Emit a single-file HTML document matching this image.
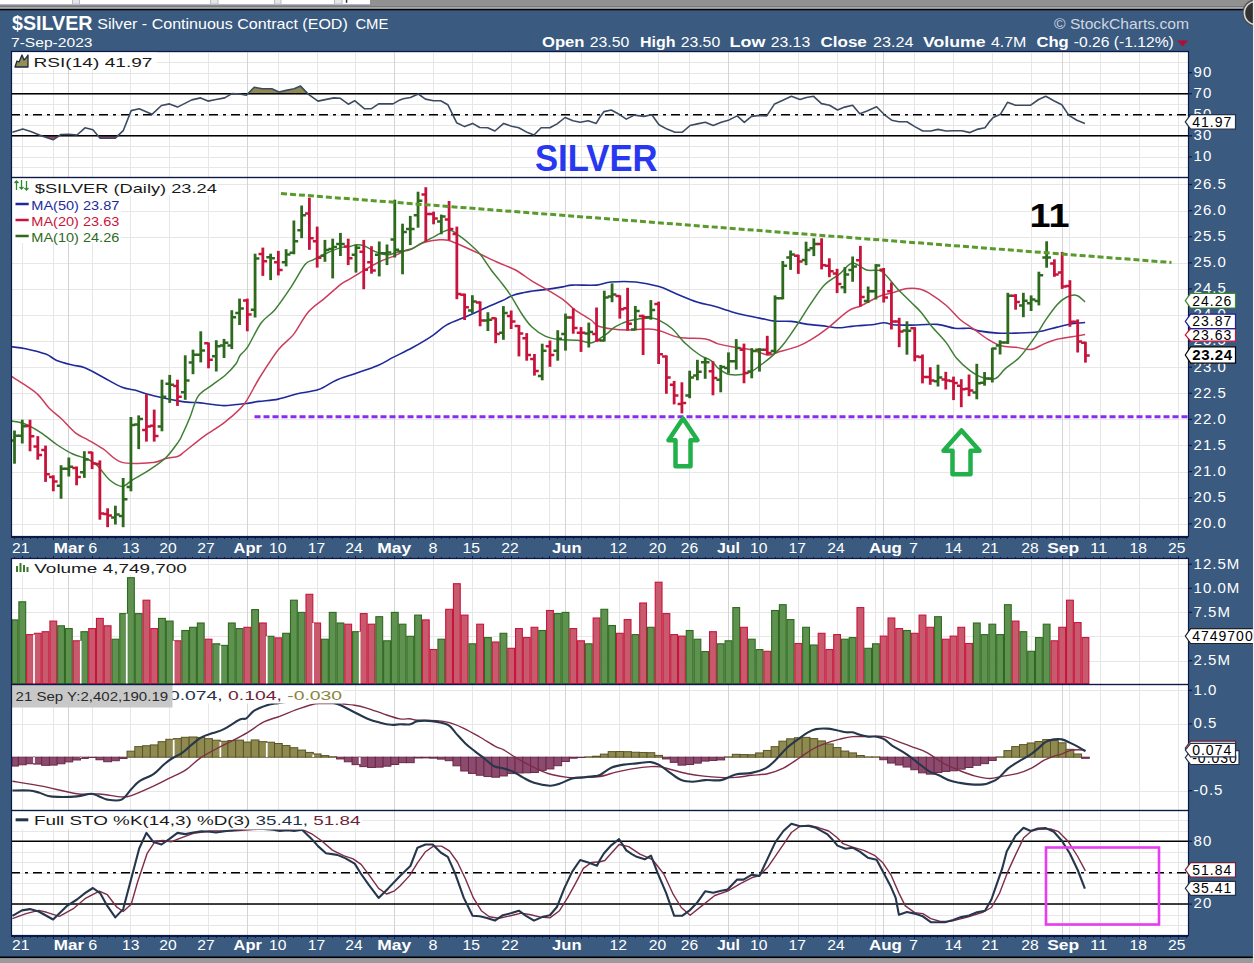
<!DOCTYPE html>
<html><head><meta charset="utf-8"><style>
html,body{margin:0;padding:0;}
body{width:1254px;height:963px;overflow:hidden;background:#3a5a80;position:relative;font-family:"Liberation Sans",sans-serif;}
svg{position:absolute;left:0;top:0;}
svg text{font-family:"Liberation Sans",sans-serif;}
</style></head><body>
<svg width="1254" height="963" viewBox="0 0 1254 963">
<rect x="0" y="0" width="1254" height="963" fill="#3a5a80"/>
<!-- top window strip -->
<rect x="0" y="0" width="1254" height="6.2" fill="#919191"/>
<rect x="0" y="6.2" width="1254" height="0.8" fill="#7e7e7e"/>
<rect x="0" y="7" width="1254" height="1.9" fill="#a9a9a9"/>
<rect x="0" y="8.9" width="1254" height="1.4" fill="#000"/>
<rect x="0" y="0" width="370" height="4.1" fill="#fff"/>
<rect x="0" y="4.1" width="370" height="1" fill="#b3bac6"/>
<rect x="0" y="5.1" width="370" height="1.1" fill="#8a8a8a"/>
<g fill="#e6e6e6" stroke="#b4bccb" stroke-width="1"><rect x="72.5" y="-1" width="7" height="5.1"/><rect x="210.5" y="-1" width="7.5" height="5.1"/><rect x="274.5" y="-1" width="6.5" height="5.1"/><rect x="334.5" y="-1" width="7.5" height="5.1"/></g>
<rect x="345.8" y="0" width="1.5" height="2.8" fill="#333"/>
<rect x="0" y="956" width="1254" height="0.8" fill="#1a2a40"/>
<rect x="0" y="956.8" width="1254" height="1.3" fill="#000"/>
<rect x="0" y="958.1" width="1254" height="5" fill="#9a9a9a"/>
<rect x="1252" y="10" width="0.9" height="946" fill="#2c4a70"/>
<rect x="11" y="51" width="1177" height="126" fill="#fff"/>
<rect x="11" y="177" width="1177" height="359" fill="#fff"/>
<rect x="11" y="558" width="1177" height="126" fill="#fff"/>
<rect x="11" y="684" width="1177" height="126" fill="#fff"/>
<rect x="11" y="810" width="1177" height="125" fill="#fff"/>
<line x1="11" y1="167.5" x2="1188" y2="167.5" stroke="#e7e7e7" stroke-width="1"/>
<line x1="11" y1="157.5" x2="1188" y2="157.5" stroke="#e7e7e7" stroke-width="1"/>
<line x1="11" y1="146.5" x2="1188" y2="146.5" stroke="#e7e7e7" stroke-width="1"/>
<line x1="11" y1="136.5" x2="1188" y2="136.5" stroke="#e7e7e7" stroke-width="1"/>
<line x1="11" y1="125.5" x2="1188" y2="125.5" stroke="#e7e7e7" stroke-width="1"/>
<line x1="11" y1="115.5" x2="1188" y2="115.5" stroke="#e7e7e7" stroke-width="1"/>
<line x1="11" y1="104.5" x2="1188" y2="104.5" stroke="#e7e7e7" stroke-width="1"/>
<line x1="11" y1="94.5" x2="1188" y2="94.5" stroke="#e7e7e7" stroke-width="1"/>
<line x1="11" y1="83.5" x2="1188" y2="83.5" stroke="#e7e7e7" stroke-width="1"/>
<line x1="11" y1="73.5" x2="1188" y2="73.5" stroke="#e7e7e7" stroke-width="1"/>
<line x1="11" y1="62.5" x2="1188" y2="62.5" stroke="#e7e7e7" stroke-width="1"/>
<line x1="11" y1="52.5" x2="1188" y2="52.5" stroke="#e7e7e7" stroke-width="1"/>
<line x1="22.5" y1="52" x2="22.5" y2="177" stroke="#e7e7e7" stroke-width="1"/>
<line x1="53.5" y1="52" x2="53.5" y2="177" stroke="#e7e7e7" stroke-width="1"/>
<line x1="92.5" y1="52" x2="92.5" y2="177" stroke="#e7e7e7" stroke-width="1"/>
<line x1="130.5" y1="52" x2="130.5" y2="177" stroke="#e7e7e7" stroke-width="1"/>
<line x1="169.5" y1="52" x2="169.5" y2="177" stroke="#e7e7e7" stroke-width="1"/>
<line x1="208.5" y1="52" x2="208.5" y2="177" stroke="#e7e7e7" stroke-width="1"/>
<line x1="278.5" y1="52" x2="278.5" y2="177" stroke="#e7e7e7" stroke-width="1"/>
<line x1="317.5" y1="52" x2="317.5" y2="177" stroke="#e7e7e7" stroke-width="1"/>
<line x1="355.5" y1="52" x2="355.5" y2="177" stroke="#e7e7e7" stroke-width="1"/>
<line x1="433.5" y1="52" x2="433.5" y2="177" stroke="#e7e7e7" stroke-width="1"/>
<line x1="472.5" y1="52" x2="472.5" y2="177" stroke="#e7e7e7" stroke-width="1"/>
<line x1="511.5" y1="52" x2="511.5" y2="177" stroke="#e7e7e7" stroke-width="1"/>
<line x1="549.5" y1="52" x2="549.5" y2="177" stroke="#e7e7e7" stroke-width="1"/>
<line x1="581.5" y1="52" x2="581.5" y2="177" stroke="#e7e7e7" stroke-width="1"/>
<line x1="619.5" y1="52" x2="619.5" y2="177" stroke="#e7e7e7" stroke-width="1"/>
<line x1="658.5" y1="52" x2="658.5" y2="177" stroke="#e7e7e7" stroke-width="1"/>
<line x1="689.5" y1="52" x2="689.5" y2="177" stroke="#e7e7e7" stroke-width="1"/>
<line x1="759.5" y1="52" x2="759.5" y2="177" stroke="#e7e7e7" stroke-width="1"/>
<line x1="798.5" y1="52" x2="798.5" y2="177" stroke="#e7e7e7" stroke-width="1"/>
<line x1="837.5" y1="52" x2="837.5" y2="177" stroke="#e7e7e7" stroke-width="1"/>
<line x1="875.5" y1="52" x2="875.5" y2="177" stroke="#e7e7e7" stroke-width="1"/>
<line x1="914.5" y1="52" x2="914.5" y2="177" stroke="#e7e7e7" stroke-width="1"/>
<line x1="953.5" y1="52" x2="953.5" y2="177" stroke="#e7e7e7" stroke-width="1"/>
<line x1="992.5" y1="52" x2="992.5" y2="177" stroke="#e7e7e7" stroke-width="1"/>
<line x1="1031.5" y1="52" x2="1031.5" y2="177" stroke="#e7e7e7" stroke-width="1"/>
<line x1="1069.5" y1="52" x2="1069.5" y2="177" stroke="#e7e7e7" stroke-width="1"/>
<line x1="1100.5" y1="52" x2="1100.5" y2="177" stroke="#e7e7e7" stroke-width="1"/>
<line x1="1139.5" y1="52" x2="1139.5" y2="177" stroke="#e7e7e7" stroke-width="1"/>
<line x1="1178.5" y1="52" x2="1178.5" y2="177" stroke="#e7e7e7" stroke-width="1"/>
<line x1="68.5" y1="52" x2="68.5" y2="177" stroke="#d4d4d4" stroke-width="1"/>
<line x1="247.5" y1="52" x2="247.5" y2="177" stroke="#d4d4d4" stroke-width="1"/>
<line x1="394.5" y1="52" x2="394.5" y2="177" stroke="#d4d4d4" stroke-width="1"/>
<line x1="565.5" y1="52" x2="565.5" y2="177" stroke="#d4d4d4" stroke-width="1"/>
<line x1="728.5" y1="52" x2="728.5" y2="177" stroke="#d4d4d4" stroke-width="1"/>
<line x1="883.5" y1="52" x2="883.5" y2="177" stroke="#d4d4d4" stroke-width="1"/>
<line x1="1062.5" y1="52" x2="1062.5" y2="177" stroke="#d4d4d4" stroke-width="1"/>
<line x1="11" y1="524.5" x2="1188" y2="524.5" stroke="#e7e7e7" stroke-width="1"/>
<line x1="11" y1="498.5" x2="1188" y2="498.5" stroke="#e7e7e7" stroke-width="1"/>
<line x1="11" y1="472.5" x2="1188" y2="472.5" stroke="#e7e7e7" stroke-width="1"/>
<line x1="11" y1="445.5" x2="1188" y2="445.5" stroke="#e7e7e7" stroke-width="1"/>
<line x1="11" y1="419.5" x2="1188" y2="419.5" stroke="#e7e7e7" stroke-width="1"/>
<line x1="11" y1="393.5" x2="1188" y2="393.5" stroke="#e7e7e7" stroke-width="1"/>
<line x1="11" y1="367.5" x2="1188" y2="367.5" stroke="#e7e7e7" stroke-width="1"/>
<line x1="11" y1="341.5" x2="1188" y2="341.5" stroke="#e7e7e7" stroke-width="1"/>
<line x1="11" y1="315.5" x2="1188" y2="315.5" stroke="#e7e7e7" stroke-width="1"/>
<line x1="11" y1="289.5" x2="1188" y2="289.5" stroke="#e7e7e7" stroke-width="1"/>
<line x1="11" y1="263.5" x2="1188" y2="263.5" stroke="#e7e7e7" stroke-width="1"/>
<line x1="11" y1="237.5" x2="1188" y2="237.5" stroke="#e7e7e7" stroke-width="1"/>
<line x1="11" y1="211.5" x2="1188" y2="211.5" stroke="#e7e7e7" stroke-width="1"/>
<line x1="11" y1="184.5" x2="1188" y2="184.5" stroke="#e7e7e7" stroke-width="1"/>
<line x1="22.5" y1="178" x2="22.5" y2="536" stroke="#e7e7e7" stroke-width="1"/>
<line x1="53.5" y1="178" x2="53.5" y2="536" stroke="#e7e7e7" stroke-width="1"/>
<line x1="92.5" y1="178" x2="92.5" y2="536" stroke="#e7e7e7" stroke-width="1"/>
<line x1="130.5" y1="178" x2="130.5" y2="536" stroke="#e7e7e7" stroke-width="1"/>
<line x1="169.5" y1="178" x2="169.5" y2="536" stroke="#e7e7e7" stroke-width="1"/>
<line x1="208.5" y1="178" x2="208.5" y2="536" stroke="#e7e7e7" stroke-width="1"/>
<line x1="278.5" y1="178" x2="278.5" y2="536" stroke="#e7e7e7" stroke-width="1"/>
<line x1="317.5" y1="178" x2="317.5" y2="536" stroke="#e7e7e7" stroke-width="1"/>
<line x1="355.5" y1="178" x2="355.5" y2="536" stroke="#e7e7e7" stroke-width="1"/>
<line x1="433.5" y1="178" x2="433.5" y2="536" stroke="#e7e7e7" stroke-width="1"/>
<line x1="472.5" y1="178" x2="472.5" y2="536" stroke="#e7e7e7" stroke-width="1"/>
<line x1="511.5" y1="178" x2="511.5" y2="536" stroke="#e7e7e7" stroke-width="1"/>
<line x1="549.5" y1="178" x2="549.5" y2="536" stroke="#e7e7e7" stroke-width="1"/>
<line x1="581.5" y1="178" x2="581.5" y2="536" stroke="#e7e7e7" stroke-width="1"/>
<line x1="619.5" y1="178" x2="619.5" y2="536" stroke="#e7e7e7" stroke-width="1"/>
<line x1="658.5" y1="178" x2="658.5" y2="536" stroke="#e7e7e7" stroke-width="1"/>
<line x1="689.5" y1="178" x2="689.5" y2="536" stroke="#e7e7e7" stroke-width="1"/>
<line x1="759.5" y1="178" x2="759.5" y2="536" stroke="#e7e7e7" stroke-width="1"/>
<line x1="798.5" y1="178" x2="798.5" y2="536" stroke="#e7e7e7" stroke-width="1"/>
<line x1="837.5" y1="178" x2="837.5" y2="536" stroke="#e7e7e7" stroke-width="1"/>
<line x1="875.5" y1="178" x2="875.5" y2="536" stroke="#e7e7e7" stroke-width="1"/>
<line x1="914.5" y1="178" x2="914.5" y2="536" stroke="#e7e7e7" stroke-width="1"/>
<line x1="953.5" y1="178" x2="953.5" y2="536" stroke="#e7e7e7" stroke-width="1"/>
<line x1="992.5" y1="178" x2="992.5" y2="536" stroke="#e7e7e7" stroke-width="1"/>
<line x1="1031.5" y1="178" x2="1031.5" y2="536" stroke="#e7e7e7" stroke-width="1"/>
<line x1="1069.5" y1="178" x2="1069.5" y2="536" stroke="#e7e7e7" stroke-width="1"/>
<line x1="1100.5" y1="178" x2="1100.5" y2="536" stroke="#e7e7e7" stroke-width="1"/>
<line x1="1139.5" y1="178" x2="1139.5" y2="536" stroke="#e7e7e7" stroke-width="1"/>
<line x1="1178.5" y1="178" x2="1178.5" y2="536" stroke="#e7e7e7" stroke-width="1"/>
<line x1="68.5" y1="178" x2="68.5" y2="536" stroke="#d4d4d4" stroke-width="1"/>
<line x1="247.5" y1="178" x2="247.5" y2="536" stroke="#d4d4d4" stroke-width="1"/>
<line x1="394.5" y1="178" x2="394.5" y2="536" stroke="#d4d4d4" stroke-width="1"/>
<line x1="565.5" y1="178" x2="565.5" y2="536" stroke="#d4d4d4" stroke-width="1"/>
<line x1="728.5" y1="178" x2="728.5" y2="536" stroke="#d4d4d4" stroke-width="1"/>
<line x1="883.5" y1="178" x2="883.5" y2="536" stroke="#d4d4d4" stroke-width="1"/>
<line x1="1062.5" y1="178" x2="1062.5" y2="536" stroke="#d4d4d4" stroke-width="1"/>
<line x1="11" y1="661.5" x2="1188" y2="661.5" stroke="#e7e7e7" stroke-width="1"/>
<line x1="11" y1="636.5" x2="1188" y2="636.5" stroke="#e7e7e7" stroke-width="1"/>
<line x1="11" y1="612.5" x2="1188" y2="612.5" stroke="#e7e7e7" stroke-width="1"/>
<line x1="11" y1="588.5" x2="1188" y2="588.5" stroke="#e7e7e7" stroke-width="1"/>
<line x1="11" y1="564.5" x2="1188" y2="564.5" stroke="#e7e7e7" stroke-width="1"/>
<line x1="22.5" y1="559" x2="22.5" y2="684" stroke="#e7e7e7" stroke-width="1"/>
<line x1="53.5" y1="559" x2="53.5" y2="684" stroke="#e7e7e7" stroke-width="1"/>
<line x1="92.5" y1="559" x2="92.5" y2="684" stroke="#e7e7e7" stroke-width="1"/>
<line x1="130.5" y1="559" x2="130.5" y2="684" stroke="#e7e7e7" stroke-width="1"/>
<line x1="169.5" y1="559" x2="169.5" y2="684" stroke="#e7e7e7" stroke-width="1"/>
<line x1="208.5" y1="559" x2="208.5" y2="684" stroke="#e7e7e7" stroke-width="1"/>
<line x1="278.5" y1="559" x2="278.5" y2="684" stroke="#e7e7e7" stroke-width="1"/>
<line x1="317.5" y1="559" x2="317.5" y2="684" stroke="#e7e7e7" stroke-width="1"/>
<line x1="355.5" y1="559" x2="355.5" y2="684" stroke="#e7e7e7" stroke-width="1"/>
<line x1="433.5" y1="559" x2="433.5" y2="684" stroke="#e7e7e7" stroke-width="1"/>
<line x1="472.5" y1="559" x2="472.5" y2="684" stroke="#e7e7e7" stroke-width="1"/>
<line x1="511.5" y1="559" x2="511.5" y2="684" stroke="#e7e7e7" stroke-width="1"/>
<line x1="549.5" y1="559" x2="549.5" y2="684" stroke="#e7e7e7" stroke-width="1"/>
<line x1="581.5" y1="559" x2="581.5" y2="684" stroke="#e7e7e7" stroke-width="1"/>
<line x1="619.5" y1="559" x2="619.5" y2="684" stroke="#e7e7e7" stroke-width="1"/>
<line x1="658.5" y1="559" x2="658.5" y2="684" stroke="#e7e7e7" stroke-width="1"/>
<line x1="689.5" y1="559" x2="689.5" y2="684" stroke="#e7e7e7" stroke-width="1"/>
<line x1="759.5" y1="559" x2="759.5" y2="684" stroke="#e7e7e7" stroke-width="1"/>
<line x1="798.5" y1="559" x2="798.5" y2="684" stroke="#e7e7e7" stroke-width="1"/>
<line x1="837.5" y1="559" x2="837.5" y2="684" stroke="#e7e7e7" stroke-width="1"/>
<line x1="875.5" y1="559" x2="875.5" y2="684" stroke="#e7e7e7" stroke-width="1"/>
<line x1="914.5" y1="559" x2="914.5" y2="684" stroke="#e7e7e7" stroke-width="1"/>
<line x1="953.5" y1="559" x2="953.5" y2="684" stroke="#e7e7e7" stroke-width="1"/>
<line x1="992.5" y1="559" x2="992.5" y2="684" stroke="#e7e7e7" stroke-width="1"/>
<line x1="1031.5" y1="559" x2="1031.5" y2="684" stroke="#e7e7e7" stroke-width="1"/>
<line x1="1069.5" y1="559" x2="1069.5" y2="684" stroke="#e7e7e7" stroke-width="1"/>
<line x1="1100.5" y1="559" x2="1100.5" y2="684" stroke="#e7e7e7" stroke-width="1"/>
<line x1="1139.5" y1="559" x2="1139.5" y2="684" stroke="#e7e7e7" stroke-width="1"/>
<line x1="1178.5" y1="559" x2="1178.5" y2="684" stroke="#e7e7e7" stroke-width="1"/>
<line x1="68.5" y1="559" x2="68.5" y2="684" stroke="#d4d4d4" stroke-width="1"/>
<line x1="247.5" y1="559" x2="247.5" y2="684" stroke="#d4d4d4" stroke-width="1"/>
<line x1="394.5" y1="559" x2="394.5" y2="684" stroke="#d4d4d4" stroke-width="1"/>
<line x1="565.5" y1="559" x2="565.5" y2="684" stroke="#d4d4d4" stroke-width="1"/>
<line x1="728.5" y1="559" x2="728.5" y2="684" stroke="#d4d4d4" stroke-width="1"/>
<line x1="883.5" y1="559" x2="883.5" y2="684" stroke="#d4d4d4" stroke-width="1"/>
<line x1="1062.5" y1="559" x2="1062.5" y2="684" stroke="#d4d4d4" stroke-width="1"/>
<line x1="11" y1="690.5" x2="1188" y2="690.5" stroke="#e7e7e7" stroke-width="1"/>
<line x1="11" y1="724.5" x2="1188" y2="724.5" stroke="#e7e7e7" stroke-width="1"/>
<line x1="11" y1="791.5" x2="1188" y2="791.5" stroke="#e7e7e7" stroke-width="1"/>
<line x1="22.5" y1="685" x2="22.5" y2="810" stroke="#e7e7e7" stroke-width="1"/>
<line x1="53.5" y1="685" x2="53.5" y2="810" stroke="#e7e7e7" stroke-width="1"/>
<line x1="92.5" y1="685" x2="92.5" y2="810" stroke="#e7e7e7" stroke-width="1"/>
<line x1="130.5" y1="685" x2="130.5" y2="810" stroke="#e7e7e7" stroke-width="1"/>
<line x1="169.5" y1="685" x2="169.5" y2="810" stroke="#e7e7e7" stroke-width="1"/>
<line x1="208.5" y1="685" x2="208.5" y2="810" stroke="#e7e7e7" stroke-width="1"/>
<line x1="278.5" y1="685" x2="278.5" y2="810" stroke="#e7e7e7" stroke-width="1"/>
<line x1="317.5" y1="685" x2="317.5" y2="810" stroke="#e7e7e7" stroke-width="1"/>
<line x1="355.5" y1="685" x2="355.5" y2="810" stroke="#e7e7e7" stroke-width="1"/>
<line x1="433.5" y1="685" x2="433.5" y2="810" stroke="#e7e7e7" stroke-width="1"/>
<line x1="472.5" y1="685" x2="472.5" y2="810" stroke="#e7e7e7" stroke-width="1"/>
<line x1="511.5" y1="685" x2="511.5" y2="810" stroke="#e7e7e7" stroke-width="1"/>
<line x1="549.5" y1="685" x2="549.5" y2="810" stroke="#e7e7e7" stroke-width="1"/>
<line x1="581.5" y1="685" x2="581.5" y2="810" stroke="#e7e7e7" stroke-width="1"/>
<line x1="619.5" y1="685" x2="619.5" y2="810" stroke="#e7e7e7" stroke-width="1"/>
<line x1="658.5" y1="685" x2="658.5" y2="810" stroke="#e7e7e7" stroke-width="1"/>
<line x1="689.5" y1="685" x2="689.5" y2="810" stroke="#e7e7e7" stroke-width="1"/>
<line x1="759.5" y1="685" x2="759.5" y2="810" stroke="#e7e7e7" stroke-width="1"/>
<line x1="798.5" y1="685" x2="798.5" y2="810" stroke="#e7e7e7" stroke-width="1"/>
<line x1="837.5" y1="685" x2="837.5" y2="810" stroke="#e7e7e7" stroke-width="1"/>
<line x1="875.5" y1="685" x2="875.5" y2="810" stroke="#e7e7e7" stroke-width="1"/>
<line x1="914.5" y1="685" x2="914.5" y2="810" stroke="#e7e7e7" stroke-width="1"/>
<line x1="953.5" y1="685" x2="953.5" y2="810" stroke="#e7e7e7" stroke-width="1"/>
<line x1="992.5" y1="685" x2="992.5" y2="810" stroke="#e7e7e7" stroke-width="1"/>
<line x1="1031.5" y1="685" x2="1031.5" y2="810" stroke="#e7e7e7" stroke-width="1"/>
<line x1="1069.5" y1="685" x2="1069.5" y2="810" stroke="#e7e7e7" stroke-width="1"/>
<line x1="1100.5" y1="685" x2="1100.5" y2="810" stroke="#e7e7e7" stroke-width="1"/>
<line x1="1139.5" y1="685" x2="1139.5" y2="810" stroke="#e7e7e7" stroke-width="1"/>
<line x1="1178.5" y1="685" x2="1178.5" y2="810" stroke="#e7e7e7" stroke-width="1"/>
<line x1="68.5" y1="685" x2="68.5" y2="810" stroke="#d4d4d4" stroke-width="1"/>
<line x1="247.5" y1="685" x2="247.5" y2="810" stroke="#d4d4d4" stroke-width="1"/>
<line x1="394.5" y1="685" x2="394.5" y2="810" stroke="#d4d4d4" stroke-width="1"/>
<line x1="565.5" y1="685" x2="565.5" y2="810" stroke="#d4d4d4" stroke-width="1"/>
<line x1="728.5" y1="685" x2="728.5" y2="810" stroke="#d4d4d4" stroke-width="1"/>
<line x1="883.5" y1="685" x2="883.5" y2="810" stroke="#d4d4d4" stroke-width="1"/>
<line x1="1062.5" y1="685" x2="1062.5" y2="810" stroke="#d4d4d4" stroke-width="1"/>
<line x1="11" y1="925.5" x2="1188" y2="925.5" stroke="#e7e7e7" stroke-width="1"/>
<line x1="11" y1="915.5" x2="1188" y2="915.5" stroke="#e7e7e7" stroke-width="1"/>
<line x1="11" y1="904.5" x2="1188" y2="904.5" stroke="#e7e7e7" stroke-width="1"/>
<line x1="11" y1="894.5" x2="1188" y2="894.5" stroke="#e7e7e7" stroke-width="1"/>
<line x1="11" y1="883.5" x2="1188" y2="883.5" stroke="#e7e7e7" stroke-width="1"/>
<line x1="11" y1="873.5" x2="1188" y2="873.5" stroke="#e7e7e7" stroke-width="1"/>
<line x1="11" y1="862.5" x2="1188" y2="862.5" stroke="#e7e7e7" stroke-width="1"/>
<line x1="11" y1="852.5" x2="1188" y2="852.5" stroke="#e7e7e7" stroke-width="1"/>
<line x1="11" y1="841.5" x2="1188" y2="841.5" stroke="#e7e7e7" stroke-width="1"/>
<line x1="11" y1="831.5" x2="1188" y2="831.5" stroke="#e7e7e7" stroke-width="1"/>
<line x1="11" y1="820.5" x2="1188" y2="820.5" stroke="#e7e7e7" stroke-width="1"/>
<line x1="22.5" y1="811" x2="22.5" y2="935" stroke="#e7e7e7" stroke-width="1"/>
<line x1="53.5" y1="811" x2="53.5" y2="935" stroke="#e7e7e7" stroke-width="1"/>
<line x1="92.5" y1="811" x2="92.5" y2="935" stroke="#e7e7e7" stroke-width="1"/>
<line x1="130.5" y1="811" x2="130.5" y2="935" stroke="#e7e7e7" stroke-width="1"/>
<line x1="169.5" y1="811" x2="169.5" y2="935" stroke="#e7e7e7" stroke-width="1"/>
<line x1="208.5" y1="811" x2="208.5" y2="935" stroke="#e7e7e7" stroke-width="1"/>
<line x1="278.5" y1="811" x2="278.5" y2="935" stroke="#e7e7e7" stroke-width="1"/>
<line x1="317.5" y1="811" x2="317.5" y2="935" stroke="#e7e7e7" stroke-width="1"/>
<line x1="355.5" y1="811" x2="355.5" y2="935" stroke="#e7e7e7" stroke-width="1"/>
<line x1="433.5" y1="811" x2="433.5" y2="935" stroke="#e7e7e7" stroke-width="1"/>
<line x1="472.5" y1="811" x2="472.5" y2="935" stroke="#e7e7e7" stroke-width="1"/>
<line x1="511.5" y1="811" x2="511.5" y2="935" stroke="#e7e7e7" stroke-width="1"/>
<line x1="549.5" y1="811" x2="549.5" y2="935" stroke="#e7e7e7" stroke-width="1"/>
<line x1="581.5" y1="811" x2="581.5" y2="935" stroke="#e7e7e7" stroke-width="1"/>
<line x1="619.5" y1="811" x2="619.5" y2="935" stroke="#e7e7e7" stroke-width="1"/>
<line x1="658.5" y1="811" x2="658.5" y2="935" stroke="#e7e7e7" stroke-width="1"/>
<line x1="689.5" y1="811" x2="689.5" y2="935" stroke="#e7e7e7" stroke-width="1"/>
<line x1="759.5" y1="811" x2="759.5" y2="935" stroke="#e7e7e7" stroke-width="1"/>
<line x1="798.5" y1="811" x2="798.5" y2="935" stroke="#e7e7e7" stroke-width="1"/>
<line x1="837.5" y1="811" x2="837.5" y2="935" stroke="#e7e7e7" stroke-width="1"/>
<line x1="875.5" y1="811" x2="875.5" y2="935" stroke="#e7e7e7" stroke-width="1"/>
<line x1="914.5" y1="811" x2="914.5" y2="935" stroke="#e7e7e7" stroke-width="1"/>
<line x1="953.5" y1="811" x2="953.5" y2="935" stroke="#e7e7e7" stroke-width="1"/>
<line x1="992.5" y1="811" x2="992.5" y2="935" stroke="#e7e7e7" stroke-width="1"/>
<line x1="1031.5" y1="811" x2="1031.5" y2="935" stroke="#e7e7e7" stroke-width="1"/>
<line x1="1069.5" y1="811" x2="1069.5" y2="935" stroke="#e7e7e7" stroke-width="1"/>
<line x1="1100.5" y1="811" x2="1100.5" y2="935" stroke="#e7e7e7" stroke-width="1"/>
<line x1="1139.5" y1="811" x2="1139.5" y2="935" stroke="#e7e7e7" stroke-width="1"/>
<line x1="1178.5" y1="811" x2="1178.5" y2="935" stroke="#e7e7e7" stroke-width="1"/>
<line x1="68.5" y1="811" x2="68.5" y2="935" stroke="#d4d4d4" stroke-width="1"/>
<line x1="247.5" y1="811" x2="247.5" y2="935" stroke="#d4d4d4" stroke-width="1"/>
<line x1="394.5" y1="811" x2="394.5" y2="935" stroke="#d4d4d4" stroke-width="1"/>
<line x1="565.5" y1="811" x2="565.5" y2="935" stroke="#d4d4d4" stroke-width="1"/>
<line x1="728.5" y1="811" x2="728.5" y2="935" stroke="#d4d4d4" stroke-width="1"/>
<line x1="883.5" y1="811" x2="883.5" y2="935" stroke="#d4d4d4" stroke-width="1"/>
<line x1="1062.5" y1="811" x2="1062.5" y2="935" stroke="#d4d4d4" stroke-width="1"/>
<clipPath id="ca"><rect x="0" y="0" width="1254" height="93.75"/></clipPath>
<clipPath id="cb"><rect x="0" y="135.85" width="1254" height="200"/></clipPath>
<polygon clip-path="url(#ca)" points="12.4,132.3 22.8,129.1 30.7,131.4 41.9,136.1 53.1,139.8 61,134.5 69,134.2 77,135 85,127.8 92.9,129.8 100.1,138.2 115.3,138.2 123.2,130.7 131.2,110.6 139.2,108.7 152,114.3 161.5,105.5 169.5,103.9 177.5,107.1 191.8,99.9 200.6,97.9 208,101.1 216,99.5 224.7,97.9 231.9,93.6 239.9,94 246.3,95.2 254.2,87.2 262.2,88.8 271.8,88.8 279,92 286.1,90.4 294.1,88.8 300.5,86.1 308.5,94.4 318,101.1 327.6,99.1 334,97.9 340.4,98.3 348.3,104.2 354.7,100.7 364.3,108.7 371.5,108.7 378.6,103.9 393,103.9 400,99.9 403.2,98.8 410.4,97.5 418.3,94 425.5,99.1 433.5,100.7 440.7,100.7 447.8,104.7 452.6,114.3 456.6,122.7 464.6,126.6 472.6,123.4 479.7,127.5 487.7,127.8 494.9,131 503.7,123.4 511.6,126.3 518.8,127.8 527.6,132.6 534,135 541.1,127.8 549.9,127.8 557.1,123.9 565.1,117.5 573,120.7 580.2,122.3 588.2,120.7 596.2,123.4 600,117 604,111.6 611.2,110 619.1,114.3 626.3,119.1 634.3,115.1 643.9,116.4 651.8,114.8 659,124.7 667,129.1 675,132.3 682.1,132.3 690.1,125.5 697.3,123.9 705.3,122.3 713.2,125.5 721.2,122.3 729.2,119.9 737.2,115.9 744.3,122.3 751.5,116.4 759.5,115.4 766.7,115.9 774.6,103.9 783.4,99.9 791.4,96.3 800,99.5 806.4,97.5 813.6,96.3 821.5,103.6 829.5,105.2 837.5,110 844.7,107.1 852.6,105.2 859.8,113.8 867,111.1 876.6,106.8 884.5,114.8 891.7,120.2 898.9,121.8 906.9,121.8 914.8,126.6 922.8,131 930.8,131 938,129.4 945.9,131 953.9,130.7 961.9,130.7 969.9,132.6 977,129.4 985,127.8 990,121.1 993.2,117.5 1000.4,114.3 1007.5,102.3 1015.5,105.2 1030.7,105.2 1038.6,99.5 1045.8,96.3 1053.8,100.7 1061.8,104.7 1068.9,115.4 1076.9,120.2 1084.9,123.4 1084.9,93.75 12.4,93.75" fill="#8f8a50"/>
<polygon clip-path="url(#cb)" points="12.4,132.3 22.8,129.1 30.7,131.4 41.9,136.1 53.1,139.8 61,134.5 69,134.2 77,135 85,127.8 92.9,129.8 100.1,138.2 115.3,138.2 123.2,130.7 131.2,110.6 139.2,108.7 152,114.3 161.5,105.5 169.5,103.9 177.5,107.1 191.8,99.9 200.6,97.9 208,101.1 216,99.5 224.7,97.9 231.9,93.6 239.9,94 246.3,95.2 254.2,87.2 262.2,88.8 271.8,88.8 279,92 286.1,90.4 294.1,88.8 300.5,86.1 308.5,94.4 318,101.1 327.6,99.1 334,97.9 340.4,98.3 348.3,104.2 354.7,100.7 364.3,108.7 371.5,108.7 378.6,103.9 393,103.9 400,99.9 403.2,98.8 410.4,97.5 418.3,94 425.5,99.1 433.5,100.7 440.7,100.7 447.8,104.7 452.6,114.3 456.6,122.7 464.6,126.6 472.6,123.4 479.7,127.5 487.7,127.8 494.9,131 503.7,123.4 511.6,126.3 518.8,127.8 527.6,132.6 534,135 541.1,127.8 549.9,127.8 557.1,123.9 565.1,117.5 573,120.7 580.2,122.3 588.2,120.7 596.2,123.4 600,117 604,111.6 611.2,110 619.1,114.3 626.3,119.1 634.3,115.1 643.9,116.4 651.8,114.8 659,124.7 667,129.1 675,132.3 682.1,132.3 690.1,125.5 697.3,123.9 705.3,122.3 713.2,125.5 721.2,122.3 729.2,119.9 737.2,115.9 744.3,122.3 751.5,116.4 759.5,115.4 766.7,115.9 774.6,103.9 783.4,99.9 791.4,96.3 800,99.5 806.4,97.5 813.6,96.3 821.5,103.6 829.5,105.2 837.5,110 844.7,107.1 852.6,105.2 859.8,113.8 867,111.1 876.6,106.8 884.5,114.8 891.7,120.2 898.9,121.8 906.9,121.8 914.8,126.6 922.8,131 930.8,131 938,129.4 945.9,131 953.9,130.7 961.9,130.7 969.9,132.6 977,129.4 985,127.8 990,121.1 993.2,117.5 1000.4,114.3 1007.5,102.3 1015.5,105.2 1030.7,105.2 1038.6,99.5 1045.8,96.3 1053.8,100.7 1061.8,104.7 1068.9,115.4 1076.9,120.2 1084.9,123.4 1084.9,135.85 12.4,135.85" fill="#9a4a6a"/>
<line x1="11" y1="93.75" x2="1188" y2="93.75" stroke="#000" stroke-width="1.5"/>
<line x1="11" y1="135.85" x2="1188" y2="135.85" stroke="#000" stroke-width="1.5"/>
<line x1="11" y1="114.8" x2="1188" y2="114.8" stroke="#000" stroke-width="1.5" stroke-dasharray="9,5,3,5"/>
<polyline points="12.4,132.3 22.8,129.1 30.7,131.4 41.9,136.1 53.1,139.8 61,134.5 69,134.2 77,135 85,127.8 92.9,129.8 100.1,138.2 115.3,138.2 123.2,130.7 131.2,110.6 139.2,108.7 152,114.3 161.5,105.5 169.5,103.9 177.5,107.1 191.8,99.9 200.6,97.9 208,101.1 216,99.5 224.7,97.9 231.9,93.6 239.9,94 246.3,95.2 254.2,87.2 262.2,88.8 271.8,88.8 279,92 286.1,90.4 294.1,88.8 300.5,86.1 308.5,94.4 318,101.1 327.6,99.1 334,97.9 340.4,98.3 348.3,104.2 354.7,100.7 364.3,108.7 371.5,108.7 378.6,103.9 393,103.9 400,99.9 403.2,98.8 410.4,97.5 418.3,94 425.5,99.1 433.5,100.7 440.7,100.7 447.8,104.7 452.6,114.3 456.6,122.7 464.6,126.6 472.6,123.4 479.7,127.5 487.7,127.8 494.9,131 503.7,123.4 511.6,126.3 518.8,127.8 527.6,132.6 534,135 541.1,127.8 549.9,127.8 557.1,123.9 565.1,117.5 573,120.7 580.2,122.3 588.2,120.7 596.2,123.4 600,117 604,111.6 611.2,110 619.1,114.3 626.3,119.1 634.3,115.1 643.9,116.4 651.8,114.8 659,124.7 667,129.1 675,132.3 682.1,132.3 690.1,125.5 697.3,123.9 705.3,122.3 713.2,125.5 721.2,122.3 729.2,119.9 737.2,115.9 744.3,122.3 751.5,116.4 759.5,115.4 766.7,115.9 774.6,103.9 783.4,99.9 791.4,96.3 800,99.5 806.4,97.5 813.6,96.3 821.5,103.6 829.5,105.2 837.5,110 844.7,107.1 852.6,105.2 859.8,113.8 867,111.1 876.6,106.8 884.5,114.8 891.7,120.2 898.9,121.8 906.9,121.8 914.8,126.6 922.8,131 930.8,131 938,129.4 945.9,131 953.9,130.7 961.9,130.7 969.9,132.6 977,129.4 985,127.8 990,121.1 993.2,117.5 1000.4,114.3 1007.5,102.3 1015.5,105.2 1030.7,105.2 1038.6,99.5 1045.8,96.3 1053.8,100.7 1061.8,104.7 1068.9,115.4 1076.9,120.2 1084.9,123.4" fill="none" stroke="#3c4b62" stroke-width="1.6" stroke-linejoin="round"/>
<text x="535" y="171.2" font-size="36" fill="#2838f0" font-weight="bold" text-anchor="start" textLength="122.5" lengthAdjust="spacingAndGlyphs">SILVER</text>
<path d="M11.9 346.8C14.18 347.12 19.95 347.48 25.6 348.7C31.25 349.92 40.62 352.15 45.8 354.1C50.98 356.05 52.28 358.58 56.7 360.4C61.12 362.22 67.62 363.78 72.3 365C76.98 366.22 79.6 365.62 84.8 367.7C90 369.78 97.28 374.23 103.5 377.5C109.72 380.77 116.92 385.22 122.1 387.3C127.28 389.38 130.45 388.9 134.6 390C138.75 391.1 142.33 392.6 147 393.9C151.67 395.2 157.4 396.63 162.6 397.8C167.8 398.97 173.63 400.13 178.2 400.9C182.77 401.67 186.67 402.12 190 402.4C193.33 402.68 195.03 402.33 198.2 402.6C201.37 402.87 204.73 403.5 209 404C213.27 404.5 219.3 405.52 223.8 405.6C228.3 405.68 232.17 404.85 236 404.5C239.83 404.15 242.95 404.02 246.8 403.5C250.65 402.98 253.85 402.13 259.1 401.4C264.35 400.67 271.92 400.37 278.3 399.1C284.68 397.83 290.7 395.38 297.4 393.8C304.1 392.22 312.12 391.83 318.5 389.6C324.88 387.37 329.65 383.05 335.7 380.4C341.75 377.75 347.78 376.18 354.8 373.7C361.82 371.22 371.42 368.22 377.8 365.5C384.18 362.78 387.37 360.35 393.1 357.4C398.83 354.45 405.82 351.3 412.2 347.8C418.58 344.3 425.65 340.22 431.4 336.4C437.15 332.58 440.97 328.17 446.7 324.9C452.43 321.63 460.25 319.2 465.8 316.8C471.35 314.4 476.22 312.23 480 310.5C483.78 308.77 484.83 308.02 488.5 306.4C492.17 304.78 497.75 302.7 502 300.8C506.25 298.9 509.5 296.53 514 295C518.5 293.47 523.8 292.5 529 291.6C534.2 290.7 539.58 290.38 545.2 289.6C550.82 288.82 558.2 287.65 562.7 286.9C567.2 286.15 566.57 285.4 572.2 285.1C577.83 284.8 590.03 285.62 596.5 285.1C602.97 284.58 604.45 282.52 611 282C617.55 281.48 627.8 281.23 635.8 282C643.8 282.77 652.47 284.73 659 286.6C665.53 288.47 668.67 290.63 675 293.2C681.33 295.77 690.45 299.82 697 302C703.55 304.18 709.13 304.87 714.3 306.3C719.47 307.73 723.78 309.32 728 310.6C732.22 311.88 734.33 312.75 739.6 314C744.87 315.25 753.78 316.92 759.6 318.1C765.42 319.28 769.23 320.55 774.5 321.1C779.77 321.65 785.65 320.85 791.2 321.4C796.75 321.95 802.83 323.7 807.8 324.4C812.77 325.1 816.02 325.03 821 325.6C825.98 326.17 833.2 327.6 837.7 327.8C842.2 328 844.67 327.15 848 326.8C851.33 326.45 853.73 326.03 857.7 325.7C861.67 325.37 867.38 325.3 871.8 324.8C876.22 324.3 880.67 322.7 884.2 322.7C887.73 322.7 888.6 324.4 893 324.8C897.4 325.2 903.25 325.17 910.6 325.1C917.95 325.03 929.73 323.87 937.1 324.4C944.47 324.93 949.32 327.65 954.8 328.3C960.28 328.95 966.02 327.87 970 328.3C973.98 328.73 974.13 330.1 978.7 330.9C983.27 331.7 991.18 332.73 997.4 333.1C1003.62 333.47 1009.17 333.32 1016 333.1C1022.83 332.88 1031.55 332.8 1038.4 331.8C1045.25 330.8 1051.48 328.43 1057.1 327.1C1062.72 325.77 1067.43 324.57 1072.1 323.8C1076.77 323.03 1082.93 322.72 1085.1 322.5" fill="none" stroke="#1e2a9a" stroke-width="1.6"/>
<path d="M11.9 376.7C14.18 378.13 21.25 382.32 25.6 385.3C29.95 388.28 34.1 390.83 38 394.6C41.9 398.37 45.1 403.87 49 407.9C52.9 411.93 57 414.65 61.4 418.8C65.8 422.95 70.98 429.3 75.4 432.8C79.82 436.3 83.22 437.07 87.9 439.8C92.58 442.53 97.8 445.43 103.5 449.2C109.2 452.97 113.8 460.2 122.1 462.4C130.4 464.6 146.02 463.05 153.3 462.4C160.58 461.75 161.65 459.53 165.8 458.5C169.95 457.47 175.05 457.37 178.2 456.2C181.35 455.03 180.47 454.77 184.7 451.5C188.93 448.23 196.85 441.55 203.6 436.6C210.35 431.65 218.45 427.2 225.2 421.8C231.95 416.4 238.45 411.42 244.1 404.2C249.75 396.98 253.4 387.57 259.1 378.5C264.8 369.43 272.55 357.15 278.3 349.8C284.05 342.45 288.63 340.67 293.6 334.4C298.57 328.13 302.9 318.25 308.1 312.2C313.3 306.15 319.25 302.82 324.8 298.1C330.35 293.38 337.2 287.1 341.4 283.9C345.6 280.7 346.07 281.25 350 278.9C353.93 276.55 360 272.7 365 269.8C370 266.9 375 263.87 380 261.5C385 259.13 390.83 257.4 395 255.6C399.17 253.8 402 251.93 405 250.7C408 249.47 409.7 249.6 413 248.2C416.3 246.8 420.33 243.7 424.8 242.3C429.27 240.9 435.93 240.15 439.8 239.8C443.67 239.45 444.97 239.5 448 240.2C451.03 240.9 452.67 241.7 458 244C463.33 246.3 473.33 250.92 480 254C486.67 257.08 492.08 259.83 498 262.5C503.92 265.17 509.88 266.95 515.5 270C521.12 273.05 526.3 277.43 531.7 280.8C537.1 284.17 542.52 286.93 547.9 290.2C553.28 293.47 559.5 297.13 564 300.4C568.5 303.67 570.4 306.53 574.9 309.8C579.4 313.07 587.15 317.3 591 320C594.85 322.7 594.42 324.48 598 326C601.58 327.52 607.67 328.43 612.5 329.1C617.33 329.77 620.92 330 627 330C633.08 330 643.42 328.93 649 329.1C654.58 329.27 655.43 329.6 660.5 331C665.57 332.4 671.88 336.17 679.4 337.5C686.92 338.83 699.17 337.93 705.6 339C712.03 340.07 713.17 342.53 718 343.9C722.83 345.27 729.07 346.23 734.6 347.2C740.13 348.17 745.65 348.4 751.2 349.7C756.75 351 763.47 354.58 767.9 355C772.33 355.42 772.82 353.63 777.8 352.2C782.78 350.77 792.25 348.48 797.8 346.4C803.35 344.32 806.12 342.75 811.1 339.7C816.08 336.65 821.55 332.87 827.7 328.1C833.85 323.33 842.42 314.83 848 311.1C853.58 307.37 856.05 308.13 861.2 305.7C866.35 303.27 873.6 298.68 878.9 296.5C884.2 294.32 888.3 293.92 893 292.6C897.7 291.28 902.68 289.18 907.1 288.6C911.52 288.02 915.38 288.07 919.5 289.1C923.62 290.13 927.38 292.1 931.8 294.8C936.22 297.5 941.28 301.18 946 305.3C950.72 309.42 956.1 315.97 960.1 319.5C964.1 323.03 967.53 324.77 970 326.5C972.47 328.23 971.9 327.77 974.9 329.9C977.9 332.03 983.63 336.65 988 339.3C992.37 341.95 996.43 344.47 1001.1 345.8C1005.77 347.13 1011.02 346.68 1016 347.3C1020.98 347.92 1026.33 350.07 1031 349.5C1035.67 348.93 1039.65 345.6 1044 343.9C1048.35 342.2 1052.42 340.48 1057.1 339.3C1061.78 338.12 1067.43 337.58 1072.1 336.8C1076.77 336.02 1082.93 334.97 1085.1 334.6" fill="none" stroke="#cc3c5c" stroke-width="1.5"/>
<path d="M11.9 421.1C14.18 421.62 20.72 422.25 25.6 424.2C30.48 426.15 36.02 429.42 41.2 432.8C46.38 436.18 51.52 441 56.7 444.5C61.88 448 67.1 451.33 72.3 453.8C77.5 456.27 83.75 457.35 87.9 459.3C92.05 461.25 93.57 462.05 97.2 465.5C100.83 468.95 105.57 476.52 109.7 480C113.83 483.48 118.37 486.32 122 486.4C125.63 486.48 128.5 482.3 131.5 480.5C134.5 478.7 136.88 477.45 140 475.6C143.12 473.75 145.9 472.38 150.2 469.4C154.5 466.42 161.13 462.25 165.8 457.7C170.47 453.15 175.5 445.83 178.2 442.1C180.9 438.37 180.03 439.45 182 435.3C183.97 431.15 187.3 423.73 190 417.2C192.7 410.67 194.58 401.42 198.2 396.1C201.82 390.78 207.2 388.78 211.7 385.3C216.2 381.82 221.15 378.8 225.2 375.2C229.25 371.6 233.53 366.98 236 363.7C238.47 360.42 238.05 358.3 240 355.5C241.95 352.7 244.18 352.32 247.7 346.9C251.22 341.48 256.57 329.2 261.1 323C265.63 316.8 269.83 315.8 274.9 309.7C279.97 303.6 286.52 293.88 291.5 286.4C296.48 278.92 301.2 269.23 304.8 264.8C308.4 260.37 309.77 261.6 313.1 259.8C316.43 258 320.08 256.07 324.8 254C329.52 251.93 337.2 248.65 341.4 247.4C345.6 246.15 347.47 246.93 350 246.5C352.53 246.07 354.1 244.85 356.6 244.8C359.1 244.75 361.93 245.08 365 246.2C368.07 247.32 371.17 250.07 375 251.5C378.83 252.93 383.83 254.85 388 254.8C392.17 254.75 396.33 252.03 400 251.2C403.67 250.37 406.42 251.13 410 249.8C413.58 248.47 417.67 245.27 421.5 243.2C425.33 241.13 428.58 239.62 433 237.4C437.42 235.18 443.83 230.32 448 229.9C452.17 229.48 454.38 232.55 458 234.9C461.62 237.25 466.03 240.82 469.7 244C473.37 247.18 476.42 249.67 480 254C483.58 258.33 487.98 265.65 491.2 270C494.42 274.35 496.17 276.05 499.3 280.1C502.43 284.15 506.18 288.57 510 294.3C513.82 300.03 518.58 309.1 522.2 314.5C525.82 319.9 527.87 323.1 531.7 326.7C535.53 330.3 540.7 333.97 545.2 336.1C549.7 338.23 553.3 338.82 558.7 339.5C564.1 340.18 572.22 339.63 577.6 340.2C582.98 340.77 587.6 342.98 591 342.9C594.4 342.82 595.38 341.2 598 339.7C600.62 338.2 603.78 336.08 606.7 333.9C609.62 331.72 611.62 328.85 615.5 326.6C619.38 324.35 624.2 321.85 630 320.4C635.8 318.95 645.47 317.95 650.3 317.9C655.13 317.85 655.35 318.28 659 320.1C662.65 321.92 667.83 324.93 672.2 328.8C676.57 332.67 680.6 338.93 685.2 343.3C689.8 347.67 695.43 352.08 699.8 355C704.17 357.92 708.37 358.63 711.4 360.8C714.43 362.97 714.97 365.7 718 368C721.03 370.3 724.6 373.77 729.6 374.6C734.6 375.43 742.73 374.65 748 373C753.27 371.35 756.78 367.88 761.2 364.7C765.62 361.52 770.62 357.52 774.5 353.9C778.38 350.28 780.9 347.58 784.5 343C788.1 338.42 791.67 333.03 796.1 326.4C800.53 319.77 806.38 310.12 811.1 303.2C815.82 296.28 819.58 289.83 824.4 284.9C829.22 279.97 835.33 277.25 840 273.6C844.67 269.95 847.98 263.6 852.4 263C856.82 262.4 862.08 268.77 866.5 270C870.92 271.23 875.65 269.52 878.9 270.4C882.15 271.28 883.07 272.42 886 275.3C888.93 278.18 892.4 283.28 896.5 287.7C900.6 292.12 906.48 297.68 910.6 301.8C914.72 305.92 917.67 308.28 921.2 312.4C924.73 316.52 927.67 321.5 931.8 326.5C935.93 331.5 941.87 337.1 946 342.4C950.13 347.7 952.6 353.58 956.6 358.3C960.6 363.02 965.7 367.5 970 370.7C974.3 373.9 978.15 376.2 982.4 377.5C986.65 378.8 991.77 379.9 995.5 378.5C999.23 377.1 1000.75 372.68 1004.8 369.1C1008.85 365.52 1014.82 362.28 1019.8 357C1024.78 351.72 1030.35 343.62 1034.7 337.4C1039.05 331.18 1042.17 325.15 1045.9 319.7C1049.63 314.25 1053.67 308.45 1057.1 304.7C1060.53 300.95 1063.23 298.75 1066.5 297.2C1069.77 295.65 1073.6 294.62 1076.7 295.4C1079.8 296.18 1083.7 300.82 1085.1 301.9" fill="none" stroke="#3f7f35" stroke-width="1.5"/>
<path d="M14.51 430.5V463.7" stroke="#2e6a1e" stroke-width="2.8" fill="none"/>
<path d="M10.21 440.5H14.51M14.51 435.8H18.81" stroke="#2e6a1e" stroke-width="2.5" fill="none"/>
<path d="M22.27 419.7V443.5" stroke="#2e6a1e" stroke-width="2.8" fill="none"/>
<path d="M17.97 435.8H22.27M22.27 426.3H26.57" stroke="#2e6a1e" stroke-width="2.5" fill="none"/>
<path d="M30.03 419.7V451.3" stroke="#c8143c" stroke-width="2.8" fill="none"/>
<path d="M25.73 426H30.03M30.03 436.2H34.33" stroke="#c8143c" stroke-width="2.5" fill="none"/>
<path d="M37.79 436.1V459.7" stroke="#c8143c" stroke-width="2.8" fill="none"/>
<path d="M33.49 446.6H37.79M37.79 455H42.09" stroke="#c8143c" stroke-width="2.5" fill="none"/>
<path d="M45.55 445.6V481.9" stroke="#c8143c" stroke-width="2.8" fill="none"/>
<path d="M41.25 450H45.55M45.55 474.2H49.85" stroke="#c8143c" stroke-width="2.5" fill="none"/>
<path d="M53.31 475.3V491.3" stroke="#c8143c" stroke-width="2.8" fill="none"/>
<path d="M49.01 477H53.31M53.31 481.6H57.61" stroke="#c8143c" stroke-width="2.5" fill="none"/>
<path d="M61.07 465.2V498.8" stroke="#2e6a1e" stroke-width="2.8" fill="none"/>
<path d="M56.77 485.7H61.07M61.07 468.8H65.37" stroke="#2e6a1e" stroke-width="2.5" fill="none"/>
<path d="M68.83 457.5V476.5" stroke="#2e6a1e" stroke-width="2.8" fill="none"/>
<path d="M64.53 468.8H68.83M68.83 466.8H73.13" stroke="#2e6a1e" stroke-width="2.5" fill="none"/>
<path d="M76.59 466.5V485.3" stroke="#c8143c" stroke-width="2.8" fill="none"/>
<path d="M72.29 468H76.59M76.59 477H80.89" stroke="#c8143c" stroke-width="2.5" fill="none"/>
<path d="M84.35 451.2V477.9" stroke="#2e6a1e" stroke-width="2.8" fill="none"/>
<path d="M80.05 472.2H84.35M84.35 459.4H88.65" stroke="#2e6a1e" stroke-width="2.5" fill="none"/>
<path d="M92.11 451.7V469.1" stroke="#c8143c" stroke-width="2.8" fill="none"/>
<path d="M87.81 452.6H92.11M92.11 463.4H96.41" stroke="#c8143c" stroke-width="2.5" fill="none"/>
<path d="M99.87 460.4V519.7" stroke="#c8143c" stroke-width="2.8" fill="none"/>
<path d="M95.57 464.1H99.87M99.87 513.4H104.17" stroke="#c8143c" stroke-width="2.5" fill="none"/>
<path d="M107.63 508.3V527.2" stroke="#c8143c" stroke-width="2.8" fill="none"/>
<path d="M103.33 514H107.63M107.63 515.4H111.93" stroke="#c8143c" stroke-width="2.5" fill="none"/>
<path d="M115.39 505.7V524.5" stroke="#2e6a1e" stroke-width="2.8" fill="none"/>
<path d="M111.09 517.4H115.39M115.39 514.5H119.69" stroke="#2e6a1e" stroke-width="2.5" fill="none"/>
<path d="M123.16 478V527.2" stroke="#2e6a1e" stroke-width="2.8" fill="none"/>
<path d="M118.86 516H123.16M123.16 499.2H127.46" stroke="#2e6a1e" stroke-width="2.5" fill="none"/>
<path d="M130.92 417V491.3" stroke="#2e6a1e" stroke-width="2.8" fill="none"/>
<path d="M126.62 487H130.92M130.92 425H135.22" stroke="#2e6a1e" stroke-width="2.5" fill="none"/>
<path d="M138.68 415.4V449.1" stroke="#2e6a1e" stroke-width="2.8" fill="none"/>
<path d="M134.38 424.5H138.68M138.68 419H142.98" stroke="#2e6a1e" stroke-width="2.5" fill="none"/>
<path d="M146.44 394.2V441.6" stroke="#c8143c" stroke-width="2.8" fill="none"/>
<path d="M142.14 429.9H146.44M146.44 426.5H150.74" stroke="#c8143c" stroke-width="2.5" fill="none"/>
<path d="M154.2 409.6V441.6" stroke="#c8143c" stroke-width="2.8" fill="none"/>
<path d="M149.9 425.8H154.2M154.2 436H158.5" stroke="#c8143c" stroke-width="2.5" fill="none"/>
<path d="M161.96 379.7V431.3" stroke="#2e6a1e" stroke-width="2.8" fill="none"/>
<path d="M157.66 426.5H161.96M161.96 396.8H166.26" stroke="#2e6a1e" stroke-width="2.5" fill="none"/>
<path d="M169.72 374.9V402.9" stroke="#2e6a1e" stroke-width="2.8" fill="none"/>
<path d="M165.42 383.7H169.72M169.72 384.7H174.02" stroke="#2e6a1e" stroke-width="2.5" fill="none"/>
<path d="M177.48 379.7V405.9" stroke="#c8143c" stroke-width="2.8" fill="none"/>
<path d="M173.18 386H177.48M177.48 396.8H181.78" stroke="#c8143c" stroke-width="2.5" fill="none"/>
<path d="M185.24 355.3V399.8" stroke="#2e6a1e" stroke-width="2.8" fill="none"/>
<path d="M180.94 392.3H185.24M185.24 380.6H189.54" stroke="#2e6a1e" stroke-width="2.5" fill="none"/>
<path d="M193 349.7V374.2" stroke="#2e6a1e" stroke-width="2.8" fill="none"/>
<path d="M188.7 362.4H193M193 354.7H197.3" stroke="#2e6a1e" stroke-width="2.5" fill="none"/>
<path d="M200.76 331.3V362.4" stroke="#2e6a1e" stroke-width="2.8" fill="none"/>
<path d="M196.46 354.7H200.76M200.76 350.5H205.06" stroke="#2e6a1e" stroke-width="2.5" fill="none"/>
<path d="M208.52 342.5V368.3" stroke="#c8143c" stroke-width="2.8" fill="none"/>
<path d="M204.22 343.2H208.52M208.52 359.7H212.82" stroke="#c8143c" stroke-width="2.5" fill="none"/>
<path d="M216.28 340.2V371.5" stroke="#2e6a1e" stroke-width="2.8" fill="none"/>
<path d="M211.98 356.3H216.28M216.28 346.2H220.58" stroke="#2e6a1e" stroke-width="2.5" fill="none"/>
<path d="M224.04 338.9V358" stroke="#2e6a1e" stroke-width="2.8" fill="none"/>
<path d="M219.74 345.5H224.04M224.04 342.8H228.34" stroke="#2e6a1e" stroke-width="2.5" fill="none"/>
<path d="M231.8 310.2V349.1" stroke="#2e6a1e" stroke-width="2.8" fill="none"/>
<path d="M227.5 345.4H231.8M231.8 317.2H236.1" stroke="#2e6a1e" stroke-width="2.5" fill="none"/>
<path d="M239.56 298.6V325" stroke="#2e6a1e" stroke-width="2.8" fill="none"/>
<path d="M235.26 313H239.56M239.56 308.4H243.86" stroke="#2e6a1e" stroke-width="2.5" fill="none"/>
<path d="M247.32 298.6V331.3" stroke="#c8143c" stroke-width="2.8" fill="none"/>
<path d="M243.02 300.6H247.32M247.32 314.4H251.62" stroke="#c8143c" stroke-width="2.5" fill="none"/>
<path d="M255.08 253.7V317.5" stroke="#2e6a1e" stroke-width="2.8" fill="none"/>
<path d="M250.78 309.7H255.08M255.08 258.5H259.38" stroke="#2e6a1e" stroke-width="2.5" fill="none"/>
<path d="M262.84 247.6V275.9" stroke="#c8143c" stroke-width="2.8" fill="none"/>
<path d="M258.54 254H262.84M262.84 261.2H267.14" stroke="#c8143c" stroke-width="2.5" fill="none"/>
<path d="M270.6 253.7V280.1" stroke="#2e6a1e" stroke-width="2.8" fill="none"/>
<path d="M266.3 257.3H270.6M270.6 258.2H274.9" stroke="#2e6a1e" stroke-width="2.5" fill="none"/>
<path d="M278.36 250.9V275.4" stroke="#c8143c" stroke-width="2.8" fill="none"/>
<path d="M274.06 262.3H278.36M278.36 270.1H282.66" stroke="#c8143c" stroke-width="2.5" fill="none"/>
<path d="M286.12 249.2V266.4" stroke="#2e6a1e" stroke-width="2.8" fill="none"/>
<path d="M281.82 262.3H286.12M286.12 254.5H290.42" stroke="#2e6a1e" stroke-width="2.5" fill="none"/>
<path d="M293.88 220.5V254.3" stroke="#2e6a1e" stroke-width="2.8" fill="none"/>
<path d="M289.58 252.8H293.88M293.88 241.2H298.18" stroke="#2e6a1e" stroke-width="2.5" fill="none"/>
<path d="M301.64 205.5V238.2" stroke="#2e6a1e" stroke-width="2.8" fill="none"/>
<path d="M297.34 230.2H301.64M301.64 215.3H305.94" stroke="#2e6a1e" stroke-width="2.5" fill="none"/>
<path d="M309.4 197.7V249.8" stroke="#c8143c" stroke-width="2.8" fill="none"/>
<path d="M305.1 213.6H309.4M309.4 238.2H313.7" stroke="#c8143c" stroke-width="2.5" fill="none"/>
<path d="M317.17 226.6V267.6" stroke="#c8143c" stroke-width="2.8" fill="none"/>
<path d="M312.87 241.2H317.17M317.17 257.8H321.47" stroke="#c8143c" stroke-width="2.5" fill="none"/>
<path d="M324.93 239.9V261.8" stroke="#2e6a1e" stroke-width="2.8" fill="none"/>
<path d="M320.63 255.7H324.93M324.93 249.9H329.23" stroke="#2e6a1e" stroke-width="2.5" fill="none"/>
<path d="M332.69 238.7V278.4" stroke="#2e6a1e" stroke-width="2.8" fill="none"/>
<path d="M328.39 249H332.69M332.69 246.9H336.99" stroke="#2e6a1e" stroke-width="2.5" fill="none"/>
<path d="M340.45 232.9V256" stroke="#2e6a1e" stroke-width="2.8" fill="none"/>
<path d="M336.15 244H340.45M340.45 244H344.75" stroke="#2e6a1e" stroke-width="2.5" fill="none"/>
<path d="M348.21 238.7V265.1" stroke="#c8143c" stroke-width="2.8" fill="none"/>
<path d="M343.91 246.5H348.21M348.21 258.2H352.51" stroke="#c8143c" stroke-width="2.5" fill="none"/>
<path d="M355.97 244.9V272.6" stroke="#2e6a1e" stroke-width="2.8" fill="none"/>
<path d="M351.67 254.8H355.97M355.97 247.8H360.27" stroke="#2e6a1e" stroke-width="2.5" fill="none"/>
<path d="M363.73 239.9V289.2" stroke="#c8143c" stroke-width="2.8" fill="none"/>
<path d="M359.43 251.8H363.73M363.73 269.8H368.03" stroke="#c8143c" stroke-width="2.5" fill="none"/>
<path d="M371.49 246.2V273.7" stroke="#c8143c" stroke-width="2.8" fill="none"/>
<path d="M367.19 262.3H371.49M371.49 270.5H375.79" stroke="#c8143c" stroke-width="2.5" fill="none"/>
<path d="M379.25 241.5V276.4" stroke="#2e6a1e" stroke-width="2.8" fill="none"/>
<path d="M374.95 254.8H379.25M379.25 253.2H383.55" stroke="#2e6a1e" stroke-width="2.5" fill="none"/>
<path d="M387.01 244.5V265.1" stroke="#2e6a1e" stroke-width="2.8" fill="none"/>
<path d="M382.71 253.2H387.01M387.01 252.5H391.31" stroke="#2e6a1e" stroke-width="2.5" fill="none"/>
<path d="M394.77 199.7V257.6" stroke="#2e6a1e" stroke-width="2.8" fill="none"/>
<path d="M390.47 239.5H394.77M394.77 249.8H399.07" stroke="#2e6a1e" stroke-width="2.5" fill="none"/>
<path d="M402.53 223.7V274.3" stroke="#2e6a1e" stroke-width="2.8" fill="none"/>
<path d="M398.23 251.5H402.53M402.53 231.9H406.83" stroke="#2e6a1e" stroke-width="2.5" fill="none"/>
<path d="M410.29 215.9V245.1" stroke="#2e6a1e" stroke-width="2.8" fill="none"/>
<path d="M405.99 229H410.29M410.29 229H414.59" stroke="#2e6a1e" stroke-width="2.5" fill="none"/>
<path d="M418.05 191.7V227.7" stroke="#2e6a1e" stroke-width="2.8" fill="none"/>
<path d="M413.75 215.2H418.05M418.05 200.8H422.35" stroke="#2e6a1e" stroke-width="2.5" fill="none"/>
<path d="M425.81 187.2V241.8" stroke="#c8143c" stroke-width="2.8" fill="none"/>
<path d="M421.51 194.6H425.81M425.81 214.1H430.11" stroke="#c8143c" stroke-width="2.5" fill="none"/>
<path d="M433.57 211.6V224.3" stroke="#c8143c" stroke-width="2.8" fill="none"/>
<path d="M429.27 214.1H433.57M433.57 218.6H437.87" stroke="#c8143c" stroke-width="2.5" fill="none"/>
<path d="M441.33 214.6V234.3" stroke="#2e6a1e" stroke-width="2.8" fill="none"/>
<path d="M437.03 221.6H441.33M441.33 216.6H445.63" stroke="#2e6a1e" stroke-width="2.5" fill="none"/>
<path d="M449.09 201V240.1" stroke="#c8143c" stroke-width="2.8" fill="none"/>
<path d="M444.79 219.6H449.09M449.09 229H453.39" stroke="#c8143c" stroke-width="2.5" fill="none"/>
<path d="M456.85 226.6V299.2" stroke="#c8143c" stroke-width="2.8" fill="none"/>
<path d="M452.55 234H456.85M456.85 293.9H461.15" stroke="#c8143c" stroke-width="2.5" fill="none"/>
<path d="M464.61 293.6V320" stroke="#c8143c" stroke-width="2.8" fill="none"/>
<path d="M460.31 294.7H464.61M464.61 307.2H468.91" stroke="#c8143c" stroke-width="2.5" fill="none"/>
<path d="M472.37 295.2V313.3" stroke="#2e6a1e" stroke-width="2.8" fill="none"/>
<path d="M468.07 310.5H472.37M472.37 301.4H476.67" stroke="#2e6a1e" stroke-width="2.5" fill="none"/>
<path d="M480.13 301.4V326.3" stroke="#c8143c" stroke-width="2.8" fill="none"/>
<path d="M475.83 302.4H480.13M480.13 320.6H484.43" stroke="#c8143c" stroke-width="2.5" fill="none"/>
<path d="M487.89 312.2V331" stroke="#2e6a1e" stroke-width="2.8" fill="none"/>
<path d="M483.59 320.6H487.89M487.89 319.8H492.19" stroke="#2e6a1e" stroke-width="2.5" fill="none"/>
<path d="M495.65 317.6V343.2" stroke="#c8143c" stroke-width="2.8" fill="none"/>
<path d="M491.35 318.3H495.65M495.65 334.1H499.95" stroke="#c8143c" stroke-width="2.5" fill="none"/>
<path d="M503.41 306.1V339.8" stroke="#2e6a1e" stroke-width="2.8" fill="none"/>
<path d="M499.11 332.8H503.41M503.41 312.9H507.71" stroke="#2e6a1e" stroke-width="2.5" fill="none"/>
<path d="M511.18 310.5V329" stroke="#c8143c" stroke-width="2.8" fill="none"/>
<path d="M506.88 315.9H511.18M511.18 321.6H515.48" stroke="#c8143c" stroke-width="2.5" fill="none"/>
<path d="M518.94 325V356.4" stroke="#c8143c" stroke-width="2.8" fill="none"/>
<path d="M514.64 326H518.94M518.94 333.4H523.24" stroke="#c8143c" stroke-width="2.5" fill="none"/>
<path d="M526.7 333.1V360.7" stroke="#c8143c" stroke-width="2.8" fill="none"/>
<path d="M522.4 338.2H526.7M526.7 355H531" stroke="#c8143c" stroke-width="2.5" fill="none"/>
<path d="M534.46 354V375.6" stroke="#c8143c" stroke-width="2.8" fill="none"/>
<path d="M530.16 359H534.46M534.46 371H538.76" stroke="#c8143c" stroke-width="2.5" fill="none"/>
<path d="M542.22 343.7V380.3" stroke="#2e6a1e" stroke-width="2.8" fill="none"/>
<path d="M537.92 376H542.22M542.22 350.7H546.52" stroke="#2e6a1e" stroke-width="2.5" fill="none"/>
<path d="M549.98 340.5V366.8" stroke="#c8143c" stroke-width="2.8" fill="none"/>
<path d="M545.68 346.2H549.98M549.98 355H554.28" stroke="#c8143c" stroke-width="2.5" fill="none"/>
<path d="M557.74 330.2V360.7" stroke="#2e6a1e" stroke-width="2.8" fill="none"/>
<path d="M553.44 350.7H557.74M557.74 338.8H562.04" stroke="#2e6a1e" stroke-width="2.5" fill="none"/>
<path d="M565.5 313.6V350.6" stroke="#2e6a1e" stroke-width="2.8" fill="none"/>
<path d="M561.2 334.1H565.5M565.5 317.5H569.8" stroke="#2e6a1e" stroke-width="2.5" fill="none"/>
<path d="M573.26 308.2V333.7" stroke="#c8143c" stroke-width="2.8" fill="none"/>
<path d="M568.96 317.5H573.26M573.26 328H577.56" stroke="#c8143c" stroke-width="2.5" fill="none"/>
<path d="M581.02 327.1V351.9" stroke="#c8143c" stroke-width="2.8" fill="none"/>
<path d="M576.72 332.8H581.02M581.02 332.8H585.32" stroke="#c8143c" stroke-width="2.5" fill="none"/>
<path d="M588.78 322.6V347.5" stroke="#2e6a1e" stroke-width="2.8" fill="none"/>
<path d="M584.48 333.4H588.78M588.78 332H593.08" stroke="#2e6a1e" stroke-width="2.5" fill="none"/>
<path d="M596.54 307.5V341.8" stroke="#c8143c" stroke-width="2.8" fill="none"/>
<path d="M592.24 334.1H596.54M596.54 340.2H600.84" stroke="#c8143c" stroke-width="2.5" fill="none"/>
<path d="M604.3 290.7V341.5" stroke="#2e6a1e" stroke-width="2.8" fill="none"/>
<path d="M600 340.4H604.3M604.3 297.5H608.6" stroke="#2e6a1e" stroke-width="2.5" fill="none"/>
<path d="M612.06 283.4V302.2" stroke="#2e6a1e" stroke-width="2.8" fill="none"/>
<path d="M607.76 296.5H612.06M612.06 294.6H616.36" stroke="#2e6a1e" stroke-width="2.5" fill="none"/>
<path d="M619.82 295.3V318.6" stroke="#c8143c" stroke-width="2.8" fill="none"/>
<path d="M615.52 296.1H619.82M619.82 309.2H624.12" stroke="#c8143c" stroke-width="2.5" fill="none"/>
<path d="M627.58 287.8V330.6" stroke="#c8143c" stroke-width="2.8" fill="none"/>
<path d="M623.28 308.2H627.58M627.58 323.7H631.88" stroke="#c8143c" stroke-width="2.5" fill="none"/>
<path d="M635.34 306V330.3" stroke="#2e6a1e" stroke-width="2.8" fill="none"/>
<path d="M631.04 329.5H635.34M635.34 311.1H639.64" stroke="#2e6a1e" stroke-width="2.5" fill="none"/>
<path d="M643.1 314.7V355" stroke="#c8143c" stroke-width="2.8" fill="none"/>
<path d="M638.8 316H643.1M643.1 317.2H647.4" stroke="#c8143c" stroke-width="2.5" fill="none"/>
<path d="M650.86 300.1V319.7" stroke="#2e6a1e" stroke-width="2.8" fill="none"/>
<path d="M646.56 317.2H650.86M650.86 309.9H655.16" stroke="#2e6a1e" stroke-width="2.5" fill="none"/>
<path d="M658.62 301.6V364" stroke="#c8143c" stroke-width="2.8" fill="none"/>
<path d="M654.32 304.1H658.62M658.62 354.2H662.92" stroke="#c8143c" stroke-width="2.5" fill="none"/>
<path d="M666.38 355.4V393.8" stroke="#c8143c" stroke-width="2.8" fill="none"/>
<path d="M662.08 356.4H666.38M666.38 377.5H670.68" stroke="#c8143c" stroke-width="2.5" fill="none"/>
<path d="M674.14 380.9V404.4" stroke="#c8143c" stroke-width="2.8" fill="none"/>
<path d="M669.84 384.8H674.14M674.14 395.4H678.44" stroke="#c8143c" stroke-width="2.5" fill="none"/>
<path d="M681.9 382.3V413.4" stroke="#c8143c" stroke-width="2.8" fill="none"/>
<path d="M677.6 404.1H681.9M681.9 403H686.2" stroke="#c8143c" stroke-width="2.5" fill="none"/>
<path d="M689.66 370.7V398.2" stroke="#2e6a1e" stroke-width="2.8" fill="none"/>
<path d="M685.36 395.4H689.66M689.66 377.5H693.96" stroke="#2e6a1e" stroke-width="2.5" fill="none"/>
<path d="M697.42 359.8V380.3" stroke="#2e6a1e" stroke-width="2.8" fill="none"/>
<path d="M693.12 375.6H697.42M697.42 371.7H701.72" stroke="#2e6a1e" stroke-width="2.5" fill="none"/>
<path d="M705.19 357.6V378.8" stroke="#2e6a1e" stroke-width="2.8" fill="none"/>
<path d="M700.89 362.2H705.19M705.19 362.2H709.49" stroke="#2e6a1e" stroke-width="2.5" fill="none"/>
<path d="M712.95 361.2V395.3" stroke="#c8143c" stroke-width="2.8" fill="none"/>
<path d="M708.65 371.3H712.95M712.95 378H717.25" stroke="#c8143c" stroke-width="2.5" fill="none"/>
<path d="M720.71 364.9V392.3" stroke="#2e6a1e" stroke-width="2.8" fill="none"/>
<path d="M716.41 379.7H720.71M720.71 366.9H725.01" stroke="#2e6a1e" stroke-width="2.5" fill="none"/>
<path d="M728.47 352.4V373.6" stroke="#2e6a1e" stroke-width="2.8" fill="none"/>
<path d="M724.17 368H728.47M728.47 361.3H732.77" stroke="#2e6a1e" stroke-width="2.5" fill="none"/>
<path d="M736.23 339.1V369.6" stroke="#2e6a1e" stroke-width="2.8" fill="none"/>
<path d="M731.93 361.3H736.23M736.23 348H740.53" stroke="#2e6a1e" stroke-width="2.5" fill="none"/>
<path d="M743.99 343.6V383.3" stroke="#c8143c" stroke-width="2.8" fill="none"/>
<path d="M739.69 349.7H743.99M743.99 373H748.29" stroke="#c8143c" stroke-width="2.5" fill="none"/>
<path d="M751.75 348.1V378.3" stroke="#2e6a1e" stroke-width="2.8" fill="none"/>
<path d="M747.45 371.6H751.75M751.75 351H756.05" stroke="#2e6a1e" stroke-width="2.5" fill="none"/>
<path d="M759.51 348.1V371.6" stroke="#2e6a1e" stroke-width="2.8" fill="none"/>
<path d="M755.21 349.7H759.51M759.51 349.7H763.81" stroke="#2e6a1e" stroke-width="2.5" fill="none"/>
<path d="M767.27 335.8V355.3" stroke="#c8143c" stroke-width="2.8" fill="none"/>
<path d="M762.97 349.7H767.27M767.27 353H771.57" stroke="#c8143c" stroke-width="2.5" fill="none"/>
<path d="M775.03 295.4V353.3" stroke="#2e6a1e" stroke-width="2.8" fill="none"/>
<path d="M770.73 351H775.03M775.03 298.2H779.33" stroke="#2e6a1e" stroke-width="2.5" fill="none"/>
<path d="M782.79 261V299.3" stroke="#2e6a1e" stroke-width="2.8" fill="none"/>
<path d="M778.49 298.2H782.79M782.79 265.7H787.09" stroke="#2e6a1e" stroke-width="2.5" fill="none"/>
<path d="M790.55 250.5V269.9" stroke="#2e6a1e" stroke-width="2.8" fill="none"/>
<path d="M786.25 257.4H790.55M790.55 254.6H794.85" stroke="#2e6a1e" stroke-width="2.5" fill="none"/>
<path d="M798.31 254.7V273.9" stroke="#c8143c" stroke-width="2.8" fill="none"/>
<path d="M794.01 255.8H798.31M798.31 261.6H802.61" stroke="#c8143c" stroke-width="2.5" fill="none"/>
<path d="M806.07 241.7V265.2" stroke="#2e6a1e" stroke-width="2.8" fill="none"/>
<path d="M801.77 259.9H806.07M806.07 250H810.37" stroke="#2e6a1e" stroke-width="2.5" fill="none"/>
<path d="M813.83 238.3V256.1" stroke="#2e6a1e" stroke-width="2.8" fill="none"/>
<path d="M809.53 248.3H813.83M813.83 244.1H818.13" stroke="#2e6a1e" stroke-width="2.5" fill="none"/>
<path d="M821.59 238.3V269.4" stroke="#c8143c" stroke-width="2.8" fill="none"/>
<path d="M817.29 244.1H821.59M821.59 265.2H825.89" stroke="#c8143c" stroke-width="2.5" fill="none"/>
<path d="M829.35 258.3V277.2" stroke="#c8143c" stroke-width="2.8" fill="none"/>
<path d="M825.05 265.7H829.35M829.35 271.2H833.65" stroke="#c8143c" stroke-width="2.5" fill="none"/>
<path d="M837.11 268.8V293.1" stroke="#c8143c" stroke-width="2.8" fill="none"/>
<path d="M832.81 273.6H837.11M837.11 284H841.41" stroke="#c8143c" stroke-width="2.5" fill="none"/>
<path d="M844.87 267.1V293.3" stroke="#2e6a1e" stroke-width="2.8" fill="none"/>
<path d="M840.57 287.3H844.87M844.87 274.4H849.17" stroke="#2e6a1e" stroke-width="2.5" fill="none"/>
<path d="M852.63 256.5V281.8" stroke="#2e6a1e" stroke-width="2.8" fill="none"/>
<path d="M848.33 270H852.63M852.63 266.5H856.93" stroke="#2e6a1e" stroke-width="2.5" fill="none"/>
<path d="M860.39 245.9V306.5" stroke="#c8143c" stroke-width="2.8" fill="none"/>
<path d="M856.09 260.3H860.39M860.39 296.9H864.69" stroke="#c8143c" stroke-width="2.5" fill="none"/>
<path d="M868.15 286.5V303" stroke="#2e6a1e" stroke-width="2.8" fill="none"/>
<path d="M863.85 300.9H868.15M868.15 291.2H872.45" stroke="#2e6a1e" stroke-width="2.5" fill="none"/>
<path d="M875.91 264.1V299.5" stroke="#2e6a1e" stroke-width="2.8" fill="none"/>
<path d="M871.61 291.2H875.91M875.91 265.6H880.21" stroke="#2e6a1e" stroke-width="2.5" fill="none"/>
<path d="M883.67 268V302.5" stroke="#c8143c" stroke-width="2.8" fill="none"/>
<path d="M879.37 269.7H883.67M883.67 297.4H887.97" stroke="#c8143c" stroke-width="2.5" fill="none"/>
<path d="M891.43 282.4V329.5" stroke="#c8143c" stroke-width="2.8" fill="none"/>
<path d="M887.13 291.2H891.43M891.43 321.6H895.73" stroke="#c8143c" stroke-width="2.5" fill="none"/>
<path d="M899.2 317.8V347.2" stroke="#c8143c" stroke-width="2.8" fill="none"/>
<path d="M894.9 321.6H899.2M899.2 331.5H903.5" stroke="#c8143c" stroke-width="2.5" fill="none"/>
<path d="M906.96 321.3V354.7" stroke="#2e6a1e" stroke-width="2.8" fill="none"/>
<path d="M902.66 330.4H906.96M906.96 330.8H911.26" stroke="#2e6a1e" stroke-width="2.5" fill="none"/>
<path d="M914.72 327.1V361.3" stroke="#c8143c" stroke-width="2.8" fill="none"/>
<path d="M910.42 328.3H914.72M914.72 356.6H919.02" stroke="#c8143c" stroke-width="2.5" fill="none"/>
<path d="M922.48 354.5V383.4" stroke="#c8143c" stroke-width="2.8" fill="none"/>
<path d="M918.18 356.9H922.48M922.48 376.9H926.78" stroke="#c8143c" stroke-width="2.5" fill="none"/>
<path d="M930.24 367.2V384.8" stroke="#c8143c" stroke-width="2.8" fill="none"/>
<path d="M925.94 376.9H930.24M930.24 380.4H934.54" stroke="#c8143c" stroke-width="2.5" fill="none"/>
<path d="M938 364.7V386.5" stroke="#2e6a1e" stroke-width="2.8" fill="none"/>
<path d="M933.7 381.3H938M938 377.4H942.3" stroke="#2e6a1e" stroke-width="2.5" fill="none"/>
<path d="M945.76 371.8V389.5" stroke="#c8143c" stroke-width="2.8" fill="none"/>
<path d="M941.46 379.5H945.76M945.76 380.4H950.06" stroke="#c8143c" stroke-width="2.5" fill="none"/>
<path d="M953.52 376.6V400.1" stroke="#c8143c" stroke-width="2.8" fill="none"/>
<path d="M949.22 381H953.52M953.52 383.1H957.82" stroke="#c8143c" stroke-width="2.5" fill="none"/>
<path d="M961.28 379.2V407.2" stroke="#c8143c" stroke-width="2.8" fill="none"/>
<path d="M956.98 385.7H961.28M961.28 389.2H965.58" stroke="#c8143c" stroke-width="2.5" fill="none"/>
<path d="M969.04 374.5V396.2" stroke="#c8143c" stroke-width="2.8" fill="none"/>
<path d="M964.74 388.8H969.04M969.04 390.6H973.34" stroke="#c8143c" stroke-width="2.5" fill="none"/>
<path d="M976.8 363.8V399.3" stroke="#2e6a1e" stroke-width="2.8" fill="none"/>
<path d="M972.5 392.5H976.8M976.8 383.2H981.1" stroke="#2e6a1e" stroke-width="2.5" fill="none"/>
<path d="M984.56 372V385.7" stroke="#2e6a1e" stroke-width="2.8" fill="none"/>
<path d="M980.26 382.8H984.56M984.56 378.5H988.86" stroke="#2e6a1e" stroke-width="2.5" fill="none"/>
<path d="M992.32 347.7V382.5" stroke="#2e6a1e" stroke-width="2.8" fill="none"/>
<path d="M988.02 378.5H992.32M992.32 348.6H996.62" stroke="#2e6a1e" stroke-width="2.5" fill="none"/>
<path d="M1000.08 340.3V354.5" stroke="#2e6a1e" stroke-width="2.8" fill="none"/>
<path d="M995.78 345.4H1000.08M1000.08 342.4H1004.38" stroke="#2e6a1e" stroke-width="2.5" fill="none"/>
<path d="M1007.84 292.8V343.9" stroke="#2e6a1e" stroke-width="2.8" fill="none"/>
<path d="M1003.54 342.4H1007.84M1007.84 295.7H1012.14" stroke="#2e6a1e" stroke-width="2.5" fill="none"/>
<path d="M1015.6 294.1V309.7" stroke="#c8143c" stroke-width="2.8" fill="none"/>
<path d="M1011.3 295.7H1015.6M1015.6 301.9H1019.9" stroke="#c8143c" stroke-width="2.5" fill="none"/>
<path d="M1023.36 292.8V317.2" stroke="#2e6a1e" stroke-width="2.8" fill="none"/>
<path d="M1019.06 305.6H1023.36M1023.36 300.8H1027.66" stroke="#2e6a1e" stroke-width="2.5" fill="none"/>
<path d="M1031.12 295.4V311" stroke="#2e6a1e" stroke-width="2.8" fill="none"/>
<path d="M1026.82 303.2H1031.12M1031.12 299.5H1035.42" stroke="#2e6a1e" stroke-width="2.5" fill="none"/>
<path d="M1038.88 271.7V305.4" stroke="#2e6a1e" stroke-width="2.8" fill="none"/>
<path d="M1034.58 301H1038.88M1038.88 275.2H1043.18" stroke="#2e6a1e" stroke-width="2.5" fill="none"/>
<path d="M1046.64 241.3V267.7" stroke="#2e6a1e" stroke-width="2.8" fill="none"/>
<path d="M1042.34 257.6H1046.64M1046.64 257.6H1050.94" stroke="#2e6a1e" stroke-width="2.5" fill="none"/>
<path d="M1054.4 259.3V276.8" stroke="#c8143c" stroke-width="2.8" fill="none"/>
<path d="M1050.1 263.6H1054.4M1054.4 274.5H1058.7" stroke="#c8143c" stroke-width="2.5" fill="none"/>
<path d="M1062.16 251.9V288.9" stroke="#c8143c" stroke-width="2.8" fill="none"/>
<path d="M1057.86 272.4H1062.16M1062.16 286.6H1066.46" stroke="#c8143c" stroke-width="2.5" fill="none"/>
<path d="M1069.92 280.2V326.8" stroke="#c8143c" stroke-width="2.8" fill="none"/>
<path d="M1065.62 286H1069.92M1069.92 321.8H1074.22" stroke="#c8143c" stroke-width="2.5" fill="none"/>
<path d="M1077.68 319.4V352.5" stroke="#c8143c" stroke-width="2.8" fill="none"/>
<path d="M1073.38 321.8H1077.68M1077.68 341.4H1081.98" stroke="#c8143c" stroke-width="2.5" fill="none"/>
<path d="M1085.44 341.7V362.6" stroke="#c8143c" stroke-width="2.8" fill="none"/>
<path d="M1081.14 342.7H1085.44M1085.44 355.5H1089.74" stroke="#c8143c" stroke-width="2.5" fill="none"/>
<line x1="281" y1="193.5" x2="1171.5" y2="262.5" stroke="#5a9a2a" stroke-width="3" stroke-dasharray="6,3"/>
<line x1="254.5" y1="416.8" x2="1188" y2="416.8" stroke="#8a2cf0" stroke-width="3" stroke-dasharray="6,3"/>
<polygon points="683,418.5 697.5,440.2 690.5,440.2 690.5,466.2 675.5,466.2 675.5,440.2 668.5,440.2" fill="none" stroke="#22b04b" stroke-width="4.5" stroke-linejoin="round"/>
<polygon points="961.5,430.5 979.5,450.7 970.5,450.7 970.5,474.2 952.5,474.2 952.5,450.7 943.5,450.7" fill="none" stroke="#22b04b" stroke-width="4.5" stroke-linejoin="round"/>
<text x="1029.6" y="226.9" font-size="33.5" fill="#000" font-weight="bold" text-anchor="start" textLength="40" lengthAdjust="spacingAndGlyphs">11</text>
<rect x="12" y="619.9" width="5.91" height="63.7" fill="#5f9150" stroke="#2e6a1e" stroke-width="1.1"/>
<rect x="18.87" y="601.8" width="6.8" height="81.8" fill="#5f9150" stroke="#2e6a1e" stroke-width="1.1"/>
<rect x="26.63" y="634.6" width="6.8" height="49" fill="#c85a6e" stroke="#c8143c" stroke-width="1.1"/>
<rect x="34.39" y="633.3" width="6.8" height="50.3" fill="#c85a6e" stroke="#c8143c" stroke-width="1.1"/>
<rect x="42.15" y="631.7" width="6.8" height="51.9" fill="#c85a6e" stroke="#c8143c" stroke-width="1.1"/>
<rect x="49.91" y="621.1" width="6.8" height="62.5" fill="#c85a6e" stroke="#c8143c" stroke-width="1.1"/>
<rect x="57.67" y="625.8" width="6.8" height="57.8" fill="#5f9150" stroke="#2e6a1e" stroke-width="1.1"/>
<rect x="65.43" y="628.6" width="6.8" height="55" fill="#5f9150" stroke="#2e6a1e" stroke-width="1.1"/>
<rect x="73.19" y="640.8" width="6.8" height="42.8" fill="#c85a6e" stroke="#c8143c" stroke-width="1.1"/>
<rect x="80.95" y="631.7" width="6.8" height="51.9" fill="#5f9150" stroke="#2e6a1e" stroke-width="1.1"/>
<rect x="88.71" y="628.6" width="6.8" height="55" fill="#c85a6e" stroke="#c8143c" stroke-width="1.1"/>
<rect x="96.47" y="618.4" width="6.8" height="65.2" fill="#c85a6e" stroke="#c8143c" stroke-width="1.1"/>
<rect x="104.23" y="625.8" width="6.8" height="57.8" fill="#c85a6e" stroke="#c8143c" stroke-width="1.1"/>
<rect x="111.99" y="639.2" width="6.8" height="44.4" fill="#5f9150" stroke="#2e6a1e" stroke-width="1.1"/>
<rect x="119.76" y="613.6" width="6.8" height="70" fill="#5f9150" stroke="#2e6a1e" stroke-width="1.1"/>
<rect x="127.52" y="577.7" width="6.8" height="105.9" fill="#5f9150" stroke="#2e6a1e" stroke-width="1.1"/>
<rect x="135.28" y="613.6" width="6.8" height="70" fill="#5f9150" stroke="#2e6a1e" stroke-width="1.1"/>
<rect x="143.04" y="600.2" width="6.8" height="83.4" fill="#c85a6e" stroke="#c8143c" stroke-width="1.1"/>
<rect x="150.8" y="628.6" width="6.8" height="55" fill="#c85a6e" stroke="#c8143c" stroke-width="1.1"/>
<rect x="158.56" y="618.4" width="6.8" height="65.2" fill="#5f9150" stroke="#2e6a1e" stroke-width="1.1"/>
<rect x="166.32" y="621.1" width="6.8" height="62.5" fill="#5f9150" stroke="#2e6a1e" stroke-width="1.1"/>
<rect x="174.08" y="640.8" width="6.8" height="42.8" fill="#c85a6e" stroke="#c8143c" stroke-width="1.1"/>
<rect x="181.84" y="630.5" width="6.8" height="53.1" fill="#5f9150" stroke="#2e6a1e" stroke-width="1.1"/>
<rect x="189.6" y="627.3" width="6.8" height="56.3" fill="#5f9150" stroke="#2e6a1e" stroke-width="1.1"/>
<rect x="197.36" y="623" width="6.8" height="60.6" fill="#5f9150" stroke="#2e6a1e" stroke-width="1.1"/>
<rect x="205.12" y="639.2" width="6.8" height="44.4" fill="#c85a6e" stroke="#c8143c" stroke-width="1.1"/>
<rect x="212.88" y="643.8" width="6.8" height="39.8" fill="#5f9150" stroke="#2e6a1e" stroke-width="1.1"/>
<rect x="220.64" y="645.4" width="6.8" height="38.2" fill="#5f9150" stroke="#2e6a1e" stroke-width="1.1"/>
<rect x="228.4" y="623" width="6.8" height="60.6" fill="#5f9150" stroke="#2e6a1e" stroke-width="1.1"/>
<rect x="236.16" y="628.6" width="6.8" height="55" fill="#5f9150" stroke="#2e6a1e" stroke-width="1.1"/>
<rect x="243.92" y="627.3" width="6.8" height="56.3" fill="#c85a6e" stroke="#c8143c" stroke-width="1.1"/>
<rect x="251.68" y="609.6" width="6.8" height="74" fill="#5f9150" stroke="#2e6a1e" stroke-width="1.1"/>
<rect x="259.44" y="623" width="6.8" height="60.6" fill="#c85a6e" stroke="#c8143c" stroke-width="1.1"/>
<rect x="267.2" y="636.3" width="6.8" height="47.3" fill="#5f9150" stroke="#2e6a1e" stroke-width="1.1"/>
<rect x="274.96" y="637.9" width="6.8" height="45.7" fill="#c85a6e" stroke="#c8143c" stroke-width="1.1"/>
<rect x="282.72" y="633.3" width="6.8" height="50.3" fill="#5f9150" stroke="#2e6a1e" stroke-width="1.1"/>
<rect x="290.48" y="600.2" width="6.8" height="83.4" fill="#5f9150" stroke="#2e6a1e" stroke-width="1.1"/>
<rect x="298.24" y="612.4" width="6.8" height="71.2" fill="#5f9150" stroke="#2e6a1e" stroke-width="1.1"/>
<rect x="306" y="594.3" width="6.8" height="89.3" fill="#c85a6e" stroke="#c8143c" stroke-width="1.1"/>
<rect x="313.77" y="623" width="6.8" height="60.6" fill="#c85a6e" stroke="#c8143c" stroke-width="1.1"/>
<rect x="321.53" y="639.2" width="6.8" height="44.4" fill="#5f9150" stroke="#2e6a1e" stroke-width="1.1"/>
<rect x="329.29" y="612.4" width="6.8" height="71.2" fill="#5f9150" stroke="#2e6a1e" stroke-width="1.1"/>
<rect x="337.05" y="623" width="6.8" height="60.6" fill="#5f9150" stroke="#2e6a1e" stroke-width="1.1"/>
<rect x="344.81" y="624.2" width="6.8" height="59.4" fill="#c85a6e" stroke="#c8143c" stroke-width="1.1"/>
<rect x="352.57" y="631.7" width="6.8" height="51.9" fill="#5f9150" stroke="#2e6a1e" stroke-width="1.1"/>
<rect x="360.33" y="613.6" width="6.8" height="70" fill="#c85a6e" stroke="#c8143c" stroke-width="1.1"/>
<rect x="368.09" y="624.2" width="6.8" height="59.4" fill="#c85a6e" stroke="#c8143c" stroke-width="1.1"/>
<rect x="375.85" y="616.7" width="6.8" height="66.9" fill="#5f9150" stroke="#2e6a1e" stroke-width="1.1"/>
<rect x="383.61" y="640.8" width="6.8" height="42.8" fill="#5f9150" stroke="#2e6a1e" stroke-width="1.1"/>
<rect x="391.37" y="612.4" width="6.8" height="71.2" fill="#5f9150" stroke="#2e6a1e" stroke-width="1.1"/>
<rect x="399.13" y="624.2" width="6.8" height="59.4" fill="#5f9150" stroke="#2e6a1e" stroke-width="1.1"/>
<rect x="406.89" y="636.3" width="6.8" height="47.3" fill="#5f9150" stroke="#2e6a1e" stroke-width="1.1"/>
<rect x="414.65" y="615.1" width="6.8" height="68.5" fill="#5f9150" stroke="#2e6a1e" stroke-width="1.1"/>
<rect x="422.41" y="619.9" width="6.8" height="63.7" fill="#c85a6e" stroke="#c8143c" stroke-width="1.1"/>
<rect x="430.17" y="649.5" width="6.8" height="34.1" fill="#c85a6e" stroke="#c8143c" stroke-width="1.1"/>
<rect x="437.93" y="639.2" width="6.8" height="44.4" fill="#5f9150" stroke="#2e6a1e" stroke-width="1.1"/>
<rect x="445.69" y="609.3" width="6.8" height="74.3" fill="#c85a6e" stroke="#c8143c" stroke-width="1.1"/>
<rect x="453.45" y="583.7" width="6.8" height="99.9" fill="#c85a6e" stroke="#c8143c" stroke-width="1.1"/>
<rect x="461.21" y="615.1" width="6.8" height="68.5" fill="#c85a6e" stroke="#c8143c" stroke-width="1.1"/>
<rect x="468.97" y="643.8" width="6.8" height="39.8" fill="#5f9150" stroke="#2e6a1e" stroke-width="1.1"/>
<rect x="476.73" y="624.2" width="6.8" height="59.4" fill="#c85a6e" stroke="#c8143c" stroke-width="1.1"/>
<rect x="484.49" y="637.6" width="6.8" height="46" fill="#5f9150" stroke="#2e6a1e" stroke-width="1.1"/>
<rect x="492.25" y="642" width="6.8" height="41.6" fill="#c85a6e" stroke="#c8143c" stroke-width="1.1"/>
<rect x="500.01" y="633.3" width="6.8" height="50.3" fill="#5f9150" stroke="#2e6a1e" stroke-width="1.1"/>
<rect x="507.78" y="648.3" width="6.8" height="35.3" fill="#c85a6e" stroke="#c8143c" stroke-width="1.1"/>
<rect x="515.54" y="628.6" width="6.8" height="55" fill="#c85a6e" stroke="#c8143c" stroke-width="1.1"/>
<rect x="523.3" y="637.6" width="6.8" height="46" fill="#c85a6e" stroke="#c8143c" stroke-width="1.1"/>
<rect x="531.06" y="627.3" width="6.8" height="56.3" fill="#c85a6e" stroke="#c8143c" stroke-width="1.1"/>
<rect x="538.82" y="630.5" width="6.8" height="53.1" fill="#5f9150" stroke="#2e6a1e" stroke-width="1.1"/>
<rect x="546.58" y="610.5" width="6.8" height="73.1" fill="#c85a6e" stroke="#c8143c" stroke-width="1.1"/>
<rect x="554.34" y="613.6" width="6.8" height="70" fill="#5f9150" stroke="#2e6a1e" stroke-width="1.1"/>
<rect x="562.1" y="612.4" width="6.8" height="71.2" fill="#5f9150" stroke="#2e6a1e" stroke-width="1.1"/>
<rect x="569.86" y="628.6" width="6.8" height="55" fill="#c85a6e" stroke="#c8143c" stroke-width="1.1"/>
<rect x="577.62" y="640.8" width="6.8" height="42.8" fill="#c85a6e" stroke="#c8143c" stroke-width="1.1"/>
<rect x="585.38" y="643.8" width="6.8" height="39.8" fill="#5f9150" stroke="#2e6a1e" stroke-width="1.1"/>
<rect x="593.14" y="618" width="6.8" height="65.6" fill="#c85a6e" stroke="#c8143c" stroke-width="1.1"/>
<rect x="600.9" y="609.3" width="6.8" height="74.3" fill="#5f9150" stroke="#2e6a1e" stroke-width="1.1"/>
<rect x="608.66" y="625.5" width="6.8" height="58.1" fill="#5f9150" stroke="#2e6a1e" stroke-width="1.1"/>
<rect x="616.42" y="633.3" width="6.8" height="50.3" fill="#c85a6e" stroke="#c8143c" stroke-width="1.1"/>
<rect x="624.18" y="619.6" width="6.8" height="64" fill="#c85a6e" stroke="#c8143c" stroke-width="1.1"/>
<rect x="631.94" y="634.6" width="6.8" height="49" fill="#5f9150" stroke="#2e6a1e" stroke-width="1.1"/>
<rect x="639.7" y="603" width="6.8" height="80.6" fill="#c85a6e" stroke="#c8143c" stroke-width="1.1"/>
<rect x="647.46" y="627.3" width="6.8" height="56.3" fill="#5f9150" stroke="#2e6a1e" stroke-width="1.1"/>
<rect x="655.22" y="582.2" width="6.8" height="101.4" fill="#c85a6e" stroke="#c8143c" stroke-width="1.1"/>
<rect x="662.98" y="613.6" width="6.8" height="70" fill="#c85a6e" stroke="#c8143c" stroke-width="1.1"/>
<rect x="670.74" y="634.6" width="6.8" height="49" fill="#c85a6e" stroke="#c8143c" stroke-width="1.1"/>
<rect x="678.5" y="636.1" width="6.8" height="47.5" fill="#c85a6e" stroke="#c8143c" stroke-width="1.1"/>
<rect x="686.26" y="630.5" width="6.8" height="53.1" fill="#5f9150" stroke="#2e6a1e" stroke-width="1.1"/>
<rect x="694.02" y="639.2" width="6.8" height="44.4" fill="#5f9150" stroke="#2e6a1e" stroke-width="1.1"/>
<rect x="701.79" y="651.6" width="6.8" height="32" fill="#5f9150" stroke="#2e6a1e" stroke-width="1.1"/>
<rect x="709.55" y="631.7" width="6.8" height="51.9" fill="#c85a6e" stroke="#c8143c" stroke-width="1.1"/>
<rect x="717.31" y="643.8" width="6.8" height="39.8" fill="#5f9150" stroke="#2e6a1e" stroke-width="1.1"/>
<rect x="725.07" y="640.8" width="6.8" height="42.8" fill="#5f9150" stroke="#2e6a1e" stroke-width="1.1"/>
<rect x="732.83" y="607.6" width="6.8" height="76" fill="#5f9150" stroke="#2e6a1e" stroke-width="1.1"/>
<rect x="740.59" y="627.3" width="6.8" height="56.3" fill="#c85a6e" stroke="#c8143c" stroke-width="1.1"/>
<rect x="748.35" y="639.2" width="6.8" height="44.4" fill="#5f9150" stroke="#2e6a1e" stroke-width="1.1"/>
<rect x="756.11" y="649.6" width="6.8" height="34" fill="#5f9150" stroke="#2e6a1e" stroke-width="1.1"/>
<rect x="763.87" y="651.3" width="6.8" height="32.3" fill="#c85a6e" stroke="#c8143c" stroke-width="1.1"/>
<rect x="771.63" y="610.5" width="6.8" height="73.1" fill="#5f9150" stroke="#2e6a1e" stroke-width="1.1"/>
<rect x="779.39" y="604.7" width="6.8" height="78.9" fill="#5f9150" stroke="#2e6a1e" stroke-width="1.1"/>
<rect x="787.15" y="619.6" width="6.8" height="64" fill="#5f9150" stroke="#2e6a1e" stroke-width="1.1"/>
<rect x="794.91" y="643.5" width="6.8" height="40.1" fill="#c85a6e" stroke="#c8143c" stroke-width="1.1"/>
<rect x="802.67" y="627.3" width="6.8" height="56.3" fill="#5f9150" stroke="#2e6a1e" stroke-width="1.1"/>
<rect x="810.43" y="645" width="6.8" height="38.6" fill="#5f9150" stroke="#2e6a1e" stroke-width="1.1"/>
<rect x="818.19" y="633.3" width="6.8" height="50.3" fill="#c85a6e" stroke="#c8143c" stroke-width="1.1"/>
<rect x="825.95" y="649.5" width="6.8" height="34.1" fill="#c85a6e" stroke="#c8143c" stroke-width="1.1"/>
<rect x="833.71" y="634.6" width="6.8" height="49" fill="#c85a6e" stroke="#c8143c" stroke-width="1.1"/>
<rect x="841.47" y="639.2" width="6.8" height="44.4" fill="#5f9150" stroke="#2e6a1e" stroke-width="1.1"/>
<rect x="849.23" y="637.6" width="6.8" height="46" fill="#5f9150" stroke="#2e6a1e" stroke-width="1.1"/>
<rect x="856.99" y="607.6" width="6.8" height="76" fill="#c85a6e" stroke="#c8143c" stroke-width="1.1"/>
<rect x="864.75" y="648.3" width="6.8" height="35.3" fill="#5f9150" stroke="#2e6a1e" stroke-width="1.1"/>
<rect x="872.51" y="643.8" width="6.8" height="39.8" fill="#5f9150" stroke="#2e6a1e" stroke-width="1.1"/>
<rect x="880.27" y="636.1" width="6.8" height="47.5" fill="#c85a6e" stroke="#c8143c" stroke-width="1.1"/>
<rect x="888.03" y="618" width="6.8" height="65.6" fill="#c85a6e" stroke="#c8143c" stroke-width="1.1"/>
<rect x="895.8" y="628.6" width="6.8" height="55" fill="#c85a6e" stroke="#c8143c" stroke-width="1.1"/>
<rect x="903.56" y="630.5" width="6.8" height="53.1" fill="#5f9150" stroke="#2e6a1e" stroke-width="1.1"/>
<rect x="911.32" y="633.3" width="6.8" height="50.3" fill="#c85a6e" stroke="#c8143c" stroke-width="1.1"/>
<rect x="919.08" y="615.1" width="6.8" height="68.5" fill="#c85a6e" stroke="#c8143c" stroke-width="1.1"/>
<rect x="926.84" y="627.3" width="6.8" height="56.3" fill="#c85a6e" stroke="#c8143c" stroke-width="1.1"/>
<rect x="934.6" y="616.7" width="6.8" height="66.9" fill="#5f9150" stroke="#2e6a1e" stroke-width="1.1"/>
<rect x="942.36" y="639.2" width="6.8" height="44.4" fill="#c85a6e" stroke="#c8143c" stroke-width="1.1"/>
<rect x="950.12" y="636.1" width="6.8" height="47.5" fill="#c85a6e" stroke="#c8143c" stroke-width="1.1"/>
<rect x="957.88" y="627.3" width="6.8" height="56.3" fill="#c85a6e" stroke="#c8143c" stroke-width="1.1"/>
<rect x="965.64" y="643.5" width="6.8" height="40.1" fill="#c85a6e" stroke="#c8143c" stroke-width="1.1"/>
<rect x="973.4" y="623" width="6.8" height="60.6" fill="#5f9150" stroke="#2e6a1e" stroke-width="1.1"/>
<rect x="981.16" y="634.6" width="6.8" height="49" fill="#5f9150" stroke="#2e6a1e" stroke-width="1.1"/>
<rect x="988.92" y="624.2" width="6.8" height="59.4" fill="#5f9150" stroke="#2e6a1e" stroke-width="1.1"/>
<rect x="996.68" y="634.6" width="6.8" height="49" fill="#5f9150" stroke="#2e6a1e" stroke-width="1.1"/>
<rect x="1004.44" y="604.7" width="6.8" height="78.9" fill="#5f9150" stroke="#2e6a1e" stroke-width="1.1"/>
<rect x="1012.2" y="621.1" width="6.8" height="62.5" fill="#c85a6e" stroke="#c8143c" stroke-width="1.1"/>
<rect x="1019.96" y="631.7" width="6.8" height="51.9" fill="#5f9150" stroke="#2e6a1e" stroke-width="1.1"/>
<rect x="1027.72" y="651.3" width="6.8" height="32.3" fill="#5f9150" stroke="#2e6a1e" stroke-width="1.1"/>
<rect x="1035.48" y="637.6" width="6.8" height="46" fill="#5f9150" stroke="#2e6a1e" stroke-width="1.1"/>
<rect x="1043.24" y="624.2" width="6.8" height="59.4" fill="#5f9150" stroke="#2e6a1e" stroke-width="1.1"/>
<rect x="1051" y="640.8" width="6.8" height="42.8" fill="#c85a6e" stroke="#c8143c" stroke-width="1.1"/>
<rect x="1058.76" y="627.3" width="6.8" height="56.3" fill="#c85a6e" stroke="#c8143c" stroke-width="1.1"/>
<rect x="1066.52" y="600.2" width="6.8" height="83.4" fill="#c85a6e" stroke="#c8143c" stroke-width="1.1"/>
<rect x="1074.28" y="622.6" width="6.8" height="61" fill="#c85a6e" stroke="#c8143c" stroke-width="1.1"/>
<rect x="1082.04" y="637.6" width="6.8" height="46" fill="#c85a6e" stroke="#c8143c" stroke-width="1.1"/>
<rect x="33.1" y="634.6" width="1.8" height="48.9" fill="#fff"/>
<rect x="79.8" y="640.8" width="1.8" height="42.7" fill="#fff"/>
<rect x="125.9" y="613.6" width="1.8" height="69.9" fill="#fff"/>
<rect x="172.8" y="640.8" width="1.8" height="42.7" fill="#fff"/>
<rect x="219.4" y="645.4" width="1.8" height="38.1" fill="#fff"/>
<rect x="265.9" y="636.3" width="1.8" height="47.2" fill="#fff"/>
<rect x="312.3" y="623" width="1.8" height="60.5" fill="#fff"/>
<rect x="358.8" y="631.7" width="1.8" height="51.8" fill="#fff"/>
<rect x="12" y="757.2" width="6.41" height="8.86" fill="#8c4a6e" stroke="#6a2a48" stroke-width="1"/>
<rect x="18.37" y="757.2" width="7.8" height="7.59" fill="#8c4a6e" stroke="#6a2a48" stroke-width="1"/>
<rect x="26.13" y="757.2" width="7.8" height="6.53" fill="#8c4a6e" stroke="#6a2a48" stroke-width="1"/>
<rect x="33.89" y="757.2" width="7.8" height="6.88" fill="#8c4a6e" stroke="#6a2a48" stroke-width="1"/>
<rect x="41.65" y="757.2" width="7.8" height="8.11" fill="#8c4a6e" stroke="#6a2a48" stroke-width="1"/>
<rect x="49.41" y="757.2" width="7.8" height="7.9" fill="#8c4a6e" stroke="#6a2a48" stroke-width="1"/>
<rect x="57.17" y="757.2" width="7.8" height="6.56" fill="#8c4a6e" stroke="#6a2a48" stroke-width="1"/>
<rect x="64.93" y="757.2" width="7.8" height="4.68" fill="#8c4a6e" stroke="#6a2a48" stroke-width="1"/>
<rect x="72.69" y="757.2" width="7.8" height="2.8" fill="#8c4a6e" stroke="#6a2a48" stroke-width="1"/>
<rect x="80.45" y="757.2" width="7.8" height="1.21" fill="#8c4a6e" stroke="#6a2a48" stroke-width="1"/>
<rect x="88.21" y="757.2" width="7.8" height="0.3" fill="#8c4a6e" stroke="#6a2a48" stroke-width="1"/>
<rect x="95.97" y="757.2" width="7.8" height="2.55" fill="#8c4a6e" stroke="#6a2a48" stroke-width="1"/>
<rect x="103.73" y="757.2" width="7.8" height="4.52" fill="#8c4a6e" stroke="#6a2a48" stroke-width="1"/>
<rect x="111.49" y="757.2" width="7.8" height="3.51" fill="#8c4a6e" stroke="#6a2a48" stroke-width="1"/>
<rect x="119.26" y="757.2" width="7.8" height="1.24" fill="#8c4a6e" stroke="#6a2a48" stroke-width="1"/>
<rect x="127.02" y="751.17" width="7.8" height="6.03" fill="#8f8a50" stroke="#5a5428" stroke-width="1"/>
<rect x="134.78" y="746.61" width="7.8" height="10.59" fill="#8f8a50" stroke="#5a5428" stroke-width="1"/>
<rect x="142.54" y="745.75" width="7.8" height="11.45" fill="#8f8a50" stroke="#5a5428" stroke-width="1"/>
<rect x="150.3" y="744.91" width="7.8" height="12.29" fill="#8f8a50" stroke="#5a5428" stroke-width="1"/>
<rect x="158.06" y="741.68" width="7.8" height="15.52" fill="#8f8a50" stroke="#5a5428" stroke-width="1"/>
<rect x="165.82" y="739.3" width="7.8" height="17.9" fill="#8f8a50" stroke="#5a5428" stroke-width="1"/>
<rect x="173.58" y="738.61" width="7.8" height="18.59" fill="#8f8a50" stroke="#5a5428" stroke-width="1"/>
<rect x="181.34" y="737.29" width="7.8" height="19.91" fill="#8f8a50" stroke="#5a5428" stroke-width="1"/>
<rect x="189.1" y="736.99" width="7.8" height="20.21" fill="#8f8a50" stroke="#5a5428" stroke-width="1"/>
<rect x="196.86" y="737.43" width="7.8" height="19.77" fill="#8f8a50" stroke="#5a5428" stroke-width="1"/>
<rect x="204.62" y="738.67" width="7.8" height="18.53" fill="#8f8a50" stroke="#5a5428" stroke-width="1"/>
<rect x="212.38" y="740.19" width="7.8" height="17.01" fill="#8f8a50" stroke="#5a5428" stroke-width="1"/>
<rect x="220.14" y="741.26" width="7.8" height="15.94" fill="#8f8a50" stroke="#5a5428" stroke-width="1"/>
<rect x="227.9" y="740.51" width="7.8" height="16.69" fill="#8f8a50" stroke="#5a5428" stroke-width="1"/>
<rect x="235.66" y="740.1" width="7.8" height="17.1" fill="#8f8a50" stroke="#5a5428" stroke-width="1"/>
<rect x="243.42" y="742.04" width="7.8" height="15.16" fill="#8f8a50" stroke="#5a5428" stroke-width="1"/>
<rect x="251.18" y="739.95" width="7.8" height="17.25" fill="#8f8a50" stroke="#5a5428" stroke-width="1"/>
<rect x="258.94" y="741.66" width="7.8" height="15.54" fill="#8f8a50" stroke="#5a5428" stroke-width="1"/>
<rect x="266.7" y="742.21" width="7.8" height="14.99" fill="#8f8a50" stroke="#5a5428" stroke-width="1"/>
<rect x="274.46" y="743.5" width="7.8" height="13.7" fill="#8f8a50" stroke="#5a5428" stroke-width="1"/>
<rect x="282.22" y="745.57" width="7.8" height="11.63" fill="#8f8a50" stroke="#5a5428" stroke-width="1"/>
<rect x="289.98" y="747.71" width="7.8" height="9.49" fill="#8f8a50" stroke="#5a5428" stroke-width="1"/>
<rect x="297.74" y="750.08" width="7.8" height="7.12" fill="#8f8a50" stroke="#5a5428" stroke-width="1"/>
<rect x="305.5" y="752.42" width="7.8" height="4.78" fill="#8f8a50" stroke="#5a5428" stroke-width="1"/>
<rect x="313.27" y="753.96" width="7.8" height="3.24" fill="#8f8a50" stroke="#5a5428" stroke-width="1"/>
<rect x="321.03" y="755.59" width="7.8" height="1.61" fill="#8f8a50" stroke="#5a5428" stroke-width="1"/>
<rect x="328.79" y="756.76" width="7.8" height="0.44" fill="#8f8a50" stroke="#5a5428" stroke-width="1"/>
<rect x="336.55" y="757.2" width="7.8" height="1.76" fill="#8c4a6e" stroke="#6a2a48" stroke-width="1"/>
<rect x="344.31" y="757.2" width="7.8" height="4.57" fill="#8c4a6e" stroke="#6a2a48" stroke-width="1"/>
<rect x="352.07" y="757.2" width="7.8" height="7.43" fill="#8c4a6e" stroke="#6a2a48" stroke-width="1"/>
<rect x="359.83" y="757.2" width="7.8" height="9.43" fill="#8c4a6e" stroke="#6a2a48" stroke-width="1"/>
<rect x="367.59" y="757.2" width="7.8" height="10.25" fill="#8c4a6e" stroke="#6a2a48" stroke-width="1"/>
<rect x="375.35" y="757.2" width="7.8" height="9.96" fill="#8c4a6e" stroke="#6a2a48" stroke-width="1"/>
<rect x="383.11" y="757.2" width="7.8" height="8.99" fill="#8c4a6e" stroke="#6a2a48" stroke-width="1"/>
<rect x="390.87" y="757.2" width="7.8" height="7.28" fill="#8c4a6e" stroke="#6a2a48" stroke-width="1"/>
<rect x="398.63" y="757.2" width="7.8" height="5.45" fill="#8c4a6e" stroke="#6a2a48" stroke-width="1"/>
<rect x="406.39" y="757.2" width="7.8" height="5.46" fill="#8c4a6e" stroke="#6a2a48" stroke-width="1"/>
<rect x="414.15" y="757.2" width="7.8" height="0.79" fill="#8c4a6e" stroke="#6a2a48" stroke-width="1"/>
<rect x="421.91" y="757.2" width="7.8" height="0.67" fill="#8c4a6e" stroke="#6a2a48" stroke-width="1"/>
<rect x="429.67" y="757.2" width="7.8" height="0.94" fill="#8c4a6e" stroke="#6a2a48" stroke-width="1"/>
<rect x="437.43" y="757.2" width="7.8" height="1.93" fill="#8c4a6e" stroke="#6a2a48" stroke-width="1"/>
<rect x="445.19" y="757.2" width="7.8" height="3.49" fill="#8c4a6e" stroke="#6a2a48" stroke-width="1"/>
<rect x="452.95" y="757.2" width="7.8" height="8.63" fill="#8c4a6e" stroke="#6a2a48" stroke-width="1"/>
<rect x="460.71" y="757.2" width="7.8" height="13.81" fill="#8c4a6e" stroke="#6a2a48" stroke-width="1"/>
<rect x="468.47" y="757.2" width="7.8" height="16.22" fill="#8c4a6e" stroke="#6a2a48" stroke-width="1"/>
<rect x="476.23" y="757.2" width="7.8" height="18.03" fill="#8c4a6e" stroke="#6a2a48" stroke-width="1"/>
<rect x="483.99" y="757.2" width="7.8" height="19.37" fill="#8c4a6e" stroke="#6a2a48" stroke-width="1"/>
<rect x="491.75" y="757.2" width="7.8" height="20" fill="#8c4a6e" stroke="#6a2a48" stroke-width="1"/>
<rect x="499.51" y="757.2" width="7.8" height="18.75" fill="#8c4a6e" stroke="#6a2a48" stroke-width="1"/>
<rect x="507.28" y="757.2" width="7.8" height="16.37" fill="#8c4a6e" stroke="#6a2a48" stroke-width="1"/>
<rect x="515.04" y="757.2" width="7.8" height="15.78" fill="#8c4a6e" stroke="#6a2a48" stroke-width="1"/>
<rect x="522.8" y="757.2" width="7.8" height="15.59" fill="#8c4a6e" stroke="#6a2a48" stroke-width="1"/>
<rect x="530.56" y="757.2" width="7.8" height="15.31" fill="#8c4a6e" stroke="#6a2a48" stroke-width="1"/>
<rect x="538.32" y="757.2" width="7.8" height="13.14" fill="#8c4a6e" stroke="#6a2a48" stroke-width="1"/>
<rect x="546.08" y="757.2" width="7.8" height="11.73" fill="#8c4a6e" stroke="#6a2a48" stroke-width="1"/>
<rect x="553.84" y="757.2" width="7.8" height="8.52" fill="#8c4a6e" stroke="#6a2a48" stroke-width="1"/>
<rect x="561.6" y="757.2" width="7.8" height="4.26" fill="#8c4a6e" stroke="#6a2a48" stroke-width="1"/>
<rect x="569.36" y="757.2" width="7.8" height="1" fill="#8c4a6e" stroke="#6a2a48" stroke-width="1"/>
<rect x="577.12" y="757.2" width="7.8" height="0.3" fill="#8c4a6e" stroke="#6a2a48" stroke-width="1"/>
<rect x="584.88" y="756.87" width="7.8" height="0.33" fill="#8f8a50" stroke="#5a5428" stroke-width="1"/>
<rect x="592.64" y="756.22" width="7.8" height="0.98" fill="#8f8a50" stroke="#5a5428" stroke-width="1"/>
<rect x="600.4" y="754.12" width="7.8" height="3.08" fill="#8f8a50" stroke="#5a5428" stroke-width="1"/>
<rect x="608.16" y="751.6" width="7.8" height="5.6" fill="#8f8a50" stroke="#5a5428" stroke-width="1"/>
<rect x="615.92" y="751.5" width="7.8" height="5.7" fill="#8f8a50" stroke="#5a5428" stroke-width="1"/>
<rect x="623.68" y="751.69" width="7.8" height="5.51" fill="#8f8a50" stroke="#5a5428" stroke-width="1"/>
<rect x="631.44" y="752.24" width="7.8" height="4.96" fill="#8f8a50" stroke="#5a5428" stroke-width="1"/>
<rect x="639.2" y="752.47" width="7.8" height="4.73" fill="#8f8a50" stroke="#5a5428" stroke-width="1"/>
<rect x="646.96" y="752.7" width="7.8" height="4.5" fill="#8f8a50" stroke="#5a5428" stroke-width="1"/>
<rect x="654.72" y="755.4" width="7.8" height="1.8" fill="#8f8a50" stroke="#5a5428" stroke-width="1"/>
<rect x="662.48" y="757.2" width="7.8" height="1.73" fill="#8c4a6e" stroke="#6a2a48" stroke-width="1"/>
<rect x="670.24" y="757.2" width="7.8" height="5.17" fill="#8c4a6e" stroke="#6a2a48" stroke-width="1"/>
<rect x="678" y="757.2" width="7.8" height="7.94" fill="#8c4a6e" stroke="#6a2a48" stroke-width="1"/>
<rect x="685.76" y="757.2" width="7.8" height="7.3" fill="#8c4a6e" stroke="#6a2a48" stroke-width="1"/>
<rect x="693.52" y="757.2" width="7.8" height="5.93" fill="#8c4a6e" stroke="#6a2a48" stroke-width="1"/>
<rect x="701.29" y="757.2" width="7.8" height="3.89" fill="#8c4a6e" stroke="#6a2a48" stroke-width="1"/>
<rect x="709.05" y="757.2" width="7.8" height="3.24" fill="#8c4a6e" stroke="#6a2a48" stroke-width="1"/>
<rect x="716.81" y="757.2" width="7.8" height="2.7" fill="#8c4a6e" stroke="#6a2a48" stroke-width="1"/>
<rect x="724.57" y="756.9" width="7.8" height="0.3" fill="#8f8a50" stroke="#5a5428" stroke-width="1"/>
<rect x="732.33" y="754.32" width="7.8" height="2.88" fill="#8f8a50" stroke="#5a5428" stroke-width="1"/>
<rect x="740.09" y="754.56" width="7.8" height="2.64" fill="#8f8a50" stroke="#5a5428" stroke-width="1"/>
<rect x="747.85" y="754.74" width="7.8" height="2.46" fill="#8f8a50" stroke="#5a5428" stroke-width="1"/>
<rect x="755.61" y="752.93" width="7.8" height="4.27" fill="#8f8a50" stroke="#5a5428" stroke-width="1"/>
<rect x="763.37" y="750.44" width="7.8" height="6.76" fill="#8f8a50" stroke="#5a5428" stroke-width="1"/>
<rect x="771.13" y="746.66" width="7.8" height="10.54" fill="#8f8a50" stroke="#5a5428" stroke-width="1"/>
<rect x="778.89" y="741.17" width="7.8" height="16.03" fill="#8f8a50" stroke="#5a5428" stroke-width="1"/>
<rect x="786.65" y="738.8" width="7.8" height="18.4" fill="#8f8a50" stroke="#5a5428" stroke-width="1"/>
<rect x="794.41" y="737.73" width="7.8" height="19.47" fill="#8f8a50" stroke="#5a5428" stroke-width="1"/>
<rect x="802.17" y="737.36" width="7.8" height="19.84" fill="#8f8a50" stroke="#5a5428" stroke-width="1"/>
<rect x="809.93" y="738.62" width="7.8" height="18.58" fill="#8f8a50" stroke="#5a5428" stroke-width="1"/>
<rect x="817.69" y="740.92" width="7.8" height="16.28" fill="#8f8a50" stroke="#5a5428" stroke-width="1"/>
<rect x="825.45" y="743.93" width="7.8" height="13.27" fill="#8f8a50" stroke="#5a5428" stroke-width="1"/>
<rect x="833.21" y="747.56" width="7.8" height="9.64" fill="#8f8a50" stroke="#5a5428" stroke-width="1"/>
<rect x="840.97" y="751.07" width="7.8" height="6.13" fill="#8f8a50" stroke="#5a5428" stroke-width="1"/>
<rect x="848.73" y="752.91" width="7.8" height="4.29" fill="#8f8a50" stroke="#5a5428" stroke-width="1"/>
<rect x="856.49" y="755.53" width="7.8" height="1.67" fill="#8f8a50" stroke="#5a5428" stroke-width="1"/>
<rect x="864.25" y="756.9" width="7.8" height="0.3" fill="#8f8a50" stroke="#5a5428" stroke-width="1"/>
<rect x="872.01" y="756.9" width="7.8" height="0.3" fill="#8f8a50" stroke="#5a5428" stroke-width="1"/>
<rect x="879.77" y="757.2" width="7.8" height="2.51" fill="#8c4a6e" stroke="#6a2a48" stroke-width="1"/>
<rect x="887.53" y="757.2" width="7.8" height="5.84" fill="#8c4a6e" stroke="#6a2a48" stroke-width="1"/>
<rect x="895.3" y="757.2" width="7.8" height="7.79" fill="#8c4a6e" stroke="#6a2a48" stroke-width="1"/>
<rect x="903.06" y="757.2" width="7.8" height="9.83" fill="#8c4a6e" stroke="#6a2a48" stroke-width="1"/>
<rect x="910.82" y="757.2" width="7.8" height="12.52" fill="#8c4a6e" stroke="#6a2a48" stroke-width="1"/>
<rect x="918.58" y="757.2" width="7.8" height="15.65" fill="#8c4a6e" stroke="#6a2a48" stroke-width="1"/>
<rect x="926.34" y="757.2" width="7.8" height="16.93" fill="#8c4a6e" stroke="#6a2a48" stroke-width="1"/>
<rect x="934.1" y="757.2" width="7.8" height="15.27" fill="#8c4a6e" stroke="#6a2a48" stroke-width="1"/>
<rect x="941.86" y="757.2" width="7.8" height="14.22" fill="#8c4a6e" stroke="#6a2a48" stroke-width="1"/>
<rect x="949.62" y="757.2" width="7.8" height="13.58" fill="#8c4a6e" stroke="#6a2a48" stroke-width="1"/>
<rect x="957.38" y="757.2" width="7.8" height="11.93" fill="#8c4a6e" stroke="#6a2a48" stroke-width="1"/>
<rect x="965.14" y="757.2" width="7.8" height="10.3" fill="#8c4a6e" stroke="#6a2a48" stroke-width="1"/>
<rect x="972.9" y="757.2" width="7.8" height="8.07" fill="#8c4a6e" stroke="#6a2a48" stroke-width="1"/>
<rect x="980.66" y="757.2" width="7.8" height="6.46" fill="#8c4a6e" stroke="#6a2a48" stroke-width="1"/>
<rect x="988.42" y="757.2" width="7.8" height="3.27" fill="#8c4a6e" stroke="#6a2a48" stroke-width="1"/>
<rect x="996.18" y="756.9" width="7.8" height="0.3" fill="#8f8a50" stroke="#5a5428" stroke-width="1"/>
<rect x="1003.94" y="750.61" width="7.8" height="6.59" fill="#8f8a50" stroke="#5a5428" stroke-width="1"/>
<rect x="1011.7" y="746.59" width="7.8" height="10.61" fill="#8f8a50" stroke="#5a5428" stroke-width="1"/>
<rect x="1019.46" y="744.62" width="7.8" height="12.58" fill="#8f8a50" stroke="#5a5428" stroke-width="1"/>
<rect x="1027.22" y="742.98" width="7.8" height="14.22" fill="#8f8a50" stroke="#5a5428" stroke-width="1"/>
<rect x="1034.98" y="741.51" width="7.8" height="15.69" fill="#8f8a50" stroke="#5a5428" stroke-width="1"/>
<rect x="1042.74" y="739.56" width="7.8" height="17.64" fill="#8f8a50" stroke="#5a5428" stroke-width="1"/>
<rect x="1050.5" y="740.56" width="7.8" height="16.64" fill="#8f8a50" stroke="#5a5428" stroke-width="1"/>
<rect x="1058.26" y="742.81" width="7.8" height="14.39" fill="#8f8a50" stroke="#5a5428" stroke-width="1"/>
<rect x="1066.02" y="749.33" width="7.8" height="7.87" fill="#8f8a50" stroke="#5a5428" stroke-width="1"/>
<rect x="1073.78" y="753.99" width="7.8" height="3.21" fill="#8f8a50" stroke="#5a5428" stroke-width="1"/>
<rect x="1081.54" y="757.2" width="7.8" height="1.1" fill="#8c4a6e" stroke="#6a2a48" stroke-width="1"/>
<rect x="33.1" y="757.2" width="1.8" height="6.03" fill="#fff"/>
<rect x="79.8" y="757.2" width="1.8" height="0.66" fill="#fff"/>
<rect x="172.8" y="739.77" width="1.8" height="17.43" fill="#fff"/>
<rect x="219.4" y="741.75" width="1.8" height="15.45" fill="#fff"/>
<rect x="265.9" y="742.73" width="1.8" height="14.47" fill="#fff"/>
<rect x="312.3" y="754.45" width="1.8" height="2.75" fill="#fff"/>
<rect x="358.8" y="757.2" width="1.8" height="6.88" fill="#fff"/>
<path d="M12.4 781.3C17.32 782.1 31.13 784.03 41.9 786.1C52.67 788.17 67.43 792.38 77 793.7C86.57 795.02 91.87 793.47 99.3 794C106.73 794.53 116.28 796.63 121.6 796.9C126.92 797.17 125.88 797.4 131.2 795.6C136.52 793.8 147.12 789.02 153.5 786.1C159.88 783.18 164.18 780.77 169.5 778.1C174.82 775.43 180.23 773.48 185.4 770.1C190.57 766.72 195.4 761.32 200.5 757.8C205.6 754.28 210.77 751.8 216 749C221.23 746.2 226.6 743.78 231.9 741C237.2 738.22 242.48 735.48 247.8 732.3C253.12 729.12 258.48 724.57 263.8 721.9C269.12 719.23 274.38 718.3 279.7 716.3C285.02 714.3 290.38 711.83 295.7 709.9C301.02 707.97 307.35 705.75 311.6 704.7C315.85 703.65 317.2 703.78 321.2 703.6C325.2 703.42 330.02 703.33 335.6 703.6C341.18 703.87 349.38 704.42 354.7 705.2C360.02 705.98 362.72 706.85 367.5 708.3C372.28 709.75 377.98 712.13 383.4 713.9C388.82 715.67 395.63 718.1 400 718.9C404.37 719.7 406.68 718.47 409.6 718.7C412.52 718.93 412.98 719.98 417.5 720.3C422.02 720.62 431.38 720.2 436.7 720.6C442.02 721 444.88 721.42 449.4 722.7C453.92 723.98 458.75 725.92 463.8 728.3C468.85 730.68 474.38 733.95 479.7 737C485.02 740.05 491.7 744.47 495.7 746.6C499.7 748.73 500.52 748.07 503.7 749.8C506.88 751.53 510.82 754.6 514.8 757C518.78 759.4 523.33 761.95 527.6 764.2C531.87 766.45 536.42 768.78 540.4 770.5C544.38 772.22 546.98 773.35 551.5 774.5C556.02 775.65 562.18 776.92 567.5 777.4C572.82 777.88 577.98 777.55 583.4 777.4C588.82 777.25 594.57 777.38 600 776.5C605.43 775.62 610.68 773.37 616 772.1C621.32 770.83 626.07 769.82 631.9 768.9C637.73 767.98 646.22 766.93 651 766.6C655.78 766.27 657.13 766.38 660.6 766.9C664.07 767.42 667.28 768.57 671.8 769.7C676.32 770.83 682.38 772.63 687.7 773.7C693.02 774.77 698.38 775.48 703.7 776.1C709.02 776.72 714.28 777.18 719.6 777.4C724.92 777.62 730.28 777.75 735.6 777.4C740.92 777.05 746.18 775.92 751.5 775.3C756.82 774.68 762.18 774.9 767.5 773.7C772.82 772.5 777.98 770.8 783.4 768.1C788.82 765.4 795.1 760.68 800 757.5C804.9 754.32 808.55 751.35 812.8 749C817.05 746.65 820.98 745.05 825.5 743.4C830.02 741.75 835.38 740.23 839.9 739.1C844.42 737.97 847.82 737.02 852.6 736.6C857.38 736.18 863.28 736.6 868.6 736.6C873.92 736.6 879.45 735.73 884.5 736.6C889.55 737.47 894.38 740.13 898.9 741.8C903.42 743.47 907.35 745 911.6 746.6C915.85 748.2 920.67 749.67 924.4 751.4C928.13 753.13 930.82 755 934 757C937.18 759 939.25 761.15 943.5 763.4C947.75 765.65 954.18 768.38 959.5 770.5C964.82 772.62 970.32 774.77 975.4 776.1C980.48 777.43 985.43 778.5 990 778.5C994.57 778.5 998.28 776.9 1002.8 776.1C1007.32 775.3 1012.32 775.03 1017.1 773.7C1021.88 772.37 1026.98 770.35 1031.5 768.1C1036.02 765.85 1040.48 762.18 1044.2 760.2C1047.92 758.22 1050.87 757.22 1053.8 756.2C1056.73 755.18 1059.15 755.03 1061.8 754.1C1064.45 753.17 1067.05 751.32 1069.7 750.6C1072.35 749.88 1075.08 749.85 1077.7 749.8C1080.32 749.75 1084.12 750.22 1085.4 750.3" fill="none" stroke="#7e2c48" stroke-width="1.4"/>
<path d="M12.4 790.5C15.18 790.5 24.72 790.17 29.1 790.5C33.48 790.83 35.5 791.58 38.7 792.5C41.9 793.42 45.12 795.27 48.3 796C51.48 796.73 53.02 796.83 57.8 796.9C62.58 796.97 71.42 796.93 77 796.4C82.58 795.87 87.58 793.7 91.3 793.7C95.02 793.7 96.63 795.42 99.3 796.4C101.97 797.38 103.58 799.07 107.3 799.6C111.02 800.13 117.62 801.32 121.6 799.6C125.58 797.88 128.27 792.35 131.2 789.3C134.13 786.25 135.48 783.83 139.2 781.3C142.92 778.77 149.52 776.77 153.5 774.1C157.48 771.43 160.17 767.82 163.1 765.3C166.03 762.78 167.92 761.07 171.1 759C174.28 756.93 178.75 755.3 182.2 752.9C185.65 750.5 188.6 747.18 191.8 744.6C195 742.02 197.9 739.32 201.4 737.4C204.9 735.48 209.05 734.48 212.8 733.1C216.55 731.72 219.38 731.37 223.9 729.1C228.42 726.83 236.17 721.28 239.9 719.5C243.63 717.72 243.92 719.87 246.3 718.4C248.68 716.93 250.75 712.9 254.2 710.7C257.65 708.5 263.02 706.47 267 705.2C270.98 703.93 273.43 703.8 278.1 703.1C282.77 702.4 288.85 701.43 295 701C301.15 700.57 308.23 700.07 315 700.5C321.77 700.93 329.52 701.9 335.6 703.6C341.68 705.3 346.18 708.18 351.5 710.7C356.82 713.22 362.72 716.7 367.5 718.7C372.28 720.7 376.22 721.68 380.2 722.7C384.18 723.72 388.1 724.53 391.4 724.8C394.7 725.07 396.83 724.38 400 724.3C403.17 724.22 407.48 724.83 410.4 724.3C413.32 723.77 413.92 721.63 417.5 721.1C421.08 720.57 426.85 720.48 431.9 721.1C436.95 721.72 443.82 722.8 447.8 724.8C451.78 726.8 452.87 730 455.8 733.1C458.73 736.2 462.2 740.35 465.4 743.4C468.6 746.45 471.82 748.87 475 751.4C478.18 753.93 481.32 756.13 484.5 758.6C487.68 761.07 490.9 764.55 494.1 766.2C497.3 767.85 500.52 767.58 503.7 768.5C506.88 769.42 510.02 770.22 513.2 771.7C516.38 773.18 519.33 775.55 522.8 777.4C526.27 779.25 529.48 781.42 534 782.8C538.52 784.18 545.65 785.53 549.9 785.7C554.15 785.87 555.78 785 559.5 783.8C563.22 782.6 568.22 779.57 572.2 778.5C576.18 777.43 579.67 777.8 583.4 777.4C587.13 777 591.83 776.5 594.6 776.1C597.37 775.7 597.23 776.38 600 775C602.77 773.62 607.22 769.53 611.2 767.8C615.18 766.07 619.65 765.33 623.9 764.6C628.15 763.87 632.18 763.82 636.7 763.4C641.22 762.98 647.02 761.7 651 762.1C654.98 762.5 657.4 764 660.6 765.8C663.8 767.6 666.75 770.52 670.2 772.9C673.65 775.28 677.58 778.63 681.3 780.1C685.02 781.57 688.5 781.7 692.5 781.7C696.5 781.7 700.52 780.37 705.3 780.1C710.08 779.83 716.15 781.03 721.2 780.1C726.25 779.17 730.55 775.7 735.6 774.5C740.65 773.3 746.45 773.97 751.5 772.9C756.55 771.83 761.92 770.22 765.9 768.1C769.88 765.98 771.95 763.52 775.4 760.2C778.85 756.88 782.5 751.93 786.6 748.2C790.7 744.47 796.43 740.45 800 737.8C803.57 735.15 805.33 733.75 808 732.3C810.67 730.85 812.82 729.72 816 729.1C819.18 728.48 823.65 728.42 827.1 728.6C830.55 728.78 833.5 729.58 836.7 730.2C839.9 730.82 843.65 731.95 846.3 732.3C848.95 732.65 850.22 731.85 852.6 732.3C854.98 732.75 857.93 734.28 860.6 735C863.27 735.72 865.93 736.33 868.6 736.6C871.27 736.87 873.95 736.13 876.6 736.6C879.25 737.07 881.85 737.87 884.5 739.4C887.15 740.93 889.57 743.8 892.5 745.8C895.43 747.8 898.92 749.4 902.1 751.4C905.28 753.4 908.68 755.67 911.6 757.8C914.52 759.93 916.67 761.95 919.6 764.2C922.53 766.45 926 769.45 929.2 771.3C932.4 773.15 935.35 773.75 938.8 775.3C942.25 776.85 946.45 779.35 949.9 780.6C953.35 781.85 956.03 782.17 959.5 782.8C962.97 783.43 966.72 784.13 970.7 784.4C974.68 784.67 980.18 784.72 983.4 784.4C986.62 784.08 987.57 783.48 990 782.5C992.43 781.52 995.08 780.77 998 778.5C1000.92 776.23 1004.58 771.42 1007.5 768.9C1010.42 766.38 1012.83 765.12 1015.5 763.4C1018.17 761.68 1020.83 760.2 1023.5 758.6C1026.17 757 1028.85 755.67 1031.5 753.8C1034.15 751.93 1037.02 749.4 1039.4 747.4C1041.78 745.4 1043.4 743.13 1045.8 741.8C1048.2 740.47 1051.13 739.8 1053.8 739.4C1056.47 739 1059.15 738.87 1061.8 739.4C1064.45 739.93 1067.05 741.4 1069.7 742.6C1072.35 743.8 1075.08 745.13 1077.7 746.6C1080.32 748.07 1084.12 750.6 1085.4 751.4" fill="none" stroke="#26364c" stroke-width="2.1"/>
<line x1="11" y1="841.29" x2="1188" y2="841.29" stroke="#000" stroke-width="1.5"/>
<line x1="11" y1="904.11" x2="1188" y2="904.11" stroke="#000" stroke-width="1.5"/>
<line x1="11" y1="872.7" x2="1188" y2="872.7" stroke="#000" stroke-width="1.5" stroke-dasharray="9,5,3,5"/>
<polyline points="12.4,918.7 26,913.6 38.7,910.4 46.7,912.3 59.4,916.3 73.8,908.3 85,898.7 99.3,891.2 107.3,894.7 116.9,907.2 123.2,911.5 131.2,904.3 137.6,882 147.2,853.3 155.1,841.3 163.1,840.5 171.1,841.8 179.1,838.6 193.4,833.3 210,831 231.9,831 260,829 303.7,830.2 311.6,833.8 321.2,840.5 332.4,850.1 343.5,855.7 353.1,858.9 361.1,864.4 369,874.8 378.6,888.4 386.6,894 394.6,890.8 400,886 409.6,875.6 417.5,862.8 425.5,851.7 433.5,846.1 441.5,846.1 449.4,850.9 457.4,862 465.4,878.8 473.4,897.9 481.3,910.7 489.3,916.8 498.9,918.3 511.6,915.5 521.2,913.1 530.8,914.7 540.4,917.1 549.9,917.9 559.5,910.7 567.5,897.9 575.4,883.6 583.4,868.4 591.4,862.5 600,861.8 604.8,860.5 619.1,844.5 628.7,846.6 639.9,854.1 652.6,859.7 663.8,874 673.4,894.7 681.3,907.5 690.1,915.2 702.1,905.6 714.8,895.5 727.6,891.2 740.4,883.6 753.1,877.2 759.5,875.6 767.5,867.6 775.4,856.1 785,842.1 791.4,832.5 800,826.3 809.6,825.4 819.1,827.8 828.7,831 836.7,837.3 843.1,843.7 852.6,847.2 863.8,850.4 875,855.7 882.9,862.8 890.9,874.8 898.9,893.1 905.3,905.9 914.8,912.6 922.8,913.6 930.8,918.7 940.4,921.5 951.5,921.1 967.5,917.1 983.4,912 991.4,907.5 999.6,893.1 1007.5,872.4 1015.5,854.9 1023.5,838.1 1031.5,831 1039.4,829 1050.6,829 1058.6,831.7 1068.1,841.3 1077.7,856.5 1085.4,870.8" fill="none" stroke="#7e2c48" stroke-width="1.4" stroke-linejoin="round"/>
<polyline points="12.4,915.8 22,910.4 29.9,909.1 38.7,911.5 53.1,919.5 67.4,905.6 77,899.5 85,893.1 92.9,888 100.1,893.1 107.3,905.9 115.3,917.4 123.2,909.1 131.2,878.8 139.2,848.5 146.4,832.9 153.5,842.1 161.5,844.5 169.5,838.9 177.5,832.9 185.4,834.1 193.4,832.5 201.4,831.3 210,831.7 216,832.5 231.9,830.2 250,828 273.4,829.7 279.7,831 287.7,830.2 294.1,831 302.1,829.7 311.6,838.9 318,846.1 326,853.3 337.2,854.9 345.1,858.1 354.7,863.6 361.1,874 369,885.2 378.6,897.9 388.2,888.4 400,876 410.4,866 417.5,847.7 425.5,844.5 432.7,844.5 440.7,852.5 447.8,856.8 455,873.2 463.8,897.9 472.6,915.8 479.7,916.3 486.9,917.9 494.9,920.6 502.9,915.2 511.6,913.1 518.8,910.7 526,915.8 534,920.6 541.9,917.1 549.9,915.2 557.1,906.7 564.3,888.4 572.2,871.6 580.2,860 589,862.8 597,865.7 600,859.7 604,853.3 611.2,845.3 619.1,839.2 626.3,850.4 631.9,854.1 636.7,856.8 644.7,859.3 651,855.7 657.4,872.4 666.2,893.1 674.2,915.8 682.1,915.8 689.3,910.7 697.3,902.4 705.3,891.2 713.2,892.8 721.2,890.8 727.6,889.6 737.2,879.6 743.5,879.6 751.5,874.8 759.5,875.9 767.5,858.9 775.4,842.1 783.4,831 791.4,823.8 800,826.2 808,825.8 816,827.8 827.1,834.1 831.9,838.9 837.5,845.6 845.5,848.8 852.6,847.7 859.8,851.7 867.8,857.7 876.6,859.7 882.9,871.6 890.9,886.8 895.7,897.9 898.9,914.7 906.9,912 914.8,913.6 922.8,916.3 930.8,922.2 938.8,922.2 945.1,922.2 953.1,920 961.1,917.1 969.1,915.5 977,912.3 985,910.7 991.4,899.5 996.4,885.2 1002,869.2 1006.7,851.4 1015.5,835.7 1023.5,827.8 1030.7,831 1037.8,828.6 1045.8,828.1 1053.8,831.7 1061.8,840.8 1069.7,853.3 1077.7,870 1084.9,888.7" fill="none" stroke="#26364c" stroke-width="2.1" stroke-linejoin="round"/>
<rect x="1046" y="847.5" width="113" height="77" fill="none" stroke="#e83cf0" stroke-width="2.6"/>
<rect x="12" y="52" width="145" height="17" fill="#fff"/>
<path d="M15 67 L17 61 L19 62 L22 55 L24 60 L26 58 L28 55 L28 67 Z" fill="#948f55" stroke="#1c2a40" stroke-width="1.3" stroke-linejoin="round"/>
<text x="33.5" y="66.5" font-size="13" fill="#1a1a1a" font-weight="normal" text-anchor="start" textLength="119" lengthAdjust="spacingAndGlyphs">RSI(14) 41.97</text>
<rect x="12" y="178" width="206" height="17" fill="#fff"/>
<rect x="12" y="195" width="109" height="48" fill="#fff"/>
<path d="M16.5 181v9M14.5 183l2-2 2 2M21.5 180v9M19.5 187l2 2 2-2M26.5 181v9M24.5 188l2 2 2-2" stroke="#2e8a2e" stroke-width="1.3" fill="none"/>
<text x="34.8" y="193" font-size="13.5" fill="#1a1a1a" font-weight="normal" text-anchor="start" textLength="182" lengthAdjust="spacingAndGlyphs">$SILVER (Daily) 23.24</text>
<line x1="15.5" y1="204" x2="28.7" y2="204" stroke="#1e2a9a" stroke-width="2.5"/>
<text x="31.3" y="210" font-size="13" fill="#1e2a9a" font-weight="normal" text-anchor="start" textLength="88" lengthAdjust="spacingAndGlyphs">MA(50) 23.87</text>
<line x1="15.5" y1="220" x2="28.7" y2="220" stroke="#c8143c" stroke-width="2.5"/>
<text x="31.3" y="226" font-size="13" fill="#c8143c" font-weight="normal" text-anchor="start" textLength="88" lengthAdjust="spacingAndGlyphs">MA(20) 23.63</text>
<line x1="15.5" y1="236" x2="28.7" y2="236" stroke="#2e6a1e" stroke-width="2.5"/>
<text x="31.3" y="242" font-size="13" fill="#2e6a1e" font-weight="normal" text-anchor="start" textLength="88" lengthAdjust="spacingAndGlyphs">MA(10) 24.26</text>
<rect x="12" y="559" width="178" height="16" fill="#fff"/>
<path d="M16 572V566h2v6zM19.5 572V563h2v9zM23 572V565h2v7zM26.5 572V567h2v5z" fill="#3a7a2a"/>
<text x="34.3" y="572.6" font-size="13.5" fill="#1a1a1a" font-weight="normal" text-anchor="start" textLength="152.5" lengthAdjust="spacingAndGlyphs">Volume 4,749,700</text>
<rect x="12" y="685" width="331" height="18.5" fill="#fff"/>
<text x="169" y="700" font-size="13.5" textLength="173" lengthAdjust="spacingAndGlyphs"><tspan fill="#24324a">0.074, </tspan><tspan fill="#6e2438">0.104, </tspan><tspan fill="#8a8440">-0.030</tspan></text>
<rect x="12" y="684.5" width="160.5" height="23" fill="#c8c8c8"/>
<text x="15.6" y="701.3" font-size="13.3" fill="#2a2a2a" font-weight="normal" text-anchor="start" textLength="152.5" lengthAdjust="spacingAndGlyphs">21 Sep Y:2,402,190.19</text>
<rect x="12" y="811" width="350" height="18.5" fill="#fff"/>
<line x1="15.6" y1="819.8" x2="28.3" y2="819.8" stroke="#24324a" stroke-width="3"/>
<text x="33.9" y="825" font-size="13.5" textLength="326.5" lengthAdjust="spacingAndGlyphs"><tspan fill="#1a1a1a">Full STO %K(14,3) %D(3) </tspan><tspan fill="#24324a">35.41, </tspan><tspan fill="#6e2438">51.84</tspan></text>
<rect x="11.5" y="51.5" width="1177" height="126" fill="none" stroke="#0c1846" stroke-width="1.2"/>
<rect x="11.5" y="177.5" width="1177" height="359" fill="none" stroke="#0c1846" stroke-width="1.2"/>
<rect x="11.5" y="558.5" width="1177" height="126" fill="none" stroke="#0c1846" stroke-width="1.2"/>
<rect x="11.5" y="684.5" width="1177" height="126" fill="none" stroke="#0c1846" stroke-width="1.2"/>
<rect x="11.5" y="810.5" width="1177" height="125" fill="none" stroke="#0c1846" stroke-width="1.2"/>
<line x1="14.5" y1="537" x2="14.5" y2="539" stroke="#0c1846" stroke-width="1"/>
<line x1="14.5" y1="557" x2="14.5" y2="559" stroke="#0c1846" stroke-width="1"/>
<line x1="22.5" y1="537" x2="22.5" y2="540" stroke="#0c1846" stroke-width="1"/>
<line x1="22.5" y1="556" x2="22.5" y2="559" stroke="#0c1846" stroke-width="1"/>
<line x1="30.5" y1="537" x2="30.5" y2="539" stroke="#0c1846" stroke-width="1"/>
<line x1="30.5" y1="557" x2="30.5" y2="559" stroke="#0c1846" stroke-width="1"/>
<line x1="37.5" y1="537" x2="37.5" y2="539" stroke="#0c1846" stroke-width="1"/>
<line x1="37.5" y1="557" x2="37.5" y2="559" stroke="#0c1846" stroke-width="1"/>
<line x1="45.5" y1="537" x2="45.5" y2="539" stroke="#0c1846" stroke-width="1"/>
<line x1="45.5" y1="557" x2="45.5" y2="559" stroke="#0c1846" stroke-width="1"/>
<line x1="53.5" y1="537" x2="53.5" y2="540" stroke="#0c1846" stroke-width="1"/>
<line x1="53.5" y1="556" x2="53.5" y2="559" stroke="#0c1846" stroke-width="1"/>
<line x1="61.5" y1="537" x2="61.5" y2="539" stroke="#0c1846" stroke-width="1"/>
<line x1="61.5" y1="557" x2="61.5" y2="559" stroke="#0c1846" stroke-width="1"/>
<line x1="68.5" y1="537" x2="68.5" y2="540" stroke="#0c1846" stroke-width="1"/>
<line x1="68.5" y1="556" x2="68.5" y2="559" stroke="#0c1846" stroke-width="1"/>
<line x1="76.5" y1="537" x2="76.5" y2="539" stroke="#0c1846" stroke-width="1"/>
<line x1="76.5" y1="557" x2="76.5" y2="559" stroke="#0c1846" stroke-width="1"/>
<line x1="84.5" y1="537" x2="84.5" y2="539" stroke="#0c1846" stroke-width="1"/>
<line x1="84.5" y1="557" x2="84.5" y2="559" stroke="#0c1846" stroke-width="1"/>
<line x1="92.5" y1="537" x2="92.5" y2="540" stroke="#0c1846" stroke-width="1"/>
<line x1="92.5" y1="556" x2="92.5" y2="559" stroke="#0c1846" stroke-width="1"/>
<line x1="99.5" y1="537" x2="99.5" y2="539" stroke="#0c1846" stroke-width="1"/>
<line x1="99.5" y1="557" x2="99.5" y2="559" stroke="#0c1846" stroke-width="1"/>
<line x1="107.5" y1="537" x2="107.5" y2="539" stroke="#0c1846" stroke-width="1"/>
<line x1="107.5" y1="557" x2="107.5" y2="559" stroke="#0c1846" stroke-width="1"/>
<line x1="115.5" y1="537" x2="115.5" y2="539" stroke="#0c1846" stroke-width="1"/>
<line x1="115.5" y1="557" x2="115.5" y2="559" stroke="#0c1846" stroke-width="1"/>
<line x1="123.5" y1="537" x2="123.5" y2="539" stroke="#0c1846" stroke-width="1"/>
<line x1="123.5" y1="557" x2="123.5" y2="559" stroke="#0c1846" stroke-width="1"/>
<line x1="130.5" y1="537" x2="130.5" y2="540" stroke="#0c1846" stroke-width="1"/>
<line x1="130.5" y1="556" x2="130.5" y2="559" stroke="#0c1846" stroke-width="1"/>
<line x1="138.5" y1="537" x2="138.5" y2="539" stroke="#0c1846" stroke-width="1"/>
<line x1="138.5" y1="557" x2="138.5" y2="559" stroke="#0c1846" stroke-width="1"/>
<line x1="146.5" y1="537" x2="146.5" y2="539" stroke="#0c1846" stroke-width="1"/>
<line x1="146.5" y1="557" x2="146.5" y2="559" stroke="#0c1846" stroke-width="1"/>
<line x1="154.5" y1="537" x2="154.5" y2="539" stroke="#0c1846" stroke-width="1"/>
<line x1="154.5" y1="557" x2="154.5" y2="559" stroke="#0c1846" stroke-width="1"/>
<line x1="161.5" y1="537" x2="161.5" y2="539" stroke="#0c1846" stroke-width="1"/>
<line x1="161.5" y1="557" x2="161.5" y2="559" stroke="#0c1846" stroke-width="1"/>
<line x1="169.5" y1="537" x2="169.5" y2="540" stroke="#0c1846" stroke-width="1"/>
<line x1="169.5" y1="556" x2="169.5" y2="559" stroke="#0c1846" stroke-width="1"/>
<line x1="177.5" y1="537" x2="177.5" y2="539" stroke="#0c1846" stroke-width="1"/>
<line x1="177.5" y1="557" x2="177.5" y2="559" stroke="#0c1846" stroke-width="1"/>
<line x1="185.5" y1="537" x2="185.5" y2="539" stroke="#0c1846" stroke-width="1"/>
<line x1="185.5" y1="557" x2="185.5" y2="559" stroke="#0c1846" stroke-width="1"/>
<line x1="192.5" y1="537" x2="192.5" y2="539" stroke="#0c1846" stroke-width="1"/>
<line x1="192.5" y1="557" x2="192.5" y2="559" stroke="#0c1846" stroke-width="1"/>
<line x1="200.5" y1="537" x2="200.5" y2="539" stroke="#0c1846" stroke-width="1"/>
<line x1="200.5" y1="557" x2="200.5" y2="559" stroke="#0c1846" stroke-width="1"/>
<line x1="208.5" y1="537" x2="208.5" y2="540" stroke="#0c1846" stroke-width="1"/>
<line x1="208.5" y1="556" x2="208.5" y2="559" stroke="#0c1846" stroke-width="1"/>
<line x1="216.5" y1="537" x2="216.5" y2="539" stroke="#0c1846" stroke-width="1"/>
<line x1="216.5" y1="557" x2="216.5" y2="559" stroke="#0c1846" stroke-width="1"/>
<line x1="224.5" y1="537" x2="224.5" y2="539" stroke="#0c1846" stroke-width="1"/>
<line x1="224.5" y1="557" x2="224.5" y2="559" stroke="#0c1846" stroke-width="1"/>
<line x1="231.5" y1="537" x2="231.5" y2="539" stroke="#0c1846" stroke-width="1"/>
<line x1="231.5" y1="557" x2="231.5" y2="559" stroke="#0c1846" stroke-width="1"/>
<line x1="239.5" y1="537" x2="239.5" y2="539" stroke="#0c1846" stroke-width="1"/>
<line x1="239.5" y1="557" x2="239.5" y2="559" stroke="#0c1846" stroke-width="1"/>
<line x1="247.5" y1="537" x2="247.5" y2="540" stroke="#0c1846" stroke-width="1"/>
<line x1="247.5" y1="556" x2="247.5" y2="559" stroke="#0c1846" stroke-width="1"/>
<line x1="255.5" y1="537" x2="255.5" y2="539" stroke="#0c1846" stroke-width="1"/>
<line x1="255.5" y1="557" x2="255.5" y2="559" stroke="#0c1846" stroke-width="1"/>
<line x1="262.5" y1="537" x2="262.5" y2="539" stroke="#0c1846" stroke-width="1"/>
<line x1="262.5" y1="557" x2="262.5" y2="559" stroke="#0c1846" stroke-width="1"/>
<line x1="270.5" y1="537" x2="270.5" y2="539" stroke="#0c1846" stroke-width="1"/>
<line x1="270.5" y1="557" x2="270.5" y2="559" stroke="#0c1846" stroke-width="1"/>
<line x1="278.5" y1="537" x2="278.5" y2="540" stroke="#0c1846" stroke-width="1"/>
<line x1="278.5" y1="556" x2="278.5" y2="559" stroke="#0c1846" stroke-width="1"/>
<line x1="286.5" y1="537" x2="286.5" y2="539" stroke="#0c1846" stroke-width="1"/>
<line x1="286.5" y1="557" x2="286.5" y2="559" stroke="#0c1846" stroke-width="1"/>
<line x1="293.5" y1="537" x2="293.5" y2="539" stroke="#0c1846" stroke-width="1"/>
<line x1="293.5" y1="557" x2="293.5" y2="559" stroke="#0c1846" stroke-width="1"/>
<line x1="301.5" y1="537" x2="301.5" y2="539" stroke="#0c1846" stroke-width="1"/>
<line x1="301.5" y1="557" x2="301.5" y2="559" stroke="#0c1846" stroke-width="1"/>
<line x1="309.5" y1="537" x2="309.5" y2="539" stroke="#0c1846" stroke-width="1"/>
<line x1="309.5" y1="557" x2="309.5" y2="559" stroke="#0c1846" stroke-width="1"/>
<line x1="317.5" y1="537" x2="317.5" y2="540" stroke="#0c1846" stroke-width="1"/>
<line x1="317.5" y1="556" x2="317.5" y2="559" stroke="#0c1846" stroke-width="1"/>
<line x1="324.5" y1="537" x2="324.5" y2="539" stroke="#0c1846" stroke-width="1"/>
<line x1="324.5" y1="557" x2="324.5" y2="559" stroke="#0c1846" stroke-width="1"/>
<line x1="332.5" y1="537" x2="332.5" y2="539" stroke="#0c1846" stroke-width="1"/>
<line x1="332.5" y1="557" x2="332.5" y2="559" stroke="#0c1846" stroke-width="1"/>
<line x1="340.5" y1="537" x2="340.5" y2="539" stroke="#0c1846" stroke-width="1"/>
<line x1="340.5" y1="557" x2="340.5" y2="559" stroke="#0c1846" stroke-width="1"/>
<line x1="348.5" y1="537" x2="348.5" y2="539" stroke="#0c1846" stroke-width="1"/>
<line x1="348.5" y1="557" x2="348.5" y2="559" stroke="#0c1846" stroke-width="1"/>
<line x1="355.5" y1="537" x2="355.5" y2="540" stroke="#0c1846" stroke-width="1"/>
<line x1="355.5" y1="556" x2="355.5" y2="559" stroke="#0c1846" stroke-width="1"/>
<line x1="363.5" y1="537" x2="363.5" y2="539" stroke="#0c1846" stroke-width="1"/>
<line x1="363.5" y1="557" x2="363.5" y2="559" stroke="#0c1846" stroke-width="1"/>
<line x1="371.5" y1="537" x2="371.5" y2="539" stroke="#0c1846" stroke-width="1"/>
<line x1="371.5" y1="557" x2="371.5" y2="559" stroke="#0c1846" stroke-width="1"/>
<line x1="379.5" y1="537" x2="379.5" y2="539" stroke="#0c1846" stroke-width="1"/>
<line x1="379.5" y1="557" x2="379.5" y2="559" stroke="#0c1846" stroke-width="1"/>
<line x1="387.5" y1="537" x2="387.5" y2="539" stroke="#0c1846" stroke-width="1"/>
<line x1="387.5" y1="557" x2="387.5" y2="559" stroke="#0c1846" stroke-width="1"/>
<line x1="394.5" y1="537" x2="394.5" y2="540" stroke="#0c1846" stroke-width="1"/>
<line x1="394.5" y1="556" x2="394.5" y2="559" stroke="#0c1846" stroke-width="1"/>
<line x1="402.5" y1="537" x2="402.5" y2="539" stroke="#0c1846" stroke-width="1"/>
<line x1="402.5" y1="557" x2="402.5" y2="559" stroke="#0c1846" stroke-width="1"/>
<line x1="410.5" y1="537" x2="410.5" y2="539" stroke="#0c1846" stroke-width="1"/>
<line x1="410.5" y1="557" x2="410.5" y2="559" stroke="#0c1846" stroke-width="1"/>
<line x1="418.5" y1="537" x2="418.5" y2="539" stroke="#0c1846" stroke-width="1"/>
<line x1="418.5" y1="557" x2="418.5" y2="559" stroke="#0c1846" stroke-width="1"/>
<line x1="425.5" y1="537" x2="425.5" y2="539" stroke="#0c1846" stroke-width="1"/>
<line x1="425.5" y1="557" x2="425.5" y2="559" stroke="#0c1846" stroke-width="1"/>
<line x1="433.5" y1="537" x2="433.5" y2="540" stroke="#0c1846" stroke-width="1"/>
<line x1="433.5" y1="556" x2="433.5" y2="559" stroke="#0c1846" stroke-width="1"/>
<line x1="441.5" y1="537" x2="441.5" y2="539" stroke="#0c1846" stroke-width="1"/>
<line x1="441.5" y1="557" x2="441.5" y2="559" stroke="#0c1846" stroke-width="1"/>
<line x1="449.5" y1="537" x2="449.5" y2="539" stroke="#0c1846" stroke-width="1"/>
<line x1="449.5" y1="557" x2="449.5" y2="559" stroke="#0c1846" stroke-width="1"/>
<line x1="456.5" y1="537" x2="456.5" y2="539" stroke="#0c1846" stroke-width="1"/>
<line x1="456.5" y1="557" x2="456.5" y2="559" stroke="#0c1846" stroke-width="1"/>
<line x1="464.5" y1="537" x2="464.5" y2="539" stroke="#0c1846" stroke-width="1"/>
<line x1="464.5" y1="557" x2="464.5" y2="559" stroke="#0c1846" stroke-width="1"/>
<line x1="472.5" y1="537" x2="472.5" y2="540" stroke="#0c1846" stroke-width="1"/>
<line x1="472.5" y1="556" x2="472.5" y2="559" stroke="#0c1846" stroke-width="1"/>
<line x1="480.5" y1="537" x2="480.5" y2="539" stroke="#0c1846" stroke-width="1"/>
<line x1="480.5" y1="557" x2="480.5" y2="559" stroke="#0c1846" stroke-width="1"/>
<line x1="487.5" y1="537" x2="487.5" y2="539" stroke="#0c1846" stroke-width="1"/>
<line x1="487.5" y1="557" x2="487.5" y2="559" stroke="#0c1846" stroke-width="1"/>
<line x1="495.5" y1="537" x2="495.5" y2="539" stroke="#0c1846" stroke-width="1"/>
<line x1="495.5" y1="557" x2="495.5" y2="559" stroke="#0c1846" stroke-width="1"/>
<line x1="503.5" y1="537" x2="503.5" y2="539" stroke="#0c1846" stroke-width="1"/>
<line x1="503.5" y1="557" x2="503.5" y2="559" stroke="#0c1846" stroke-width="1"/>
<line x1="511.5" y1="537" x2="511.5" y2="540" stroke="#0c1846" stroke-width="1"/>
<line x1="511.5" y1="556" x2="511.5" y2="559" stroke="#0c1846" stroke-width="1"/>
<line x1="518.5" y1="537" x2="518.5" y2="539" stroke="#0c1846" stroke-width="1"/>
<line x1="518.5" y1="557" x2="518.5" y2="559" stroke="#0c1846" stroke-width="1"/>
<line x1="526.5" y1="537" x2="526.5" y2="539" stroke="#0c1846" stroke-width="1"/>
<line x1="526.5" y1="557" x2="526.5" y2="559" stroke="#0c1846" stroke-width="1"/>
<line x1="534.5" y1="537" x2="534.5" y2="539" stroke="#0c1846" stroke-width="1"/>
<line x1="534.5" y1="557" x2="534.5" y2="559" stroke="#0c1846" stroke-width="1"/>
<line x1="542.5" y1="537" x2="542.5" y2="539" stroke="#0c1846" stroke-width="1"/>
<line x1="542.5" y1="557" x2="542.5" y2="559" stroke="#0c1846" stroke-width="1"/>
<line x1="549.5" y1="537" x2="549.5" y2="540" stroke="#0c1846" stroke-width="1"/>
<line x1="549.5" y1="556" x2="549.5" y2="559" stroke="#0c1846" stroke-width="1"/>
<line x1="557.5" y1="537" x2="557.5" y2="539" stroke="#0c1846" stroke-width="1"/>
<line x1="557.5" y1="557" x2="557.5" y2="559" stroke="#0c1846" stroke-width="1"/>
<line x1="565.5" y1="537" x2="565.5" y2="540" stroke="#0c1846" stroke-width="1"/>
<line x1="565.5" y1="556" x2="565.5" y2="559" stroke="#0c1846" stroke-width="1"/>
<line x1="573.5" y1="537" x2="573.5" y2="539" stroke="#0c1846" stroke-width="1"/>
<line x1="573.5" y1="557" x2="573.5" y2="559" stroke="#0c1846" stroke-width="1"/>
<line x1="581.5" y1="537" x2="581.5" y2="540" stroke="#0c1846" stroke-width="1"/>
<line x1="581.5" y1="556" x2="581.5" y2="559" stroke="#0c1846" stroke-width="1"/>
<line x1="588.5" y1="537" x2="588.5" y2="539" stroke="#0c1846" stroke-width="1"/>
<line x1="588.5" y1="557" x2="588.5" y2="559" stroke="#0c1846" stroke-width="1"/>
<line x1="596.5" y1="537" x2="596.5" y2="539" stroke="#0c1846" stroke-width="1"/>
<line x1="596.5" y1="557" x2="596.5" y2="559" stroke="#0c1846" stroke-width="1"/>
<line x1="604.5" y1="537" x2="604.5" y2="539" stroke="#0c1846" stroke-width="1"/>
<line x1="604.5" y1="557" x2="604.5" y2="559" stroke="#0c1846" stroke-width="1"/>
<line x1="612.5" y1="537" x2="612.5" y2="539" stroke="#0c1846" stroke-width="1"/>
<line x1="612.5" y1="557" x2="612.5" y2="559" stroke="#0c1846" stroke-width="1"/>
<line x1="619.5" y1="537" x2="619.5" y2="540" stroke="#0c1846" stroke-width="1"/>
<line x1="619.5" y1="556" x2="619.5" y2="559" stroke="#0c1846" stroke-width="1"/>
<line x1="627.5" y1="537" x2="627.5" y2="539" stroke="#0c1846" stroke-width="1"/>
<line x1="627.5" y1="557" x2="627.5" y2="559" stroke="#0c1846" stroke-width="1"/>
<line x1="635.5" y1="537" x2="635.5" y2="539" stroke="#0c1846" stroke-width="1"/>
<line x1="635.5" y1="557" x2="635.5" y2="559" stroke="#0c1846" stroke-width="1"/>
<line x1="643.5" y1="537" x2="643.5" y2="539" stroke="#0c1846" stroke-width="1"/>
<line x1="643.5" y1="557" x2="643.5" y2="559" stroke="#0c1846" stroke-width="1"/>
<line x1="650.5" y1="537" x2="650.5" y2="539" stroke="#0c1846" stroke-width="1"/>
<line x1="650.5" y1="557" x2="650.5" y2="559" stroke="#0c1846" stroke-width="1"/>
<line x1="658.5" y1="537" x2="658.5" y2="540" stroke="#0c1846" stroke-width="1"/>
<line x1="658.5" y1="556" x2="658.5" y2="559" stroke="#0c1846" stroke-width="1"/>
<line x1="666.5" y1="537" x2="666.5" y2="539" stroke="#0c1846" stroke-width="1"/>
<line x1="666.5" y1="557" x2="666.5" y2="559" stroke="#0c1846" stroke-width="1"/>
<line x1="674.5" y1="537" x2="674.5" y2="539" stroke="#0c1846" stroke-width="1"/>
<line x1="674.5" y1="557" x2="674.5" y2="559" stroke="#0c1846" stroke-width="1"/>
<line x1="681.5" y1="537" x2="681.5" y2="539" stroke="#0c1846" stroke-width="1"/>
<line x1="681.5" y1="557" x2="681.5" y2="559" stroke="#0c1846" stroke-width="1"/>
<line x1="689.5" y1="537" x2="689.5" y2="540" stroke="#0c1846" stroke-width="1"/>
<line x1="689.5" y1="556" x2="689.5" y2="559" stroke="#0c1846" stroke-width="1"/>
<line x1="697.5" y1="537" x2="697.5" y2="539" stroke="#0c1846" stroke-width="1"/>
<line x1="697.5" y1="557" x2="697.5" y2="559" stroke="#0c1846" stroke-width="1"/>
<line x1="705.5" y1="537" x2="705.5" y2="539" stroke="#0c1846" stroke-width="1"/>
<line x1="705.5" y1="557" x2="705.5" y2="559" stroke="#0c1846" stroke-width="1"/>
<line x1="712.5" y1="537" x2="712.5" y2="539" stroke="#0c1846" stroke-width="1"/>
<line x1="712.5" y1="557" x2="712.5" y2="559" stroke="#0c1846" stroke-width="1"/>
<line x1="720.5" y1="537" x2="720.5" y2="539" stroke="#0c1846" stroke-width="1"/>
<line x1="720.5" y1="557" x2="720.5" y2="559" stroke="#0c1846" stroke-width="1"/>
<line x1="728.5" y1="537" x2="728.5" y2="540" stroke="#0c1846" stroke-width="1"/>
<line x1="728.5" y1="556" x2="728.5" y2="559" stroke="#0c1846" stroke-width="1"/>
<line x1="736.5" y1="537" x2="736.5" y2="539" stroke="#0c1846" stroke-width="1"/>
<line x1="736.5" y1="557" x2="736.5" y2="559" stroke="#0c1846" stroke-width="1"/>
<line x1="743.5" y1="537" x2="743.5" y2="539" stroke="#0c1846" stroke-width="1"/>
<line x1="743.5" y1="557" x2="743.5" y2="559" stroke="#0c1846" stroke-width="1"/>
<line x1="751.5" y1="537" x2="751.5" y2="539" stroke="#0c1846" stroke-width="1"/>
<line x1="751.5" y1="557" x2="751.5" y2="559" stroke="#0c1846" stroke-width="1"/>
<line x1="759.5" y1="537" x2="759.5" y2="540" stroke="#0c1846" stroke-width="1"/>
<line x1="759.5" y1="556" x2="759.5" y2="559" stroke="#0c1846" stroke-width="1"/>
<line x1="767.5" y1="537" x2="767.5" y2="539" stroke="#0c1846" stroke-width="1"/>
<line x1="767.5" y1="557" x2="767.5" y2="559" stroke="#0c1846" stroke-width="1"/>
<line x1="775.5" y1="537" x2="775.5" y2="539" stroke="#0c1846" stroke-width="1"/>
<line x1="775.5" y1="557" x2="775.5" y2="559" stroke="#0c1846" stroke-width="1"/>
<line x1="782.5" y1="537" x2="782.5" y2="539" stroke="#0c1846" stroke-width="1"/>
<line x1="782.5" y1="557" x2="782.5" y2="559" stroke="#0c1846" stroke-width="1"/>
<line x1="790.5" y1="537" x2="790.5" y2="539" stroke="#0c1846" stroke-width="1"/>
<line x1="790.5" y1="557" x2="790.5" y2="559" stroke="#0c1846" stroke-width="1"/>
<line x1="798.5" y1="537" x2="798.5" y2="540" stroke="#0c1846" stroke-width="1"/>
<line x1="798.5" y1="556" x2="798.5" y2="559" stroke="#0c1846" stroke-width="1"/>
<line x1="806.5" y1="537" x2="806.5" y2="539" stroke="#0c1846" stroke-width="1"/>
<line x1="806.5" y1="557" x2="806.5" y2="559" stroke="#0c1846" stroke-width="1"/>
<line x1="813.5" y1="537" x2="813.5" y2="539" stroke="#0c1846" stroke-width="1"/>
<line x1="813.5" y1="557" x2="813.5" y2="559" stroke="#0c1846" stroke-width="1"/>
<line x1="821.5" y1="537" x2="821.5" y2="539" stroke="#0c1846" stroke-width="1"/>
<line x1="821.5" y1="557" x2="821.5" y2="559" stroke="#0c1846" stroke-width="1"/>
<line x1="829.5" y1="537" x2="829.5" y2="539" stroke="#0c1846" stroke-width="1"/>
<line x1="829.5" y1="557" x2="829.5" y2="559" stroke="#0c1846" stroke-width="1"/>
<line x1="837.5" y1="537" x2="837.5" y2="540" stroke="#0c1846" stroke-width="1"/>
<line x1="837.5" y1="556" x2="837.5" y2="559" stroke="#0c1846" stroke-width="1"/>
<line x1="844.5" y1="537" x2="844.5" y2="539" stroke="#0c1846" stroke-width="1"/>
<line x1="844.5" y1="557" x2="844.5" y2="559" stroke="#0c1846" stroke-width="1"/>
<line x1="852.5" y1="537" x2="852.5" y2="539" stroke="#0c1846" stroke-width="1"/>
<line x1="852.5" y1="557" x2="852.5" y2="559" stroke="#0c1846" stroke-width="1"/>
<line x1="860.5" y1="537" x2="860.5" y2="539" stroke="#0c1846" stroke-width="1"/>
<line x1="860.5" y1="557" x2="860.5" y2="559" stroke="#0c1846" stroke-width="1"/>
<line x1="868.5" y1="537" x2="868.5" y2="539" stroke="#0c1846" stroke-width="1"/>
<line x1="868.5" y1="557" x2="868.5" y2="559" stroke="#0c1846" stroke-width="1"/>
<line x1="875.5" y1="537" x2="875.5" y2="540" stroke="#0c1846" stroke-width="1"/>
<line x1="875.5" y1="556" x2="875.5" y2="559" stroke="#0c1846" stroke-width="1"/>
<line x1="883.5" y1="537" x2="883.5" y2="540" stroke="#0c1846" stroke-width="1"/>
<line x1="883.5" y1="556" x2="883.5" y2="559" stroke="#0c1846" stroke-width="1"/>
<line x1="891.5" y1="537" x2="891.5" y2="539" stroke="#0c1846" stroke-width="1"/>
<line x1="891.5" y1="557" x2="891.5" y2="559" stroke="#0c1846" stroke-width="1"/>
<line x1="899.5" y1="537" x2="899.5" y2="539" stroke="#0c1846" stroke-width="1"/>
<line x1="899.5" y1="557" x2="899.5" y2="559" stroke="#0c1846" stroke-width="1"/>
<line x1="906.5" y1="537" x2="906.5" y2="539" stroke="#0c1846" stroke-width="1"/>
<line x1="906.5" y1="557" x2="906.5" y2="559" stroke="#0c1846" stroke-width="1"/>
<line x1="914.5" y1="537" x2="914.5" y2="540" stroke="#0c1846" stroke-width="1"/>
<line x1="914.5" y1="556" x2="914.5" y2="559" stroke="#0c1846" stroke-width="1"/>
<line x1="922.5" y1="537" x2="922.5" y2="539" stroke="#0c1846" stroke-width="1"/>
<line x1="922.5" y1="557" x2="922.5" y2="559" stroke="#0c1846" stroke-width="1"/>
<line x1="930.5" y1="537" x2="930.5" y2="539" stroke="#0c1846" stroke-width="1"/>
<line x1="930.5" y1="557" x2="930.5" y2="559" stroke="#0c1846" stroke-width="1"/>
<line x1="937.5" y1="537" x2="937.5" y2="539" stroke="#0c1846" stroke-width="1"/>
<line x1="937.5" y1="557" x2="937.5" y2="559" stroke="#0c1846" stroke-width="1"/>
<line x1="945.5" y1="537" x2="945.5" y2="539" stroke="#0c1846" stroke-width="1"/>
<line x1="945.5" y1="557" x2="945.5" y2="559" stroke="#0c1846" stroke-width="1"/>
<line x1="953.5" y1="537" x2="953.5" y2="540" stroke="#0c1846" stroke-width="1"/>
<line x1="953.5" y1="556" x2="953.5" y2="559" stroke="#0c1846" stroke-width="1"/>
<line x1="961.5" y1="537" x2="961.5" y2="539" stroke="#0c1846" stroke-width="1"/>
<line x1="961.5" y1="557" x2="961.5" y2="559" stroke="#0c1846" stroke-width="1"/>
<line x1="969.5" y1="537" x2="969.5" y2="539" stroke="#0c1846" stroke-width="1"/>
<line x1="969.5" y1="557" x2="969.5" y2="559" stroke="#0c1846" stroke-width="1"/>
<line x1="976.5" y1="537" x2="976.5" y2="539" stroke="#0c1846" stroke-width="1"/>
<line x1="976.5" y1="557" x2="976.5" y2="559" stroke="#0c1846" stroke-width="1"/>
<line x1="984.5" y1="537" x2="984.5" y2="539" stroke="#0c1846" stroke-width="1"/>
<line x1="984.5" y1="557" x2="984.5" y2="559" stroke="#0c1846" stroke-width="1"/>
<line x1="992.5" y1="537" x2="992.5" y2="540" stroke="#0c1846" stroke-width="1"/>
<line x1="992.5" y1="556" x2="992.5" y2="559" stroke="#0c1846" stroke-width="1"/>
<line x1="1000.5" y1="537" x2="1000.5" y2="539" stroke="#0c1846" stroke-width="1"/>
<line x1="1000.5" y1="557" x2="1000.5" y2="559" stroke="#0c1846" stroke-width="1"/>
<line x1="1007.5" y1="537" x2="1007.5" y2="539" stroke="#0c1846" stroke-width="1"/>
<line x1="1007.5" y1="557" x2="1007.5" y2="559" stroke="#0c1846" stroke-width="1"/>
<line x1="1015.5" y1="537" x2="1015.5" y2="539" stroke="#0c1846" stroke-width="1"/>
<line x1="1015.5" y1="557" x2="1015.5" y2="559" stroke="#0c1846" stroke-width="1"/>
<line x1="1023.5" y1="537" x2="1023.5" y2="539" stroke="#0c1846" stroke-width="1"/>
<line x1="1023.5" y1="557" x2="1023.5" y2="559" stroke="#0c1846" stroke-width="1"/>
<line x1="1031.5" y1="537" x2="1031.5" y2="540" stroke="#0c1846" stroke-width="1"/>
<line x1="1031.5" y1="556" x2="1031.5" y2="559" stroke="#0c1846" stroke-width="1"/>
<line x1="1038.5" y1="537" x2="1038.5" y2="539" stroke="#0c1846" stroke-width="1"/>
<line x1="1038.5" y1="557" x2="1038.5" y2="559" stroke="#0c1846" stroke-width="1"/>
<line x1="1046.5" y1="537" x2="1046.5" y2="539" stroke="#0c1846" stroke-width="1"/>
<line x1="1046.5" y1="557" x2="1046.5" y2="559" stroke="#0c1846" stroke-width="1"/>
<line x1="1054.5" y1="537" x2="1054.5" y2="539" stroke="#0c1846" stroke-width="1"/>
<line x1="1054.5" y1="557" x2="1054.5" y2="559" stroke="#0c1846" stroke-width="1"/>
<line x1="1062.5" y1="537" x2="1062.5" y2="540" stroke="#0c1846" stroke-width="1"/>
<line x1="1062.5" y1="556" x2="1062.5" y2="559" stroke="#0c1846" stroke-width="1"/>
<line x1="1069.5" y1="537" x2="1069.5" y2="540" stroke="#0c1846" stroke-width="1"/>
<line x1="1069.5" y1="556" x2="1069.5" y2="559" stroke="#0c1846" stroke-width="1"/>
<line x1="1077.5" y1="537" x2="1077.5" y2="539" stroke="#0c1846" stroke-width="1"/>
<line x1="1077.5" y1="557" x2="1077.5" y2="559" stroke="#0c1846" stroke-width="1"/>
<line x1="1085.5" y1="537" x2="1085.5" y2="539" stroke="#0c1846" stroke-width="1"/>
<line x1="1085.5" y1="557" x2="1085.5" y2="559" stroke="#0c1846" stroke-width="1"/>
<line x1="1093.5" y1="537" x2="1093.5" y2="539" stroke="#0c1846" stroke-width="1"/>
<line x1="1093.5" y1="557" x2="1093.5" y2="559" stroke="#0c1846" stroke-width="1"/>
<line x1="1100.5" y1="537" x2="1100.5" y2="540" stroke="#0c1846" stroke-width="1"/>
<line x1="1100.5" y1="556" x2="1100.5" y2="559" stroke="#0c1846" stroke-width="1"/>
<line x1="1108.5" y1="537" x2="1108.5" y2="539" stroke="#0c1846" stroke-width="1"/>
<line x1="1108.5" y1="557" x2="1108.5" y2="559" stroke="#0c1846" stroke-width="1"/>
<line x1="1116.5" y1="537" x2="1116.5" y2="539" stroke="#0c1846" stroke-width="1"/>
<line x1="1116.5" y1="557" x2="1116.5" y2="559" stroke="#0c1846" stroke-width="1"/>
<line x1="1124.5" y1="537" x2="1124.5" y2="539" stroke="#0c1846" stroke-width="1"/>
<line x1="1124.5" y1="557" x2="1124.5" y2="559" stroke="#0c1846" stroke-width="1"/>
<line x1="1132.5" y1="537" x2="1132.5" y2="539" stroke="#0c1846" stroke-width="1"/>
<line x1="1132.5" y1="557" x2="1132.5" y2="559" stroke="#0c1846" stroke-width="1"/>
<line x1="1139.5" y1="537" x2="1139.5" y2="540" stroke="#0c1846" stroke-width="1"/>
<line x1="1139.5" y1="556" x2="1139.5" y2="559" stroke="#0c1846" stroke-width="1"/>
<line x1="1147.5" y1="537" x2="1147.5" y2="539" stroke="#0c1846" stroke-width="1"/>
<line x1="1147.5" y1="557" x2="1147.5" y2="559" stroke="#0c1846" stroke-width="1"/>
<line x1="1155.5" y1="537" x2="1155.5" y2="539" stroke="#0c1846" stroke-width="1"/>
<line x1="1155.5" y1="557" x2="1155.5" y2="559" stroke="#0c1846" stroke-width="1"/>
<line x1="1163.5" y1="537" x2="1163.5" y2="539" stroke="#0c1846" stroke-width="1"/>
<line x1="1163.5" y1="557" x2="1163.5" y2="559" stroke="#0c1846" stroke-width="1"/>
<line x1="1170.5" y1="537" x2="1170.5" y2="539" stroke="#0c1846" stroke-width="1"/>
<line x1="1170.5" y1="557" x2="1170.5" y2="559" stroke="#0c1846" stroke-width="1"/>
<line x1="1178.5" y1="537" x2="1178.5" y2="540" stroke="#0c1846" stroke-width="1"/>
<line x1="1178.5" y1="556" x2="1178.5" y2="559" stroke="#0c1846" stroke-width="1"/>
<line x1="1186.5" y1="537" x2="1186.5" y2="539" stroke="#0c1846" stroke-width="1"/>
<line x1="1186.5" y1="557" x2="1186.5" y2="559" stroke="#0c1846" stroke-width="1"/>
<line x1="11" y1="537.3" x2="1188" y2="537.3" stroke="#0c1846" stroke-width="1.4"/>
<line x1="11" y1="558.5" x2="1188" y2="558.5" stroke="#0c1846" stroke-width="1.2"/>
<line x1="14.5" y1="936" x2="14.5" y2="938" stroke="#0c1846" stroke-width="1"/>
<line x1="22.5" y1="936" x2="22.5" y2="939" stroke="#0c1846" stroke-width="1"/>
<line x1="30.5" y1="936" x2="30.5" y2="938" stroke="#0c1846" stroke-width="1"/>
<line x1="37.5" y1="936" x2="37.5" y2="938" stroke="#0c1846" stroke-width="1"/>
<line x1="45.5" y1="936" x2="45.5" y2="938" stroke="#0c1846" stroke-width="1"/>
<line x1="53.5" y1="936" x2="53.5" y2="939" stroke="#0c1846" stroke-width="1"/>
<line x1="61.5" y1="936" x2="61.5" y2="938" stroke="#0c1846" stroke-width="1"/>
<line x1="68.5" y1="936" x2="68.5" y2="939" stroke="#0c1846" stroke-width="1"/>
<line x1="76.5" y1="936" x2="76.5" y2="938" stroke="#0c1846" stroke-width="1"/>
<line x1="84.5" y1="936" x2="84.5" y2="938" stroke="#0c1846" stroke-width="1"/>
<line x1="92.5" y1="936" x2="92.5" y2="939" stroke="#0c1846" stroke-width="1"/>
<line x1="99.5" y1="936" x2="99.5" y2="938" stroke="#0c1846" stroke-width="1"/>
<line x1="107.5" y1="936" x2="107.5" y2="938" stroke="#0c1846" stroke-width="1"/>
<line x1="115.5" y1="936" x2="115.5" y2="938" stroke="#0c1846" stroke-width="1"/>
<line x1="123.5" y1="936" x2="123.5" y2="938" stroke="#0c1846" stroke-width="1"/>
<line x1="130.5" y1="936" x2="130.5" y2="939" stroke="#0c1846" stroke-width="1"/>
<line x1="138.5" y1="936" x2="138.5" y2="938" stroke="#0c1846" stroke-width="1"/>
<line x1="146.5" y1="936" x2="146.5" y2="938" stroke="#0c1846" stroke-width="1"/>
<line x1="154.5" y1="936" x2="154.5" y2="938" stroke="#0c1846" stroke-width="1"/>
<line x1="161.5" y1="936" x2="161.5" y2="938" stroke="#0c1846" stroke-width="1"/>
<line x1="169.5" y1="936" x2="169.5" y2="939" stroke="#0c1846" stroke-width="1"/>
<line x1="177.5" y1="936" x2="177.5" y2="938" stroke="#0c1846" stroke-width="1"/>
<line x1="185.5" y1="936" x2="185.5" y2="938" stroke="#0c1846" stroke-width="1"/>
<line x1="192.5" y1="936" x2="192.5" y2="938" stroke="#0c1846" stroke-width="1"/>
<line x1="200.5" y1="936" x2="200.5" y2="938" stroke="#0c1846" stroke-width="1"/>
<line x1="208.5" y1="936" x2="208.5" y2="939" stroke="#0c1846" stroke-width="1"/>
<line x1="216.5" y1="936" x2="216.5" y2="938" stroke="#0c1846" stroke-width="1"/>
<line x1="224.5" y1="936" x2="224.5" y2="938" stroke="#0c1846" stroke-width="1"/>
<line x1="231.5" y1="936" x2="231.5" y2="938" stroke="#0c1846" stroke-width="1"/>
<line x1="239.5" y1="936" x2="239.5" y2="938" stroke="#0c1846" stroke-width="1"/>
<line x1="247.5" y1="936" x2="247.5" y2="939" stroke="#0c1846" stroke-width="1"/>
<line x1="255.5" y1="936" x2="255.5" y2="938" stroke="#0c1846" stroke-width="1"/>
<line x1="262.5" y1="936" x2="262.5" y2="938" stroke="#0c1846" stroke-width="1"/>
<line x1="270.5" y1="936" x2="270.5" y2="938" stroke="#0c1846" stroke-width="1"/>
<line x1="278.5" y1="936" x2="278.5" y2="939" stroke="#0c1846" stroke-width="1"/>
<line x1="286.5" y1="936" x2="286.5" y2="938" stroke="#0c1846" stroke-width="1"/>
<line x1="293.5" y1="936" x2="293.5" y2="938" stroke="#0c1846" stroke-width="1"/>
<line x1="301.5" y1="936" x2="301.5" y2="938" stroke="#0c1846" stroke-width="1"/>
<line x1="309.5" y1="936" x2="309.5" y2="938" stroke="#0c1846" stroke-width="1"/>
<line x1="317.5" y1="936" x2="317.5" y2="939" stroke="#0c1846" stroke-width="1"/>
<line x1="324.5" y1="936" x2="324.5" y2="938" stroke="#0c1846" stroke-width="1"/>
<line x1="332.5" y1="936" x2="332.5" y2="938" stroke="#0c1846" stroke-width="1"/>
<line x1="340.5" y1="936" x2="340.5" y2="938" stroke="#0c1846" stroke-width="1"/>
<line x1="348.5" y1="936" x2="348.5" y2="938" stroke="#0c1846" stroke-width="1"/>
<line x1="355.5" y1="936" x2="355.5" y2="939" stroke="#0c1846" stroke-width="1"/>
<line x1="363.5" y1="936" x2="363.5" y2="938" stroke="#0c1846" stroke-width="1"/>
<line x1="371.5" y1="936" x2="371.5" y2="938" stroke="#0c1846" stroke-width="1"/>
<line x1="379.5" y1="936" x2="379.5" y2="938" stroke="#0c1846" stroke-width="1"/>
<line x1="387.5" y1="936" x2="387.5" y2="938" stroke="#0c1846" stroke-width="1"/>
<line x1="394.5" y1="936" x2="394.5" y2="939" stroke="#0c1846" stroke-width="1"/>
<line x1="402.5" y1="936" x2="402.5" y2="938" stroke="#0c1846" stroke-width="1"/>
<line x1="410.5" y1="936" x2="410.5" y2="938" stroke="#0c1846" stroke-width="1"/>
<line x1="418.5" y1="936" x2="418.5" y2="938" stroke="#0c1846" stroke-width="1"/>
<line x1="425.5" y1="936" x2="425.5" y2="938" stroke="#0c1846" stroke-width="1"/>
<line x1="433.5" y1="936" x2="433.5" y2="939" stroke="#0c1846" stroke-width="1"/>
<line x1="441.5" y1="936" x2="441.5" y2="938" stroke="#0c1846" stroke-width="1"/>
<line x1="449.5" y1="936" x2="449.5" y2="938" stroke="#0c1846" stroke-width="1"/>
<line x1="456.5" y1="936" x2="456.5" y2="938" stroke="#0c1846" stroke-width="1"/>
<line x1="464.5" y1="936" x2="464.5" y2="938" stroke="#0c1846" stroke-width="1"/>
<line x1="472.5" y1="936" x2="472.5" y2="939" stroke="#0c1846" stroke-width="1"/>
<line x1="480.5" y1="936" x2="480.5" y2="938" stroke="#0c1846" stroke-width="1"/>
<line x1="487.5" y1="936" x2="487.5" y2="938" stroke="#0c1846" stroke-width="1"/>
<line x1="495.5" y1="936" x2="495.5" y2="938" stroke="#0c1846" stroke-width="1"/>
<line x1="503.5" y1="936" x2="503.5" y2="938" stroke="#0c1846" stroke-width="1"/>
<line x1="511.5" y1="936" x2="511.5" y2="939" stroke="#0c1846" stroke-width="1"/>
<line x1="518.5" y1="936" x2="518.5" y2="938" stroke="#0c1846" stroke-width="1"/>
<line x1="526.5" y1="936" x2="526.5" y2="938" stroke="#0c1846" stroke-width="1"/>
<line x1="534.5" y1="936" x2="534.5" y2="938" stroke="#0c1846" stroke-width="1"/>
<line x1="542.5" y1="936" x2="542.5" y2="938" stroke="#0c1846" stroke-width="1"/>
<line x1="549.5" y1="936" x2="549.5" y2="939" stroke="#0c1846" stroke-width="1"/>
<line x1="557.5" y1="936" x2="557.5" y2="938" stroke="#0c1846" stroke-width="1"/>
<line x1="565.5" y1="936" x2="565.5" y2="939" stroke="#0c1846" stroke-width="1"/>
<line x1="573.5" y1="936" x2="573.5" y2="938" stroke="#0c1846" stroke-width="1"/>
<line x1="581.5" y1="936" x2="581.5" y2="939" stroke="#0c1846" stroke-width="1"/>
<line x1="588.5" y1="936" x2="588.5" y2="938" stroke="#0c1846" stroke-width="1"/>
<line x1="596.5" y1="936" x2="596.5" y2="938" stroke="#0c1846" stroke-width="1"/>
<line x1="604.5" y1="936" x2="604.5" y2="938" stroke="#0c1846" stroke-width="1"/>
<line x1="612.5" y1="936" x2="612.5" y2="938" stroke="#0c1846" stroke-width="1"/>
<line x1="619.5" y1="936" x2="619.5" y2="939" stroke="#0c1846" stroke-width="1"/>
<line x1="627.5" y1="936" x2="627.5" y2="938" stroke="#0c1846" stroke-width="1"/>
<line x1="635.5" y1="936" x2="635.5" y2="938" stroke="#0c1846" stroke-width="1"/>
<line x1="643.5" y1="936" x2="643.5" y2="938" stroke="#0c1846" stroke-width="1"/>
<line x1="650.5" y1="936" x2="650.5" y2="938" stroke="#0c1846" stroke-width="1"/>
<line x1="658.5" y1="936" x2="658.5" y2="939" stroke="#0c1846" stroke-width="1"/>
<line x1="666.5" y1="936" x2="666.5" y2="938" stroke="#0c1846" stroke-width="1"/>
<line x1="674.5" y1="936" x2="674.5" y2="938" stroke="#0c1846" stroke-width="1"/>
<line x1="681.5" y1="936" x2="681.5" y2="938" stroke="#0c1846" stroke-width="1"/>
<line x1="689.5" y1="936" x2="689.5" y2="939" stroke="#0c1846" stroke-width="1"/>
<line x1="697.5" y1="936" x2="697.5" y2="938" stroke="#0c1846" stroke-width="1"/>
<line x1="705.5" y1="936" x2="705.5" y2="938" stroke="#0c1846" stroke-width="1"/>
<line x1="712.5" y1="936" x2="712.5" y2="938" stroke="#0c1846" stroke-width="1"/>
<line x1="720.5" y1="936" x2="720.5" y2="938" stroke="#0c1846" stroke-width="1"/>
<line x1="728.5" y1="936" x2="728.5" y2="939" stroke="#0c1846" stroke-width="1"/>
<line x1="736.5" y1="936" x2="736.5" y2="938" stroke="#0c1846" stroke-width="1"/>
<line x1="743.5" y1="936" x2="743.5" y2="938" stroke="#0c1846" stroke-width="1"/>
<line x1="751.5" y1="936" x2="751.5" y2="938" stroke="#0c1846" stroke-width="1"/>
<line x1="759.5" y1="936" x2="759.5" y2="939" stroke="#0c1846" stroke-width="1"/>
<line x1="767.5" y1="936" x2="767.5" y2="938" stroke="#0c1846" stroke-width="1"/>
<line x1="775.5" y1="936" x2="775.5" y2="938" stroke="#0c1846" stroke-width="1"/>
<line x1="782.5" y1="936" x2="782.5" y2="938" stroke="#0c1846" stroke-width="1"/>
<line x1="790.5" y1="936" x2="790.5" y2="938" stroke="#0c1846" stroke-width="1"/>
<line x1="798.5" y1="936" x2="798.5" y2="939" stroke="#0c1846" stroke-width="1"/>
<line x1="806.5" y1="936" x2="806.5" y2="938" stroke="#0c1846" stroke-width="1"/>
<line x1="813.5" y1="936" x2="813.5" y2="938" stroke="#0c1846" stroke-width="1"/>
<line x1="821.5" y1="936" x2="821.5" y2="938" stroke="#0c1846" stroke-width="1"/>
<line x1="829.5" y1="936" x2="829.5" y2="938" stroke="#0c1846" stroke-width="1"/>
<line x1="837.5" y1="936" x2="837.5" y2="939" stroke="#0c1846" stroke-width="1"/>
<line x1="844.5" y1="936" x2="844.5" y2="938" stroke="#0c1846" stroke-width="1"/>
<line x1="852.5" y1="936" x2="852.5" y2="938" stroke="#0c1846" stroke-width="1"/>
<line x1="860.5" y1="936" x2="860.5" y2="938" stroke="#0c1846" stroke-width="1"/>
<line x1="868.5" y1="936" x2="868.5" y2="938" stroke="#0c1846" stroke-width="1"/>
<line x1="875.5" y1="936" x2="875.5" y2="939" stroke="#0c1846" stroke-width="1"/>
<line x1="883.5" y1="936" x2="883.5" y2="939" stroke="#0c1846" stroke-width="1"/>
<line x1="891.5" y1="936" x2="891.5" y2="938" stroke="#0c1846" stroke-width="1"/>
<line x1="899.5" y1="936" x2="899.5" y2="938" stroke="#0c1846" stroke-width="1"/>
<line x1="906.5" y1="936" x2="906.5" y2="938" stroke="#0c1846" stroke-width="1"/>
<line x1="914.5" y1="936" x2="914.5" y2="939" stroke="#0c1846" stroke-width="1"/>
<line x1="922.5" y1="936" x2="922.5" y2="938" stroke="#0c1846" stroke-width="1"/>
<line x1="930.5" y1="936" x2="930.5" y2="938" stroke="#0c1846" stroke-width="1"/>
<line x1="937.5" y1="936" x2="937.5" y2="938" stroke="#0c1846" stroke-width="1"/>
<line x1="945.5" y1="936" x2="945.5" y2="938" stroke="#0c1846" stroke-width="1"/>
<line x1="953.5" y1="936" x2="953.5" y2="939" stroke="#0c1846" stroke-width="1"/>
<line x1="961.5" y1="936" x2="961.5" y2="938" stroke="#0c1846" stroke-width="1"/>
<line x1="969.5" y1="936" x2="969.5" y2="938" stroke="#0c1846" stroke-width="1"/>
<line x1="976.5" y1="936" x2="976.5" y2="938" stroke="#0c1846" stroke-width="1"/>
<line x1="984.5" y1="936" x2="984.5" y2="938" stroke="#0c1846" stroke-width="1"/>
<line x1="992.5" y1="936" x2="992.5" y2="939" stroke="#0c1846" stroke-width="1"/>
<line x1="1000.5" y1="936" x2="1000.5" y2="938" stroke="#0c1846" stroke-width="1"/>
<line x1="1007.5" y1="936" x2="1007.5" y2="938" stroke="#0c1846" stroke-width="1"/>
<line x1="1015.5" y1="936" x2="1015.5" y2="938" stroke="#0c1846" stroke-width="1"/>
<line x1="1023.5" y1="936" x2="1023.5" y2="938" stroke="#0c1846" stroke-width="1"/>
<line x1="1031.5" y1="936" x2="1031.5" y2="939" stroke="#0c1846" stroke-width="1"/>
<line x1="1038.5" y1="936" x2="1038.5" y2="938" stroke="#0c1846" stroke-width="1"/>
<line x1="1046.5" y1="936" x2="1046.5" y2="938" stroke="#0c1846" stroke-width="1"/>
<line x1="1054.5" y1="936" x2="1054.5" y2="938" stroke="#0c1846" stroke-width="1"/>
<line x1="1062.5" y1="936" x2="1062.5" y2="939" stroke="#0c1846" stroke-width="1"/>
<line x1="1069.5" y1="936" x2="1069.5" y2="939" stroke="#0c1846" stroke-width="1"/>
<line x1="1077.5" y1="936" x2="1077.5" y2="938" stroke="#0c1846" stroke-width="1"/>
<line x1="1085.5" y1="936" x2="1085.5" y2="938" stroke="#0c1846" stroke-width="1"/>
<line x1="1093.5" y1="936" x2="1093.5" y2="938" stroke="#0c1846" stroke-width="1"/>
<line x1="1100.5" y1="936" x2="1100.5" y2="939" stroke="#0c1846" stroke-width="1"/>
<line x1="1108.5" y1="936" x2="1108.5" y2="938" stroke="#0c1846" stroke-width="1"/>
<line x1="1116.5" y1="936" x2="1116.5" y2="938" stroke="#0c1846" stroke-width="1"/>
<line x1="1124.5" y1="936" x2="1124.5" y2="938" stroke="#0c1846" stroke-width="1"/>
<line x1="1132.5" y1="936" x2="1132.5" y2="938" stroke="#0c1846" stroke-width="1"/>
<line x1="1139.5" y1="936" x2="1139.5" y2="939" stroke="#0c1846" stroke-width="1"/>
<line x1="1147.5" y1="936" x2="1147.5" y2="938" stroke="#0c1846" stroke-width="1"/>
<line x1="1155.5" y1="936" x2="1155.5" y2="938" stroke="#0c1846" stroke-width="1"/>
<line x1="1163.5" y1="936" x2="1163.5" y2="938" stroke="#0c1846" stroke-width="1"/>
<line x1="1170.5" y1="936" x2="1170.5" y2="938" stroke="#0c1846" stroke-width="1"/>
<line x1="1178.5" y1="936" x2="1178.5" y2="939" stroke="#0c1846" stroke-width="1"/>
<line x1="1186.5" y1="936" x2="1186.5" y2="938" stroke="#0c1846" stroke-width="1"/>
<line x1="11" y1="936.3" x2="1188" y2="936.3" stroke="#0c1846" stroke-width="1.4"/>
<text x="20.7" y="552.6" font-size="14" fill="#fff" font-weight="normal" text-anchor="middle" textLength="17.4" lengthAdjust="spacingAndGlyphs">21</text>
<text x="69" y="552.6" font-size="14" fill="#fff" font-weight="bold" text-anchor="middle" textLength="30.3" lengthAdjust="spacingAndGlyphs">Mar</text>
<text x="92.7" y="552.6" font-size="14" fill="#fff" font-weight="normal" text-anchor="middle" textLength="9" lengthAdjust="spacingAndGlyphs">6</text>
<text x="130.8" y="552.6" font-size="14" fill="#fff" font-weight="normal" text-anchor="middle" textLength="17.4" lengthAdjust="spacingAndGlyphs">13</text>
<text x="167.9" y="552.6" font-size="14" fill="#fff" font-weight="normal" text-anchor="middle" textLength="17.4" lengthAdjust="spacingAndGlyphs">20</text>
<text x="206" y="552.6" font-size="14" fill="#fff" font-weight="normal" text-anchor="middle" textLength="17.4" lengthAdjust="spacingAndGlyphs">27</text>
<text x="247.7" y="552.6" font-size="14" fill="#fff" font-weight="bold" text-anchor="middle" textLength="28.3" lengthAdjust="spacingAndGlyphs">Apr</text>
<text x="277.8" y="552.6" font-size="14" fill="#fff" font-weight="normal" text-anchor="middle" textLength="17.4" lengthAdjust="spacingAndGlyphs">10</text>
<text x="316.4" y="552.6" font-size="14" fill="#fff" font-weight="normal" text-anchor="middle" textLength="17.4" lengthAdjust="spacingAndGlyphs">17</text>
<text x="354" y="552.6" font-size="14" fill="#fff" font-weight="normal" text-anchor="middle" textLength="17.4" lengthAdjust="spacingAndGlyphs">24</text>
<text x="394.2" y="552.6" font-size="14" fill="#fff" font-weight="bold" text-anchor="middle" textLength="34" lengthAdjust="spacingAndGlyphs">May</text>
<text x="433.1" y="552.6" font-size="14" fill="#fff" font-weight="normal" text-anchor="middle" textLength="9" lengthAdjust="spacingAndGlyphs">8</text>
<text x="471.27" y="552.6" font-size="14" fill="#fff" font-weight="normal" text-anchor="middle" textLength="17.4" lengthAdjust="spacingAndGlyphs">15</text>
<text x="510.08" y="552.6" font-size="14" fill="#fff" font-weight="normal" text-anchor="middle" textLength="17.4" lengthAdjust="spacingAndGlyphs">22</text>
<text x="566.8" y="552.6" font-size="14" fill="#fff" font-weight="bold" text-anchor="middle" textLength="29.5" lengthAdjust="spacingAndGlyphs">Jun</text>
<text x="618.3" y="552.6" font-size="14" fill="#fff" font-weight="normal" text-anchor="middle" textLength="17.4" lengthAdjust="spacingAndGlyphs">12</text>
<text x="657.5" y="552.6" font-size="14" fill="#fff" font-weight="normal" text-anchor="middle" textLength="17.4" lengthAdjust="spacingAndGlyphs">20</text>
<text x="689.5" y="552.6" font-size="14" fill="#fff" font-weight="normal" text-anchor="middle" textLength="17.4" lengthAdjust="spacingAndGlyphs">26</text>
<text x="728.4" y="552.6" font-size="14" fill="#fff" font-weight="bold" text-anchor="middle" textLength="23" lengthAdjust="spacingAndGlyphs">Jul</text>
<text x="758.8" y="552.6" font-size="14" fill="#fff" font-weight="normal" text-anchor="middle" textLength="17.4" lengthAdjust="spacingAndGlyphs">10</text>
<text x="797.21" y="552.6" font-size="14" fill="#fff" font-weight="normal" text-anchor="middle" textLength="17.4" lengthAdjust="spacingAndGlyphs">17</text>
<text x="836.01" y="552.6" font-size="14" fill="#fff" font-weight="normal" text-anchor="middle" textLength="17.4" lengthAdjust="spacingAndGlyphs">24</text>
<text x="885.4" y="552.6" font-size="14" fill="#fff" font-weight="bold" text-anchor="middle" textLength="33" lengthAdjust="spacingAndGlyphs">Aug</text>
<text x="913.4" y="552.6" font-size="14" fill="#fff" font-weight="normal" text-anchor="middle" textLength="9" lengthAdjust="spacingAndGlyphs">7</text>
<text x="953.3" y="552.6" font-size="14" fill="#fff" font-weight="normal" text-anchor="middle" textLength="17.4" lengthAdjust="spacingAndGlyphs">14</text>
<text x="990.1" y="552.6" font-size="14" fill="#fff" font-weight="normal" text-anchor="middle" textLength="17.4" lengthAdjust="spacingAndGlyphs">21</text>
<text x="1029.9" y="552.6" font-size="14" fill="#fff" font-weight="normal" text-anchor="middle" textLength="17.4" lengthAdjust="spacingAndGlyphs">28</text>
<text x="1063.2" y="552.6" font-size="14" fill="#fff" font-weight="bold" text-anchor="middle" textLength="31.9" lengthAdjust="spacingAndGlyphs">Sep</text>
<text x="1098.7" y="552.6" font-size="14" fill="#fff" font-weight="normal" text-anchor="middle" textLength="17.4" lengthAdjust="spacingAndGlyphs">11</text>
<text x="1138.2" y="552.6" font-size="14" fill="#fff" font-weight="normal" text-anchor="middle" textLength="17.4" lengthAdjust="spacingAndGlyphs">18</text>
<text x="1176.7" y="552.6" font-size="14" fill="#fff" font-weight="normal" text-anchor="middle" textLength="17.4" lengthAdjust="spacingAndGlyphs">25</text>
<text x="20.7" y="950.4" font-size="14" fill="#fff" font-weight="normal" text-anchor="middle" textLength="17.4" lengthAdjust="spacingAndGlyphs">21</text>
<text x="69" y="950.4" font-size="14" fill="#fff" font-weight="bold" text-anchor="middle" textLength="30.3" lengthAdjust="spacingAndGlyphs">Mar</text>
<text x="92.7" y="950.4" font-size="14" fill="#fff" font-weight="normal" text-anchor="middle" textLength="9" lengthAdjust="spacingAndGlyphs">6</text>
<text x="130.8" y="950.4" font-size="14" fill="#fff" font-weight="normal" text-anchor="middle" textLength="17.4" lengthAdjust="spacingAndGlyphs">13</text>
<text x="167.9" y="950.4" font-size="14" fill="#fff" font-weight="normal" text-anchor="middle" textLength="17.4" lengthAdjust="spacingAndGlyphs">20</text>
<text x="206" y="950.4" font-size="14" fill="#fff" font-weight="normal" text-anchor="middle" textLength="17.4" lengthAdjust="spacingAndGlyphs">27</text>
<text x="247.7" y="950.4" font-size="14" fill="#fff" font-weight="bold" text-anchor="middle" textLength="28.3" lengthAdjust="spacingAndGlyphs">Apr</text>
<text x="277.8" y="950.4" font-size="14" fill="#fff" font-weight="normal" text-anchor="middle" textLength="17.4" lengthAdjust="spacingAndGlyphs">10</text>
<text x="316.4" y="950.4" font-size="14" fill="#fff" font-weight="normal" text-anchor="middle" textLength="17.4" lengthAdjust="spacingAndGlyphs">17</text>
<text x="354" y="950.4" font-size="14" fill="#fff" font-weight="normal" text-anchor="middle" textLength="17.4" lengthAdjust="spacingAndGlyphs">24</text>
<text x="394.2" y="950.4" font-size="14" fill="#fff" font-weight="bold" text-anchor="middle" textLength="34" lengthAdjust="spacingAndGlyphs">May</text>
<text x="433.1" y="950.4" font-size="14" fill="#fff" font-weight="normal" text-anchor="middle" textLength="9" lengthAdjust="spacingAndGlyphs">8</text>
<text x="471.27" y="950.4" font-size="14" fill="#fff" font-weight="normal" text-anchor="middle" textLength="17.4" lengthAdjust="spacingAndGlyphs">15</text>
<text x="510.08" y="950.4" font-size="14" fill="#fff" font-weight="normal" text-anchor="middle" textLength="17.4" lengthAdjust="spacingAndGlyphs">22</text>
<text x="566.8" y="950.4" font-size="14" fill="#fff" font-weight="bold" text-anchor="middle" textLength="29.5" lengthAdjust="spacingAndGlyphs">Jun</text>
<text x="618.3" y="950.4" font-size="14" fill="#fff" font-weight="normal" text-anchor="middle" textLength="17.4" lengthAdjust="spacingAndGlyphs">12</text>
<text x="657.5" y="950.4" font-size="14" fill="#fff" font-weight="normal" text-anchor="middle" textLength="17.4" lengthAdjust="spacingAndGlyphs">20</text>
<text x="689.5" y="950.4" font-size="14" fill="#fff" font-weight="normal" text-anchor="middle" textLength="17.4" lengthAdjust="spacingAndGlyphs">26</text>
<text x="728.4" y="950.4" font-size="14" fill="#fff" font-weight="bold" text-anchor="middle" textLength="23" lengthAdjust="spacingAndGlyphs">Jul</text>
<text x="758.8" y="950.4" font-size="14" fill="#fff" font-weight="normal" text-anchor="middle" textLength="17.4" lengthAdjust="spacingAndGlyphs">10</text>
<text x="797.21" y="950.4" font-size="14" fill="#fff" font-weight="normal" text-anchor="middle" textLength="17.4" lengthAdjust="spacingAndGlyphs">17</text>
<text x="836.01" y="950.4" font-size="14" fill="#fff" font-weight="normal" text-anchor="middle" textLength="17.4" lengthAdjust="spacingAndGlyphs">24</text>
<text x="885.4" y="950.4" font-size="14" fill="#fff" font-weight="bold" text-anchor="middle" textLength="33" lengthAdjust="spacingAndGlyphs">Aug</text>
<text x="913.4" y="950.4" font-size="14" fill="#fff" font-weight="normal" text-anchor="middle" textLength="9" lengthAdjust="spacingAndGlyphs">7</text>
<text x="953.3" y="950.4" font-size="14" fill="#fff" font-weight="normal" text-anchor="middle" textLength="17.4" lengthAdjust="spacingAndGlyphs">14</text>
<text x="990.1" y="950.4" font-size="14" fill="#fff" font-weight="normal" text-anchor="middle" textLength="17.4" lengthAdjust="spacingAndGlyphs">21</text>
<text x="1029.9" y="950.4" font-size="14" fill="#fff" font-weight="normal" text-anchor="middle" textLength="17.4" lengthAdjust="spacingAndGlyphs">28</text>
<text x="1063.2" y="950.4" font-size="14" fill="#fff" font-weight="bold" text-anchor="middle" textLength="31.9" lengthAdjust="spacingAndGlyphs">Sep</text>
<text x="1098.7" y="950.4" font-size="14" fill="#fff" font-weight="normal" text-anchor="middle" textLength="17.4" lengthAdjust="spacingAndGlyphs">11</text>
<text x="1138.2" y="950.4" font-size="14" fill="#fff" font-weight="normal" text-anchor="middle" textLength="17.4" lengthAdjust="spacingAndGlyphs">18</text>
<text x="1176.7" y="950.4" font-size="14" fill="#fff" font-weight="normal" text-anchor="middle" textLength="17.4" lengthAdjust="spacingAndGlyphs">25</text>
<line x1="1188" y1="72.7" x2="1192" y2="72.7" stroke="#0c1846" stroke-width="1.2"/>
<text x="1193.6" y="77" font-size="15" fill="#fff" font-weight="normal" text-anchor="start" letter-spacing="1.0">90</text>
<line x1="1188" y1="93.75" x2="1192" y2="93.75" stroke="#0c1846" stroke-width="1.2"/>
<text x="1193.6" y="98.05" font-size="15" fill="#fff" font-weight="normal" text-anchor="start" letter-spacing="1.0">70</text>
<line x1="1188" y1="114.8" x2="1192" y2="114.8" stroke="#0c1846" stroke-width="1.2"/>
<text x="1193.6" y="119.1" font-size="15" fill="#fff" font-weight="normal" text-anchor="start" letter-spacing="1.0">50</text>
<line x1="1188" y1="135.85" x2="1192" y2="135.85" stroke="#0c1846" stroke-width="1.2"/>
<text x="1193.6" y="140.15" font-size="15" fill="#fff" font-weight="normal" text-anchor="start" letter-spacing="1.0">30</text>
<line x1="1188" y1="156.9" x2="1192" y2="156.9" stroke="#0c1846" stroke-width="1.2"/>
<text x="1193.6" y="161.2" font-size="15" fill="#fff" font-weight="normal" text-anchor="start" letter-spacing="1.0">10</text>
<line x1="1188" y1="523.8" x2="1192" y2="523.8" stroke="#0c1846" stroke-width="1.2"/>
<text x="1193.6" y="528.1" font-size="15" fill="#fff" font-weight="normal" text-anchor="start" letter-spacing="1.0">20.0</text>
<line x1="1188" y1="497.7" x2="1192" y2="497.7" stroke="#0c1846" stroke-width="1.2"/>
<text x="1193.6" y="502" font-size="15" fill="#fff" font-weight="normal" text-anchor="start" letter-spacing="1.0">20.5</text>
<line x1="1188" y1="471.6" x2="1192" y2="471.6" stroke="#0c1846" stroke-width="1.2"/>
<text x="1193.6" y="475.9" font-size="15" fill="#fff" font-weight="normal" text-anchor="start" letter-spacing="1.0">21.0</text>
<line x1="1188" y1="445.5" x2="1192" y2="445.5" stroke="#0c1846" stroke-width="1.2"/>
<text x="1193.6" y="449.8" font-size="15" fill="#fff" font-weight="normal" text-anchor="start" letter-spacing="1.0">21.5</text>
<line x1="1188" y1="419.4" x2="1192" y2="419.4" stroke="#0c1846" stroke-width="1.2"/>
<text x="1193.6" y="423.7" font-size="15" fill="#fff" font-weight="normal" text-anchor="start" letter-spacing="1.0">22.0</text>
<line x1="1188" y1="393.3" x2="1192" y2="393.3" stroke="#0c1846" stroke-width="1.2"/>
<text x="1193.6" y="397.6" font-size="15" fill="#fff" font-weight="normal" text-anchor="start" letter-spacing="1.0">22.5</text>
<line x1="1188" y1="367.2" x2="1192" y2="367.2" stroke="#0c1846" stroke-width="1.2"/>
<text x="1193.6" y="371.5" font-size="15" fill="#fff" font-weight="normal" text-anchor="start" letter-spacing="1.0">23.0</text>
<line x1="1188" y1="341.1" x2="1192" y2="341.1" stroke="#0c1846" stroke-width="1.2"/>
<text x="1193.6" y="345.4" font-size="15" fill="#fff" font-weight="normal" text-anchor="start" letter-spacing="1.0">23.5</text>
<line x1="1188" y1="315" x2="1192" y2="315" stroke="#0c1846" stroke-width="1.2"/>
<text x="1193.6" y="319.3" font-size="15" fill="#fff" font-weight="normal" text-anchor="start" letter-spacing="1.0">24.0</text>
<line x1="1188" y1="288.9" x2="1192" y2="288.9" stroke="#0c1846" stroke-width="1.2"/>
<text x="1193.6" y="293.2" font-size="15" fill="#fff" font-weight="normal" text-anchor="start" letter-spacing="1.0">24.5</text>
<line x1="1188" y1="262.8" x2="1192" y2="262.8" stroke="#0c1846" stroke-width="1.2"/>
<text x="1193.6" y="267.1" font-size="15" fill="#fff" font-weight="normal" text-anchor="start" letter-spacing="1.0">25.0</text>
<line x1="1188" y1="236.7" x2="1192" y2="236.7" stroke="#0c1846" stroke-width="1.2"/>
<text x="1193.6" y="241" font-size="15" fill="#fff" font-weight="normal" text-anchor="start" letter-spacing="1.0">25.5</text>
<line x1="1188" y1="210.6" x2="1192" y2="210.6" stroke="#0c1846" stroke-width="1.2"/>
<text x="1193.6" y="214.9" font-size="15" fill="#fff" font-weight="normal" text-anchor="start" letter-spacing="1.0">26.0</text>
<line x1="1188" y1="184.5" x2="1192" y2="184.5" stroke="#0c1846" stroke-width="1.2"/>
<text x="1193.6" y="188.8" font-size="15" fill="#fff" font-weight="normal" text-anchor="start" letter-spacing="1.0">26.5</text>
<line x1="1188" y1="564.2" x2="1192" y2="564.2" stroke="#0c1846" stroke-width="1.2"/>
<text x="1193.6" y="568.5" font-size="15" fill="#fff" font-weight="normal" text-anchor="start" letter-spacing="1.0">12.5M</text>
<line x1="1188" y1="588.3" x2="1192" y2="588.3" stroke="#0c1846" stroke-width="1.2"/>
<text x="1193.6" y="592.6" font-size="15" fill="#fff" font-weight="normal" text-anchor="start" letter-spacing="1.0">10.0M</text>
<line x1="1188" y1="612.4" x2="1192" y2="612.4" stroke="#0c1846" stroke-width="1.2"/>
<text x="1193.6" y="616.7" font-size="15" fill="#fff" font-weight="normal" text-anchor="start" letter-spacing="1.0">7.5M</text>
<line x1="1188" y1="636.5" x2="1192" y2="636.5" stroke="#0c1846" stroke-width="1.2"/>
<text x="1193.6" y="640.8" font-size="15" fill="#fff" font-weight="normal" text-anchor="start" letter-spacing="1.0">5.0M</text>
<line x1="1188" y1="660.6" x2="1192" y2="660.6" stroke="#0c1846" stroke-width="1.2"/>
<text x="1193.6" y="664.9" font-size="15" fill="#fff" font-weight="normal" text-anchor="start" letter-spacing="1.0">2.5M</text>
<line x1="1188" y1="690.4" x2="1192" y2="690.4" stroke="#0c1846" stroke-width="1.2"/>
<text x="1193.6" y="694.7" font-size="15" fill="#fff" font-weight="normal" text-anchor="start" letter-spacing="1.0">1.0</text>
<line x1="1188" y1="723.8" x2="1192" y2="723.8" stroke="#0c1846" stroke-width="1.2"/>
<text x="1193.6" y="728.1" font-size="15" fill="#fff" font-weight="normal" text-anchor="start" letter-spacing="1.0">0.5</text>
<line x1="1188" y1="757.2" x2="1192" y2="757.2" stroke="#0c1846" stroke-width="1.2"/>
<text x="1193.6" y="761.5" font-size="15" fill="#fff" font-weight="normal" text-anchor="start" letter-spacing="1.0">0.0</text>
<line x1="1188" y1="790.6" x2="1192" y2="790.6" stroke="#0c1846" stroke-width="1.2"/>
<text x="1193.6" y="794.9" font-size="15" fill="#fff" font-weight="normal" text-anchor="start" letter-spacing="1.0">-0.5</text>
<line x1="1188" y1="841.29" x2="1192" y2="841.29" stroke="#0c1846" stroke-width="1.2"/>
<text x="1193.6" y="845.59" font-size="15" fill="#fff" font-weight="normal" text-anchor="start" letter-spacing="1.0">80</text>
<line x1="1188" y1="872.7" x2="1192" y2="872.7" stroke="#0c1846" stroke-width="1.2"/>
<text x="1193.6" y="877" font-size="15" fill="#fff" font-weight="normal" text-anchor="start" letter-spacing="1.0">50</text>
<line x1="1188" y1="904.11" x2="1192" y2="904.11" stroke="#0c1846" stroke-width="1.2"/>
<text x="1193.6" y="908.41" font-size="15" fill="#fff" font-weight="normal" text-anchor="start" letter-spacing="1.0">20</text>
<polygon points="1185.3,121.95 1190.6,114.7 1235.5,114.7 1235.5,129.2 1190.6,129.2" fill="#fff" stroke="#24324a" stroke-width="1.2"/>
<text x="1192.2" y="126.95" font-size="14" fill="#000" font-weight="normal" text-anchor="start" letter-spacing="1">41.97</text>
<polygon points="1185.3,300.7 1190.6,293.4 1235.5,293.4 1235.5,308 1190.6,308" fill="#fff" stroke="#3c8a2c" stroke-width="1.2"/>
<text x="1192.2" y="305.7" font-size="14" fill="#000" font-weight="normal" text-anchor="start" letter-spacing="1">24.26</text>
<polygon points="1185.3,334.95 1190.6,328.7 1235.5,328.7 1235.5,341.2 1190.6,341.2" fill="#fff" stroke="#c8143c" stroke-width="1.2"/>
<text x="1192.2" y="339.95" font-size="14" fill="#000" font-weight="normal" text-anchor="start" letter-spacing="1">23.63</text>
<polygon points="1185.3,321.45 1190.6,314.2 1235.5,314.2 1235.5,328.7 1190.6,328.7" fill="#fff" stroke="#2020a0" stroke-width="1.2"/>
<text x="1192.2" y="326.45" font-size="14" fill="#000" font-weight="normal" text-anchor="start" letter-spacing="1">23.87</text>
<polygon points="1185.3,355 1190.6,346.8 1235.5,346.8 1235.5,363.2 1190.6,363.2" fill="#fff" stroke="#000" stroke-width="1.2"/>
<text x="1192.2" y="360" font-size="15" fill="#000" font-weight="bold" text-anchor="start" letter-spacing="0.6">23.24</text>
<polygon points="1185.3,748.2 1190.6,741.2 1235.6,741.2 1235.6,755.2 1190.6,755.2" fill="#fff" stroke="#6e2438" stroke-width="1.2"/>
<text x="1192.2" y="753.2" font-size="14" fill="#000" font-weight="normal" text-anchor="start" letter-spacing="1">0.104</text>
<polygon points="1185.3,757.55 1190.6,750.6 1239,750.6 1239,764.5 1190.6,764.5" fill="#fff" stroke="#24324a" stroke-width="1.2"/>
<text x="1192.2" y="762.55" font-size="14" fill="#000" font-weight="normal" text-anchor="start" letter-spacing="1">-0.030</text>
<polygon points="1185.3,750.05 1190.6,743.3 1235.5,743.3 1235.5,756.8 1190.6,756.8" fill="#fff" stroke="#24324a" stroke-width="1.2"/>
<text x="1192.2" y="755.05" font-size="14" fill="#000" font-weight="normal" text-anchor="start" letter-spacing="1">0.074</text>
<polygon points="1185.3,869.95 1190.6,862.7 1235.5,862.7 1235.5,877.2 1190.6,877.2" fill="#fff" stroke="#6e2438" stroke-width="1.2"/>
<text x="1192.2" y="874.95" font-size="14" fill="#000" font-weight="normal" text-anchor="start" letter-spacing="1">51.84</text>
<polygon points="1185.3,888.3 1190.6,881.3 1235.5,881.3 1235.5,895.3 1190.6,895.3" fill="#fff" stroke="#24324a" stroke-width="1.2"/>
<text x="1192.2" y="893.3" font-size="14" fill="#000" font-weight="normal" text-anchor="start" letter-spacing="1">35.41</text>
<polygon points="1185.3,636.1 1190.6,628.7 1256,628.7 1256,643.5 1190.6,643.5" fill="#fff" stroke="#222" stroke-width="1.2"/>
<text x="1192.2" y="641.1" font-size="14" fill="#000" font-weight="normal" text-anchor="start" letter-spacing="1">4749700</text>
<!-- header -->
<text x="12" y="29.5" font-size="20" font-weight="bold" fill="#fff" textLength="80.5" lengthAdjust="spacingAndGlyphs">$SILVER</text>
<text x="97.3" y="28.5" font-size="15" fill="#fff" textLength="250.5" lengthAdjust="spacingAndGlyphs">Silver - Continuous Contract (EOD)</text>
<text x="355.4" y="28.5" font-size="14" fill="#fff" textLength="33" lengthAdjust="spacingAndGlyphs">CME</text>
<text x="11" y="47" font-size="13.5" fill="#fff" textLength="81.5" lengthAdjust="spacingAndGlyphs">7-Sep-2023</text>
<text x="1054" y="28.5" font-size="14.5" fill="#cfd6e0" textLength="135" lengthAdjust="spacingAndGlyphs">&#169; StockCharts.com</text>
<g font-size="14" fill="#fff">
<text x="542" y="47" font-weight="bold" textLength="42.5" lengthAdjust="spacingAndGlyphs">Open</text>
<text x="589.8" y="47" textLength="39.5" lengthAdjust="spacingAndGlyphs">23.50</text>
<text x="640" y="47" font-weight="bold" textLength="35.5" lengthAdjust="spacingAndGlyphs">High</text>
<text x="680.7" y="47" textLength="39.5" lengthAdjust="spacingAndGlyphs">23.50</text>
<text x="729.6" y="47" font-weight="bold" textLength="35.8" lengthAdjust="spacingAndGlyphs">Low</text>
<text x="770.7" y="47" textLength="39.5" lengthAdjust="spacingAndGlyphs">23.13</text>
<text x="820.5" y="47" font-weight="bold" textLength="46.3" lengthAdjust="spacingAndGlyphs">Close</text>
<text x="873.1" y="47" textLength="40.5" lengthAdjust="spacingAndGlyphs">23.24</text>
<text x="923.1" y="47" font-weight="bold" textLength="62.5" lengthAdjust="spacingAndGlyphs">Volume</text>
<text x="990.9" y="47" textLength="35.5" lengthAdjust="spacingAndGlyphs">4.7M</text>
<text x="1036.4" y="47" font-weight="bold" textLength="32.3" lengthAdjust="spacingAndGlyphs">Chg</text>
<text x="1073.8" y="47" textLength="100" lengthAdjust="spacingAndGlyphs">-0.26 (-1.12%)</text>
</g>
<polygon points="1177.2,40.4 1188,40.4 1182.6,46.6" fill="#b01030"/>
<circle cx="1256" cy="13" r="13.8" fill="#4a4a4a" opacity="0.85"/>
<circle cx="1256" cy="13" r="11.6" fill="#333" stroke="#d8d8d8" stroke-width="1.6"/>
<rect x="1252.9" y="0" width="1.2" height="963" fill="#eeeeee"/>
</svg>
</body></html>
